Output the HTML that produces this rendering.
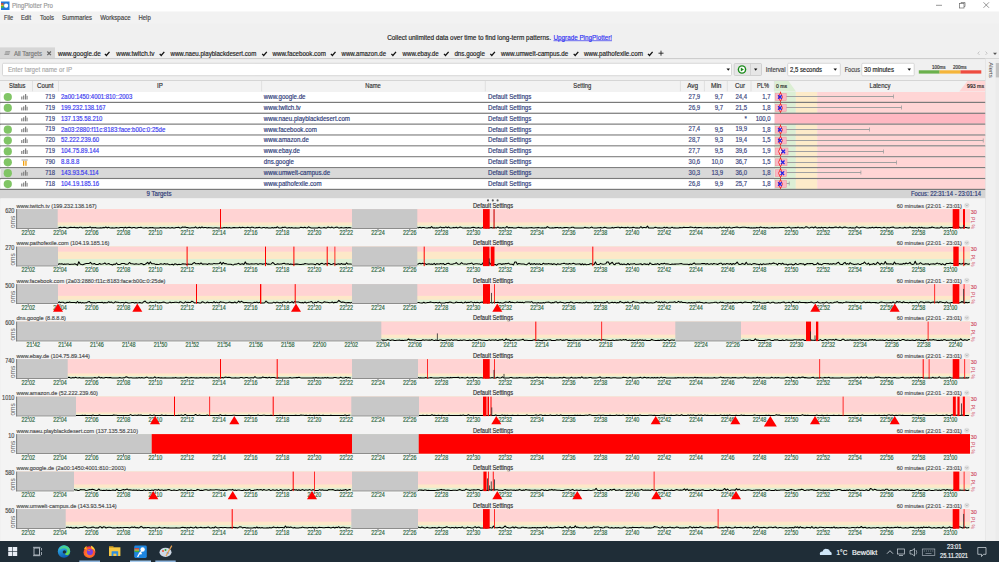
<!DOCTYPE html>
<html><head><meta charset="utf-8"><title>PingPlotter Pro</title>
<style>html,body{margin:0;padding:0;width:999px;height:562px;overflow:hidden;background:#f0f0f0;font-family:"Liberation Sans",sans-serif}svg{display:block}</style>
</head><body>
<svg width="999" height="562" viewBox="0 0 999 562" font-family='"Liberation Sans", sans-serif'><rect x="0.00" y="0.00" width="999.00" height="562.00" fill="#f0f0f0" />
<rect x="0.00" y="11.50" width="999.00" height="12.00" fill="#f2f2f2" />
<rect x="0.00" y="0.00" width="999.00" height="11.50" fill="#ffffff" />
<rect x="1.00" y="1.50" width="8.50" height="8.50" fill="#1f78d8" />
<rect x="1.00" y="3.20" width="2.60" height="1.50" fill="#e0402c" />
<rect x="1.00" y="4.70" width="2.60" height="1.50" fill="#e8c020" />
<rect x="1.00" y="6.20" width="2.60" height="1.60" fill="#50c030" />
<circle cx="6.1" cy="5.7" r="2.1" fill="#fff"/>
<text x="12.00" y="7.80" font-size="6.94" fill="#9a9a9a" text-anchor="start" textLength="41.00" lengthAdjust="spacingAndGlyphs" stroke="#9a9a9a" stroke-width="0.18" >PingPlotter Pro</text>
<line x1="936.00" y1="5.30" x2="942.00" y2="5.30" stroke="#6a6a6a" stroke-width="0.7" />
<rect x="959.5" y="3.5" width="4.5" height="4.5" fill="none" stroke="#6a6a6a" stroke-width="0.7"/>
<path d="M961 3.5 V2.5 H965 V6.5 H964" fill="none" stroke="#6a6a6a" stroke-width="0.7"/>
<line x1="983.50" y1="2.30" x2="989.00" y2="7.80" stroke="#6a6a6a" stroke-width="0.7" />
<line x1="989.00" y1="2.30" x2="983.50" y2="7.80" stroke="#6a6a6a" stroke-width="0.7" />
<text x="4.00" y="19.94" font-size="7.06" fill="#444" text-anchor="start" textLength="9.00" lengthAdjust="spacingAndGlyphs" stroke="#444" stroke-width="0.18" >File</text>
<text x="21.00" y="19.94" font-size="7.06" fill="#444" text-anchor="start" textLength="10.00" lengthAdjust="spacingAndGlyphs" stroke="#444" stroke-width="0.18" >Edit</text>
<text x="40.00" y="19.94" font-size="7.06" fill="#444" text-anchor="start" textLength="14.00" lengthAdjust="spacingAndGlyphs" stroke="#444" stroke-width="0.18" >Tools</text>
<text x="62.00" y="19.94" font-size="7.06" fill="#444" text-anchor="start" textLength="30.00" lengthAdjust="spacingAndGlyphs" stroke="#444" stroke-width="0.18" >Summaries</text>
<text x="100.20" y="19.94" font-size="7.06" fill="#444" text-anchor="start" textLength="30.40" lengthAdjust="spacingAndGlyphs" stroke="#444" stroke-width="0.18" >Workspace</text>
<text x="138.50" y="19.94" font-size="7.06" fill="#444" text-anchor="start" textLength="12.20" lengthAdjust="spacingAndGlyphs" stroke="#444" stroke-width="0.18" >Help</text>
<text x="387.20" y="40.06" font-size="7.39" fill="#222" text-anchor="start" textLength="163.80" lengthAdjust="spacingAndGlyphs" stroke="#222" stroke-width="0.18" >Collect unlimited data over time to find long-term patterns.</text>
<text x="553.50" y="40.06" font-size="7.39" fill="#3030f0" text-anchor="start" textLength="58.50" lengthAdjust="spacingAndGlyphs" stroke="#3030f0" stroke-width="0.18" >Upgrade PingPlotter!</text>
<line x1="553.50" y1="40.70" x2="612.00" y2="40.70" stroke="#3030f0" stroke-width="0.7" />
<rect x="0.00" y="47.40" width="55.00" height="11.00" fill="#d6d6d6" />
<line x1="5.40" y1="51.70" x2="10.20" y2="51.70" stroke="#8c8c8c" stroke-width="0.85" />
<line x1="4.90" y1="53.05" x2="9.70" y2="53.05" stroke="#8c8c8c" stroke-width="0.85" />
<line x1="4.40" y1="54.40" x2="9.20" y2="54.40" stroke="#8c8c8c" stroke-width="0.85" />
<text x="14.00" y="55.66" font-size="6.83" fill="#777" text-anchor="start" textLength="28.00" lengthAdjust="spacingAndGlyphs" stroke="#777" stroke-width="0.18" >All Targets</text>
<line x1="47.30" y1="51.50" x2="50.90" y2="55.10" stroke="#666" stroke-width="1.3" />
<line x1="50.90" y1="51.50" x2="47.30" y2="55.10" stroke="#666" stroke-width="1.3" />
<text x="58.00" y="55.84" font-size="7.06" fill="#222" text-anchor="start" textLength="42.70" lengthAdjust="spacingAndGlyphs" stroke="#222" stroke-width="0.18" >www.google.de</text>
<path d="M104.90 53.90 L106.40 55.50 L109.50 51.90" fill="none" stroke="#111" stroke-width="1.3"/>
<text x="116.30" y="55.84" font-size="7.06" fill="#222" text-anchor="start" textLength="38.20" lengthAdjust="spacingAndGlyphs" stroke="#222" stroke-width="0.18" >www.twitch.tv</text>
<path d="M159.70 53.90 L161.20 55.50 L164.30 51.90" fill="none" stroke="#111" stroke-width="1.3"/>
<text x="170.50" y="55.84" font-size="7.06" fill="#222" text-anchor="start" textLength="85.80" lengthAdjust="spacingAndGlyphs" stroke="#222" stroke-width="0.18" >www.naeu.playblackdesert.com</text>
<path d="M262.20 53.90 L263.70 55.50 L266.80 51.90" fill="none" stroke="#111" stroke-width="1.3"/>
<text x="272.50" y="55.84" font-size="7.06" fill="#222" text-anchor="start" textLength="53.30" lengthAdjust="spacingAndGlyphs" stroke="#222" stroke-width="0.18" >www.facebook.com</text>
<path d="M330.90 53.90 L332.40 55.50 L335.50 51.90" fill="none" stroke="#111" stroke-width="1.3"/>
<text x="341.60" y="55.84" font-size="7.06" fill="#222" text-anchor="start" textLength="44.40" lengthAdjust="spacingAndGlyphs" stroke="#222" stroke-width="0.18" >www.amazon.de</text>
<path d="M391.40 53.90 L392.90 55.50 L396.00 51.90" fill="none" stroke="#111" stroke-width="1.3"/>
<text x="402.50" y="55.84" font-size="7.06" fill="#222" text-anchor="start" textLength="36.10" lengthAdjust="spacingAndGlyphs" stroke="#222" stroke-width="0.18" >www.ebay.de</text>
<path d="M444.00 53.90 L445.50 55.50 L448.60 51.90" fill="none" stroke="#111" stroke-width="1.3"/>
<text x="454.40" y="55.84" font-size="7.06" fill="#222" text-anchor="start" textLength="30.50" lengthAdjust="spacingAndGlyphs" stroke="#222" stroke-width="0.18" >dns.google</text>
<path d="M490.30 53.90 L491.80 55.50 L494.90 51.90" fill="none" stroke="#111" stroke-width="1.3"/>
<text x="501.00" y="55.84" font-size="7.06" fill="#222" text-anchor="start" textLength="67.30" lengthAdjust="spacingAndGlyphs" stroke="#222" stroke-width="0.18" >www.umwelt-campus.de</text>
<path d="M573.70 53.90 L575.20 55.50 L578.30 51.90" fill="none" stroke="#111" stroke-width="1.3"/>
<text x="584.00" y="55.84" font-size="7.06" fill="#222" text-anchor="start" textLength="58.90" lengthAdjust="spacingAndGlyphs" stroke="#222" stroke-width="0.18" >www.pathofexile.com</text>
<path d="M648.00 53.90 L649.50 55.50 L652.60 51.90" fill="none" stroke="#111" stroke-width="1.3"/>
<line x1="658.50" y1="53.20" x2="663.50" y2="53.20" stroke="#222" stroke-width="0.9" />
<line x1="661.00" y1="50.70" x2="661.00" y2="55.70" stroke="#222" stroke-width="0.9" />
<path d="M979.5 51.5 L977.8 53.2 L979.5 54.9" fill="none" stroke="#aaa" stroke-width="0.6"/>
<path d="M985.5 51.5 L987.2 53.2 L985.5 54.9" fill="none" stroke="#aaa" stroke-width="0.6"/>
<path d="M993 52.8 L997 52.8 L995 55 Z" fill="#555"/>
<line x1="0.00" y1="58.60" x2="985.00" y2="58.60" stroke="#c9c9c9" stroke-width="1" />
<line x1="985.00" y1="58.60" x2="999.00" y2="58.60" stroke="#d4d4d4" stroke-width="1" />
<rect x="2.5" y="63.3" width="729" height="12.4" rx="1.2" fill="#fff" stroke="#c8c8c8" stroke-width="0.7"/>
<text x="8.00" y="72.10" font-size="6.94" fill="#aaa" text-anchor="start" textLength="64.00" lengthAdjust="spacingAndGlyphs" stroke="#aaa" stroke-width="0.18" >Enter target name or IP</text>
<path d="M726.5 68.5 L730 68.5 L728.25 70.8 Z" fill="#111"/>
<rect x="734.2" y="63.5" width="27.3" height="12" rx="1" fill="#e6e6e6" stroke="#c4c4c4" stroke-width="0.7"/>
<line x1="750.50" y1="63.80" x2="750.50" y2="75.20" stroke="#c8c8c8" stroke-width="0.7" />
<circle cx="742" cy="69.5" r="4.3" fill="#1a8a1a"/>
<circle cx="742" cy="69.5" r="2.9" fill="#fff"/>
<path d="M740.8 67.6 L740.8 71.4 L743.9 69.5 Z" fill="#1a8a1a"/>
<path d="M754 68.6 L757.4 68.6 L755.7 70.7 Z" fill="#111"/>
<text x="765.80" y="72.10" font-size="6.94" fill="#444" text-anchor="start" textLength="19.70" lengthAdjust="spacingAndGlyphs" stroke="#444" stroke-width="0.18" >Interval</text>
<rect x="787.7" y="63.3" width="52.6" height="12.5" rx="1" fill="#fff" stroke="#c8c8c8" stroke-width="0.7"/>
<text x="790.00" y="72.34" font-size="7.06" fill="#222" text-anchor="start" textLength="32.00" lengthAdjust="spacingAndGlyphs" stroke="#222" stroke-width="0.18" >2,5 seconds</text>
<path d="M833.5 68.6 L837 68.6 L835.25 70.8 Z" fill="#111"/>
<text x="844.70" y="72.10" font-size="6.94" fill="#444" text-anchor="start" textLength="15.30" lengthAdjust="spacingAndGlyphs" stroke="#444" stroke-width="0.18" >Focus</text>
<rect x="861.8" y="63.3" width="52.4" height="12.5" rx="1" fill="#fff" stroke="#c8c8c8" stroke-width="0.7"/>
<text x="864.00" y="72.34" font-size="7.06" fill="#222" text-anchor="start" textLength="30.00" lengthAdjust="spacingAndGlyphs" stroke="#222" stroke-width="0.18" >30 minutes</text>
<path d="M907.5 68.6 L911 68.6 L909.25 70.8 Z" fill="#111"/>
<rect x="918.80" y="70.30" width="20.80" height="3.30" fill="#6ab04c" />
<rect x="939.60" y="70.30" width="20.90" height="3.30" fill="#f5b53a" />
<rect x="960.50" y="70.30" width="20.80" height="3.30" fill="#ee4c40" />
<text x="932.00" y="69.05" font-size="5.15" fill="#333" text-anchor="start" textLength="13.50" lengthAdjust="spacingAndGlyphs" stroke="#333" stroke-width="0.18" >100ms</text>
<text x="953.00" y="69.05" font-size="5.15" fill="#333" text-anchor="start" textLength="13.50" lengthAdjust="spacingAndGlyphs" stroke="#333" stroke-width="0.18" >200ms</text>
<rect x="985.50" y="59.00" width="13.50" height="482.00" fill="#f0f0f0" />
<line x1="985.50" y1="59.00" x2="985.50" y2="541.00" stroke="#e2e2e2" stroke-width="0.8" />
<text x="0" y="0" font-size="5.8" fill="#444" transform="translate(988.6,62.3) rotate(90)" textLength="15.5" lengthAdjust="spacingAndGlyphs">Alerts</text>
<rect x="995.60" y="60.00" width="3.40" height="481.00" fill="#ececec" />
<rect x="995.80" y="63.00" width="3.20" height="14.40" fill="#c2c2c2" />
<rect x="0.00" y="80.00" width="985.20" height="0.80" fill="#c6c6c6" />
<rect x="0.00" y="80.80" width="985.20" height="10.90" fill="#f2f2f2" />
<line x1="32.50" y1="81.00" x2="32.50" y2="91.30" stroke="#dadada" stroke-width="0.8" />
<line x1="58.50" y1="81.00" x2="58.50" y2="91.30" stroke="#dadada" stroke-width="0.8" />
<line x1="261.60" y1="81.00" x2="261.60" y2="91.30" stroke="#dadada" stroke-width="0.8" />
<line x1="485.30" y1="81.00" x2="485.30" y2="91.30" stroke="#dadada" stroke-width="0.8" />
<line x1="680.40" y1="81.00" x2="680.40" y2="91.30" stroke="#dadada" stroke-width="0.8" />
<line x1="704.40" y1="81.00" x2="704.40" y2="91.30" stroke="#dadada" stroke-width="0.8" />
<line x1="727.30" y1="81.00" x2="727.30" y2="91.30" stroke="#dadada" stroke-width="0.8" />
<line x1="751.00" y1="81.00" x2="751.00" y2="91.30" stroke="#dadada" stroke-width="0.8" />
<line x1="774.40" y1="81.00" x2="774.40" y2="91.30" stroke="#dadada" stroke-width="0.8" />
<text x="9.00" y="88.26" font-size="6.83" fill="#333" text-anchor="start" textLength="16.50" lengthAdjust="spacingAndGlyphs" stroke="#333" stroke-width="0.18" >Status</text>
<text x="37.00" y="88.30" font-size="6.94" fill="#333" text-anchor="start" textLength="16.50" lengthAdjust="spacingAndGlyphs" stroke="#333" stroke-width="0.18" >Count</text>
<text x="160.00" y="88.30" font-size="6.94" fill="#333" text-anchor="middle" textLength="5.86" lengthAdjust="spacingAndGlyphs" stroke="#333" stroke-width="0.18" >IP</text>
<text x="373.00" y="88.30" font-size="6.94" fill="#333" text-anchor="middle" textLength="15.50" lengthAdjust="spacingAndGlyphs" stroke="#333" stroke-width="0.18" >Name</text>
<text x="582.30" y="88.30" font-size="6.94" fill="#333" text-anchor="middle" textLength="18.00" lengthAdjust="spacingAndGlyphs" stroke="#333" stroke-width="0.18" >Setting</text>
<text x="698.20" y="88.30" font-size="6.94" fill="#333" text-anchor="end" textLength="11.00" lengthAdjust="spacingAndGlyphs" stroke="#333" stroke-width="0.18" >Avg</text>
<text x="721.50" y="88.30" font-size="6.94" fill="#333" text-anchor="end" textLength="10.50" lengthAdjust="spacingAndGlyphs" stroke="#333" stroke-width="0.18" >Min</text>
<text x="745.00" y="88.30" font-size="6.94" fill="#333" text-anchor="end" textLength="10.00" lengthAdjust="spacingAndGlyphs" stroke="#333" stroke-width="0.18" >Cur</text>
<text x="769.00" y="88.30" font-size="6.94" fill="#333" text-anchor="end" textLength="12.00" lengthAdjust="spacingAndGlyphs" stroke="#333" stroke-width="0.18" >PL%</text>
<path d="M774.6 81 L788.5 81 L796 91.6 L774.6 91.6 Z" fill="#dbeed3"/>
<path d="M967.4 81 L985.2 81 L985.2 91.6 L959.3 91.6 Z" fill="#ffd5d5"/>
<text x="776.00" y="88.36" font-size="5.71" fill="#222" text-anchor="start" textLength="11.00" lengthAdjust="spacingAndGlyphs" stroke="#222" stroke-width="0.18" >0 ms</text>
<text x="880.00" y="88.06" font-size="6.83" fill="#333" text-anchor="middle" textLength="20.80" lengthAdjust="spacingAndGlyphs" stroke="#333" stroke-width="0.18" >Latency</text>
<text x="984.00" y="88.20" font-size="5.82" fill="#222" text-anchor="end" textLength="17.00" lengthAdjust="spacingAndGlyphs" stroke="#222" stroke-width="0.18" >993 ms</text>
<rect x="0.80" y="92.00" width="773.60" height="10.00" fill="#ffffff" />
<rect x="774.60" y="92.00" width="21.20" height="10.00" fill="#dcefd5" />
<rect x="795.80" y="92.00" width="21.50" height="10.00" fill="#fdebc9" />
<rect x="817.30" y="92.00" width="167.90" height="10.00" fill="#ffd5d5" />
<rect x="776.00" y="96.00" width="117.70" height="1.00" fill="#a0a0a0" />
<rect x="893.20" y="94.50" width="0.80" height="4.00" fill="#a0a0a0" />
<rect x="775.2" y="93.50" width="11.00" height="7.00" fill="#f9b9c5" stroke="#f3909f" stroke-width="0.5"/>
<rect x="780.05" y="91.70" width="0.90" height="10.60" fill="#ee2020" />
<path d="M780.5 92.60 L782.4 97.00 L780.5 101.40 L778.6 97.00 Z" fill="#fbe3e6" stroke="#f02020" stroke-width="0.9"/>
<path d="M778.10 95.20 L781.70 98.80 M781.70 95.20 L778.10 98.80" stroke="#2222e8" stroke-width="1.35"/>
<rect x="0.00" y="101.80" width="985.20" height="1.40" fill="#7a7a7a" />
<circle cx="7.8" cy="97.00" r="4.1" fill="#80c565"/>
<rect x="21.20" y="96.50" width="1.20" height="3.00" fill="#808080" />
<rect x="23.10" y="95.50" width="1.20" height="4.00" fill="#808080" />
<rect x="25.00" y="94.00" width="1.20" height="5.50" fill="#808080" />
<rect x="26.60" y="95.80" width="1.00" height="3.70" fill="#808080" />
<text x="55.00" y="98.77" font-size="6.59" fill="#3a4680" text-anchor="end" textLength="9.81" lengthAdjust="spacingAndGlyphs" stroke="#3a4680" stroke-width="0.18" >719</text>
<text x="61.00" y="98.80" font-size="6.68" fill="#3b3bf0" text-anchor="start" textLength="71.26" lengthAdjust="spacingAndGlyphs" stroke="#3b3bf0" stroke-width="0.18" >2a00:1450:4001:810::2003</text>
<text x="263.80" y="98.88" font-size="6.89" fill="#2d3a78" text-anchor="start" textLength="41.71" lengthAdjust="spacingAndGlyphs" stroke="#2d3a78" stroke-width="0.18" >www.google.de</text>
<text x="488.00" y="98.88" font-size="6.89" fill="#2d3a78" text-anchor="start" textLength="43.30" lengthAdjust="spacingAndGlyphs" stroke="#2d3a78" stroke-width="0.18" >Default Settings</text>
<text x="700.20" y="98.80" font-size="6.68" fill="#3a4680" text-anchor="end" textLength="11.60" lengthAdjust="spacingAndGlyphs" stroke="#3a4680" stroke-width="0.18" >27,9</text>
<text x="723.00" y="98.81" font-size="6.71" fill="#3a4680" text-anchor="end" textLength="8.32" lengthAdjust="spacingAndGlyphs" stroke="#3a4680" stroke-width="0.18" >9,7</text>
<text x="747.00" y="98.80" font-size="6.68" fill="#3a4680" text-anchor="end" textLength="11.60" lengthAdjust="spacingAndGlyphs" stroke="#3a4680" stroke-width="0.18" >24,4</text>
<text x="770.50" y="98.81" font-size="6.71" fill="#3a4680" text-anchor="end" textLength="8.32" lengthAdjust="spacingAndGlyphs" stroke="#3a4680" stroke-width="0.18" >1,7</text>
<rect x="0.80" y="103.00" width="773.60" height="9.88" fill="#ffffff" />
<rect x="774.60" y="103.00" width="21.20" height="9.88" fill="#dcefd5" />
<rect x="795.80" y="103.00" width="21.50" height="9.88" fill="#fdebc9" />
<rect x="817.30" y="103.00" width="167.90" height="9.88" fill="#ffd5d5" />
<rect x="776.00" y="107.00" width="125.70" height="1.00" fill="#a0a0a0" />
<rect x="901.20" y="105.50" width="0.80" height="4.00" fill="#a0a0a0" />
<rect x="775.2" y="104.50" width="11.00" height="6.88" fill="#f9b9c5" stroke="#f3909f" stroke-width="0.5"/>
<rect x="780.05" y="102.70" width="0.90" height="10.47" fill="#ee2020" />
<path d="M780.5 103.60 L782.4 107.94 L780.5 112.28 L778.6 107.94 Z" fill="#fbe3e6" stroke="#f02020" stroke-width="0.9"/>
<path d="M778.10 106.14 L781.70 109.74 M781.70 106.14 L778.10 109.74" stroke="#2222e8" stroke-width="1.35"/>
<rect x="0.00" y="112.67" width="985.20" height="1.40" fill="#7a7a7a" />
<circle cx="7.8" cy="107.94" r="4.1" fill="#80c565"/>
<rect x="21.20" y="107.44" width="1.20" height="3.00" fill="#808080" />
<rect x="23.10" y="106.44" width="1.20" height="4.00" fill="#808080" />
<rect x="25.00" y="104.94" width="1.20" height="5.50" fill="#808080" />
<rect x="26.60" y="106.74" width="1.00" height="3.70" fill="#808080" />
<text x="55.00" y="109.71" font-size="6.59" fill="#3a4680" text-anchor="end" textLength="9.81" lengthAdjust="spacingAndGlyphs" stroke="#3a4680" stroke-width="0.18" >719</text>
<text x="61.00" y="109.73" font-size="6.66" fill="#3b3bf0" text-anchor="start" textLength="44.62" lengthAdjust="spacingAndGlyphs" stroke="#3b3bf0" stroke-width="0.18" >199.232.138.167</text>
<text x="263.80" y="109.82" font-size="6.89" fill="#2d3a78" text-anchor="start" textLength="36.91" lengthAdjust="spacingAndGlyphs" stroke="#2d3a78" stroke-width="0.18" >www.twitch.tv</text>
<text x="488.00" y="109.82" font-size="6.89" fill="#2d3a78" text-anchor="start" textLength="43.30" lengthAdjust="spacingAndGlyphs" stroke="#2d3a78" stroke-width="0.18" >Default Settings</text>
<text x="700.20" y="109.74" font-size="6.68" fill="#3a4680" text-anchor="end" textLength="11.60" lengthAdjust="spacingAndGlyphs" stroke="#3a4680" stroke-width="0.18" >26,9</text>
<text x="723.00" y="109.75" font-size="6.71" fill="#3a4680" text-anchor="end" textLength="8.32" lengthAdjust="spacingAndGlyphs" stroke="#3a4680" stroke-width="0.18" >9,7</text>
<text x="747.00" y="109.74" font-size="6.68" fill="#3a4680" text-anchor="end" textLength="11.60" lengthAdjust="spacingAndGlyphs" stroke="#3a4680" stroke-width="0.18" >21,5</text>
<text x="770.50" y="109.75" font-size="6.71" fill="#3a4680" text-anchor="end" textLength="8.32" lengthAdjust="spacingAndGlyphs" stroke="#3a4680" stroke-width="0.18" >1,8</text>
<rect x="0.80" y="113.88" width="773.60" height="9.88" fill="#ffffff" />
<rect x="774.60" y="113.88" width="210.60" height="9.88" fill="#ffb8c2" />
<rect x="0.00" y="123.55" width="985.20" height="1.40" fill="#7a7a7a" />
<rect x="21.20" y="118.31" width="1.20" height="3.00" fill="#808080" />
<rect x="23.10" y="117.31" width="1.20" height="4.00" fill="#808080" />
<rect x="25.00" y="115.81" width="1.20" height="5.50" fill="#808080" />
<rect x="26.60" y="117.61" width="1.00" height="3.70" fill="#808080" />
<text x="55.00" y="120.58" font-size="6.59" fill="#3a4680" text-anchor="end" textLength="9.81" lengthAdjust="spacingAndGlyphs" stroke="#3a4680" stroke-width="0.18" >719</text>
<text x="61.00" y="120.61" font-size="6.66" fill="#3b3bf0" text-anchor="start" textLength="41.35" lengthAdjust="spacingAndGlyphs" stroke="#3b3bf0" stroke-width="0.18" >137.135.58.210</text>
<text x="263.80" y="120.69" font-size="6.89" fill="#2d3a78" text-anchor="start" textLength="86.14" lengthAdjust="spacingAndGlyphs" stroke="#2d3a78" stroke-width="0.18" >www.naeu.playblackdesert.com</text>
<text x="488.00" y="120.69" font-size="6.89" fill="#2d3a78" text-anchor="start" textLength="43.30" lengthAdjust="spacingAndGlyphs" stroke="#2d3a78" stroke-width="0.18" >Default Settings</text>
<text x="747.00" y="120.71" font-size="6.94" fill="#3a4680" text-anchor="end" textLength="2.41" lengthAdjust="spacingAndGlyphs" stroke="#3a4680" stroke-width="0.18" >*</text>
<text x="770.50" y="120.61" font-size="6.66" fill="#3a4680" text-anchor="end" textLength="14.87" lengthAdjust="spacingAndGlyphs" stroke="#3a4680" stroke-width="0.18" >100,0</text>
<rect x="0.80" y="124.75" width="773.60" height="9.88" fill="#ffffff" />
<rect x="774.60" y="124.75" width="21.20" height="9.88" fill="#dcefd5" />
<rect x="795.80" y="124.75" width="21.50" height="9.88" fill="#fdebc9" />
<rect x="817.30" y="124.75" width="167.90" height="9.88" fill="#ffd5d5" />
<rect x="776.00" y="129.00" width="93.70" height="1.00" fill="#a0a0a0" />
<rect x="869.20" y="127.50" width="0.80" height="4.00" fill="#a0a0a0" />
<rect x="775.2" y="126.25" width="11.00" height="6.88" fill="#f9b9c5" stroke="#f3909f" stroke-width="0.5"/>
<rect x="780.05" y="124.45" width="0.90" height="10.47" fill="#ee2020" />
<path d="M780.5 125.35 L782.4 129.69 L780.5 134.03 L778.6 129.69 Z" fill="#fbe3e6" stroke="#f02020" stroke-width="0.9"/>
<path d="M778.10 127.89 L781.70 131.49 M781.70 127.89 L778.10 131.49" stroke="#2222e8" stroke-width="1.35"/>
<rect x="0.00" y="134.43" width="985.20" height="1.40" fill="#7a7a7a" />
<circle cx="7.8" cy="129.69" r="4.1" fill="#80c565"/>
<rect x="21.20" y="129.19" width="1.20" height="3.00" fill="#808080" />
<rect x="23.10" y="128.19" width="1.20" height="4.00" fill="#808080" />
<rect x="25.00" y="126.69" width="1.20" height="5.50" fill="#808080" />
<rect x="26.60" y="128.49" width="1.00" height="3.70" fill="#808080" />
<text x="55.00" y="131.46" font-size="6.59" fill="#3a4680" text-anchor="end" textLength="9.81" lengthAdjust="spacingAndGlyphs" stroke="#3a4680" stroke-width="0.18" >719</text>
<text x="61.00" y="131.52" font-size="6.76" fill="#3b3bf0" text-anchor="start" textLength="104.33" lengthAdjust="spacingAndGlyphs" stroke="#3b3bf0" stroke-width="0.18" >2a03:2880:f11c:8183:face:b00c:0:25de</text>
<text x="263.80" y="131.57" font-size="6.89" fill="#2d3a78" text-anchor="start" textLength="52.98" lengthAdjust="spacingAndGlyphs" stroke="#2d3a78" stroke-width="0.18" >www.facebook.com</text>
<text x="488.00" y="131.57" font-size="6.89" fill="#2d3a78" text-anchor="start" textLength="43.30" lengthAdjust="spacingAndGlyphs" stroke="#2d3a78" stroke-width="0.18" >Default Settings</text>
<text x="700.20" y="131.49" font-size="6.68" fill="#3a4680" text-anchor="end" textLength="11.60" lengthAdjust="spacingAndGlyphs" stroke="#3a4680" stroke-width="0.18" >27,4</text>
<text x="723.00" y="131.50" font-size="6.71" fill="#3a4680" text-anchor="end" textLength="8.32" lengthAdjust="spacingAndGlyphs" stroke="#3a4680" stroke-width="0.18" >9,5</text>
<text x="747.00" y="131.49" font-size="6.68" fill="#3a4680" text-anchor="end" textLength="11.60" lengthAdjust="spacingAndGlyphs" stroke="#3a4680" stroke-width="0.18" >19,9</text>
<text x="770.50" y="131.50" font-size="6.71" fill="#3a4680" text-anchor="end" textLength="8.32" lengthAdjust="spacingAndGlyphs" stroke="#3a4680" stroke-width="0.18" >1,8</text>
<rect x="0.80" y="135.62" width="773.60" height="9.88" fill="#ffffff" />
<rect x="774.60" y="135.62" width="21.20" height="9.88" fill="#dcefd5" />
<rect x="795.80" y="135.62" width="21.50" height="9.88" fill="#fdebc9" />
<rect x="817.30" y="135.62" width="167.90" height="9.88" fill="#ffd5d5" />
<rect x="776.00" y="140.00" width="207.30" height="1.00" fill="#a0a0a0" />
<rect x="982.80" y="138.50" width="0.80" height="4.00" fill="#a0a0a0" />
<rect x="775.2" y="137.12" width="11.00" height="6.88" fill="#f9b9c5" stroke="#f3909f" stroke-width="0.5"/>
<rect x="780.05" y="135.32" width="0.90" height="10.47" fill="#ee2020" />
<path d="M780.5 136.22 L782.4 140.56 L780.5 144.90 L778.6 140.56 Z" fill="#fbe3e6" stroke="#f02020" stroke-width="0.9"/>
<path d="M778.10 138.76 L781.70 142.36 M781.70 138.76 L778.10 142.36" stroke="#2222e8" stroke-width="1.35"/>
<rect x="0.00" y="145.30" width="985.20" height="1.40" fill="#7a7a7a" />
<circle cx="7.8" cy="140.56" r="4.1" fill="#80c565"/>
<rect x="21.20" y="140.06" width="1.20" height="3.00" fill="#808080" />
<rect x="23.10" y="139.06" width="1.20" height="4.00" fill="#808080" />
<rect x="25.00" y="137.56" width="1.20" height="5.50" fill="#808080" />
<rect x="26.60" y="139.36" width="1.00" height="3.70" fill="#808080" />
<text x="55.00" y="142.33" font-size="6.59" fill="#3a4680" text-anchor="end" textLength="9.81" lengthAdjust="spacingAndGlyphs" stroke="#3a4680" stroke-width="0.18" >720</text>
<text x="61.00" y="142.36" font-size="6.67" fill="#3b3bf0" text-anchor="start" textLength="38.08" lengthAdjust="spacingAndGlyphs" stroke="#3b3bf0" stroke-width="0.18" >52.222.239.60</text>
<text x="263.80" y="142.44" font-size="6.89" fill="#2d3a78" text-anchor="start" textLength="45.12" lengthAdjust="spacingAndGlyphs" stroke="#2d3a78" stroke-width="0.18" >www.amazon.de</text>
<text x="488.00" y="142.44" font-size="6.89" fill="#2d3a78" text-anchor="start" textLength="43.30" lengthAdjust="spacingAndGlyphs" stroke="#2d3a78" stroke-width="0.18" >Default Settings</text>
<text x="700.20" y="142.37" font-size="6.68" fill="#3a4680" text-anchor="end" textLength="11.60" lengthAdjust="spacingAndGlyphs" stroke="#3a4680" stroke-width="0.18" >28,7</text>
<text x="723.00" y="142.38" font-size="6.71" fill="#3a4680" text-anchor="end" textLength="8.32" lengthAdjust="spacingAndGlyphs" stroke="#3a4680" stroke-width="0.18" >9,3</text>
<text x="747.00" y="142.37" font-size="6.68" fill="#3a4680" text-anchor="end" textLength="11.60" lengthAdjust="spacingAndGlyphs" stroke="#3a4680" stroke-width="0.18" >19,4</text>
<text x="770.50" y="142.38" font-size="6.71" fill="#3a4680" text-anchor="end" textLength="8.32" lengthAdjust="spacingAndGlyphs" stroke="#3a4680" stroke-width="0.18" >1,5</text>
<rect x="0.80" y="146.50" width="773.60" height="9.88" fill="#ffffff" />
<rect x="774.60" y="146.50" width="21.20" height="9.88" fill="#dcefd5" />
<rect x="795.80" y="146.50" width="21.50" height="9.88" fill="#fdebc9" />
<rect x="817.30" y="146.50" width="167.90" height="9.88" fill="#ffd5d5" />
<rect x="776.00" y="151.00" width="107.70" height="1.00" fill="#a0a0a0" />
<rect x="883.20" y="149.50" width="0.80" height="4.00" fill="#a0a0a0" />
<rect x="775.2" y="148.00" width="12.80" height="6.88" fill="#f9b9c5" stroke="#f3909f" stroke-width="0.5"/>
<rect x="780.05" y="146.20" width="0.90" height="10.47" fill="#ee2020" />
<path d="M780.5 147.10 L782.4 151.44 L780.5 155.78 L778.6 151.44 Z" fill="#fbe3e6" stroke="#f02020" stroke-width="0.9"/>
<path d="M781.50 149.64 L785.10 153.24 M785.10 149.64 L781.50 153.24" stroke="#2222e8" stroke-width="1.35"/>
<rect x="0.00" y="156.18" width="985.20" height="1.40" fill="#7a7a7a" />
<circle cx="7.8" cy="151.44" r="4.1" fill="#80c565"/>
<rect x="21.20" y="150.94" width="1.20" height="3.00" fill="#808080" />
<rect x="23.10" y="149.94" width="1.20" height="4.00" fill="#808080" />
<rect x="25.00" y="148.44" width="1.20" height="5.50" fill="#808080" />
<rect x="26.60" y="150.24" width="1.00" height="3.70" fill="#808080" />
<text x="55.00" y="153.21" font-size="6.59" fill="#3a4680" text-anchor="end" textLength="9.81" lengthAdjust="spacingAndGlyphs" stroke="#3a4680" stroke-width="0.18" >719</text>
<text x="61.00" y="153.24" font-size="6.67" fill="#3b3bf0" text-anchor="start" textLength="38.08" lengthAdjust="spacingAndGlyphs" stroke="#3b3bf0" stroke-width="0.18" >104.75.89.144</text>
<text x="263.80" y="153.32" font-size="6.89" fill="#2d3a78" text-anchor="start" textLength="36.12" lengthAdjust="spacingAndGlyphs" stroke="#2d3a78" stroke-width="0.18" >www.ebay.de</text>
<text x="488.00" y="153.32" font-size="6.89" fill="#2d3a78" text-anchor="start" textLength="43.30" lengthAdjust="spacingAndGlyphs" stroke="#2d3a78" stroke-width="0.18" >Default Settings</text>
<text x="700.20" y="153.24" font-size="6.68" fill="#3a4680" text-anchor="end" textLength="11.60" lengthAdjust="spacingAndGlyphs" stroke="#3a4680" stroke-width="0.18" >27,7</text>
<text x="723.00" y="153.25" font-size="6.71" fill="#3a4680" text-anchor="end" textLength="8.32" lengthAdjust="spacingAndGlyphs" stroke="#3a4680" stroke-width="0.18" >9,5</text>
<text x="747.00" y="153.24" font-size="6.68" fill="#3a4680" text-anchor="end" textLength="11.60" lengthAdjust="spacingAndGlyphs" stroke="#3a4680" stroke-width="0.18" >39,6</text>
<text x="770.50" y="153.25" font-size="6.71" fill="#3a4680" text-anchor="end" textLength="8.32" lengthAdjust="spacingAndGlyphs" stroke="#3a4680" stroke-width="0.18" >1,9</text>
<rect x="0.80" y="157.38" width="773.60" height="9.88" fill="#ffffff" />
<rect x="774.60" y="157.38" width="21.20" height="9.88" fill="#dcefd5" />
<rect x="795.80" y="157.38" width="21.50" height="9.88" fill="#fdebc9" />
<rect x="817.30" y="157.38" width="167.90" height="9.88" fill="#ffd5d5" />
<rect x="776.00" y="162.00" width="120.70" height="1.00" fill="#a0a0a0" />
<rect x="896.20" y="160.50" width="0.80" height="4.00" fill="#a0a0a0" />
<rect x="775.2" y="158.88" width="11.80" height="6.88" fill="#f9b9c5" stroke="#f3909f" stroke-width="0.5"/>
<rect x="780.05" y="157.07" width="0.90" height="10.47" fill="#ee2020" />
<path d="M780.5 157.97 L782.4 162.31 L780.5 166.65 L778.6 162.31 Z" fill="#fbe3e6" stroke="#f02020" stroke-width="0.9"/>
<path d="M780.90 160.51 L784.50 164.11 M784.50 160.51 L780.90 164.11" stroke="#2222e8" stroke-width="1.35"/>
<rect x="0.00" y="167.05" width="985.20" height="1.40" fill="#7a7a7a" />
<circle cx="7.8" cy="162.31" r="4.1" fill="#80c565"/>
<rect x="23.00" y="160.81" width="1.30" height="5.00" fill="#f0a010" />
<rect x="25.30" y="160.81" width="1.30" height="5.00" fill="#f0a010" />
<line x1="21.50" y1="160.01" x2="27.80" y2="160.01" stroke="#666" stroke-width="0.6" />
<text x="55.00" y="164.08" font-size="6.59" fill="#3a4680" text-anchor="end" textLength="9.81" lengthAdjust="spacingAndGlyphs" stroke="#3a4680" stroke-width="0.18" >790</text>
<text x="61.00" y="164.14" font-size="6.74" fill="#3b3bf0" text-anchor="start" textLength="18.40" lengthAdjust="spacingAndGlyphs" stroke="#3b3bf0" stroke-width="0.18" >8.8.8.8</text>
<text x="263.80" y="164.19" font-size="6.89" fill="#2d3a78" text-anchor="start" textLength="30.09" lengthAdjust="spacingAndGlyphs" stroke="#2d3a78" stroke-width="0.18" >dns.google</text>
<text x="488.00" y="164.19" font-size="6.89" fill="#2d3a78" text-anchor="start" textLength="43.30" lengthAdjust="spacingAndGlyphs" stroke="#2d3a78" stroke-width="0.18" >Default Settings</text>
<text x="700.20" y="164.12" font-size="6.68" fill="#3a4680" text-anchor="end" textLength="11.60" lengthAdjust="spacingAndGlyphs" stroke="#3a4680" stroke-width="0.18" >30,6</text>
<text x="723.00" y="164.12" font-size="6.68" fill="#3a4680" text-anchor="end" textLength="11.60" lengthAdjust="spacingAndGlyphs" stroke="#3a4680" stroke-width="0.18" >10,0</text>
<text x="747.00" y="164.12" font-size="6.68" fill="#3a4680" text-anchor="end" textLength="11.60" lengthAdjust="spacingAndGlyphs" stroke="#3a4680" stroke-width="0.18" >36,7</text>
<text x="770.50" y="164.13" font-size="6.71" fill="#3a4680" text-anchor="end" textLength="8.32" lengthAdjust="spacingAndGlyphs" stroke="#3a4680" stroke-width="0.18" >1,5</text>
<rect x="0.80" y="168.25" width="773.60" height="9.88" fill="#d9d9d9" />
<rect x="774.60" y="168.25" width="21.20" height="9.88" fill="#dcefd5" />
<rect x="795.80" y="168.25" width="21.50" height="9.88" fill="#fdebc9" />
<rect x="817.30" y="168.25" width="167.90" height="9.88" fill="#ffd5d5" />
<rect x="776.00" y="172.00" width="85.00" height="1.00" fill="#a0a0a0" />
<rect x="860.50" y="170.50" width="0.80" height="4.00" fill="#a0a0a0" />
<rect x="775.2" y="169.75" width="11.30" height="6.88" fill="#f9b9c5" stroke="#f3909f" stroke-width="0.5"/>
<rect x="780.05" y="167.95" width="0.90" height="10.47" fill="#ee2020" />
<path d="M780.5 168.85 L782.4 173.19 L780.5 177.53 L778.6 173.19 Z" fill="#fbe3e6" stroke="#f02020" stroke-width="0.9"/>
<path d="M780.50 171.39 L784.10 174.99 M784.10 171.39 L780.50 174.99" stroke="#2222e8" stroke-width="1.35"/>
<rect x="0.00" y="177.93" width="985.20" height="1.40" fill="#7a7a7a" />
<circle cx="7.8" cy="173.19" r="4.1" fill="#80c565"/>
<rect x="21.20" y="172.69" width="1.20" height="3.00" fill="#808080" />
<rect x="23.10" y="171.69" width="1.20" height="4.00" fill="#808080" />
<rect x="25.00" y="170.19" width="1.20" height="5.50" fill="#808080" />
<rect x="26.60" y="171.99" width="1.00" height="3.70" fill="#808080" />
<text x="55.00" y="174.96" font-size="6.59" fill="#3a4680" text-anchor="end" textLength="9.81" lengthAdjust="spacingAndGlyphs" stroke="#3a4680" stroke-width="0.18" >718</text>
<text x="61.00" y="174.99" font-size="6.67" fill="#3b3bf0" text-anchor="start" textLength="37.63" lengthAdjust="spacingAndGlyphs" stroke="#3b3bf0" stroke-width="0.18" >143.93.54.114</text>
<text x="263.80" y="175.07" font-size="6.89" fill="#2d3a78" text-anchor="start" textLength="66.31" lengthAdjust="spacingAndGlyphs" stroke="#2d3a78" stroke-width="0.18" >www.umwelt-campus.de</text>
<text x="488.00" y="175.07" font-size="6.89" fill="#2d3a78" text-anchor="start" textLength="43.30" lengthAdjust="spacingAndGlyphs" stroke="#2d3a78" stroke-width="0.18" >Default Settings</text>
<text x="700.20" y="174.99" font-size="6.68" fill="#3a4680" text-anchor="end" textLength="11.60" lengthAdjust="spacingAndGlyphs" stroke="#3a4680" stroke-width="0.18" >30,3</text>
<text x="723.00" y="174.99" font-size="6.68" fill="#3a4680" text-anchor="end" textLength="11.60" lengthAdjust="spacingAndGlyphs" stroke="#3a4680" stroke-width="0.18" >13,9</text>
<text x="747.00" y="174.99" font-size="6.68" fill="#3a4680" text-anchor="end" textLength="11.60" lengthAdjust="spacingAndGlyphs" stroke="#3a4680" stroke-width="0.18" >36,0</text>
<text x="770.50" y="175.00" font-size="6.71" fill="#3a4680" text-anchor="end" textLength="8.32" lengthAdjust="spacingAndGlyphs" stroke="#3a4680" stroke-width="0.18" >1,8</text>
<rect x="0.80" y="179.12" width="773.60" height="9.88" fill="#ffffff" />
<rect x="774.60" y="179.12" width="21.20" height="9.88" fill="#dcefd5" />
<rect x="795.80" y="179.12" width="21.50" height="9.88" fill="#fdebc9" />
<rect x="817.30" y="179.12" width="167.90" height="9.88" fill="#ffd5d5" />
<rect x="776.00" y="183.00" width="13.30" height="1.00" fill="#a0a0a0" />
<rect x="788.80" y="181.50" width="0.80" height="4.00" fill="#a0a0a0" />
<rect x="775.2" y="180.62" width="11.30" height="6.88" fill="#f9b9c5" stroke="#f3909f" stroke-width="0.5"/>
<rect x="780.05" y="178.82" width="0.90" height="10.47" fill="#ee2020" />
<path d="M780.5 179.72 L782.4 184.06 L780.5 188.40 L778.6 184.06 Z" fill="#fbe3e6" stroke="#f02020" stroke-width="0.9"/>
<path d="M778.10 182.26 L781.70 185.86 M781.70 182.26 L778.10 185.86" stroke="#2222e8" stroke-width="1.35"/>
<rect x="0.00" y="188.80" width="985.20" height="1.40" fill="#7a7a7a" />
<circle cx="7.8" cy="184.06" r="4.1" fill="#80c565"/>
<rect x="21.20" y="183.56" width="1.20" height="3.00" fill="#808080" />
<rect x="23.10" y="182.56" width="1.20" height="4.00" fill="#808080" />
<rect x="25.00" y="181.06" width="1.20" height="5.50" fill="#808080" />
<rect x="26.60" y="182.86" width="1.00" height="3.70" fill="#808080" />
<text x="55.00" y="185.83" font-size="6.59" fill="#3a4680" text-anchor="end" textLength="9.81" lengthAdjust="spacingAndGlyphs" stroke="#3a4680" stroke-width="0.18" >718</text>
<text x="61.00" y="185.86" font-size="6.67" fill="#3b3bf0" text-anchor="start" textLength="38.08" lengthAdjust="spacingAndGlyphs" stroke="#3b3bf0" stroke-width="0.18" >104.19.185.16</text>
<text x="263.80" y="185.94" font-size="6.89" fill="#2d3a78" text-anchor="start" textLength="57.77" lengthAdjust="spacingAndGlyphs" stroke="#2d3a78" stroke-width="0.18" >www.pathofexile.com</text>
<text x="488.00" y="185.94" font-size="6.89" fill="#2d3a78" text-anchor="start" textLength="43.30" lengthAdjust="spacingAndGlyphs" stroke="#2d3a78" stroke-width="0.18" >Default Settings</text>
<text x="700.20" y="185.87" font-size="6.68" fill="#3a4680" text-anchor="end" textLength="11.60" lengthAdjust="spacingAndGlyphs" stroke="#3a4680" stroke-width="0.18" >26,8</text>
<text x="723.00" y="185.88" font-size="6.71" fill="#3a4680" text-anchor="end" textLength="8.32" lengthAdjust="spacingAndGlyphs" stroke="#3a4680" stroke-width="0.18" >9,9</text>
<text x="747.00" y="185.87" font-size="6.68" fill="#3a4680" text-anchor="end" textLength="11.60" lengthAdjust="spacingAndGlyphs" stroke="#3a4680" stroke-width="0.18" >25,7</text>
<text x="770.50" y="185.88" font-size="6.71" fill="#3a4680" text-anchor="end" textLength="8.32" lengthAdjust="spacingAndGlyphs" stroke="#3a4680" stroke-width="0.18" >1,8</text>
<rect x="0.00" y="190.00" width="985.20" height="8.40" fill="#d4d4d4" />
<text x="159.00" y="196.36" font-size="6.83" fill="#2d3a78" text-anchor="middle" textLength="25.00" lengthAdjust="spacingAndGlyphs" stroke="#2d3a78" stroke-width="0.18" >9 Targets</text>
<text x="981.00" y="196.28" font-size="6.61" fill="#2d3a78" text-anchor="end" textLength="70.00" lengthAdjust="spacingAndGlyphs" stroke="#2d3a78" stroke-width="0.18" >Focus: 22:31:14 - 23:01:14</text>
<rect x="0.80" y="198.40" width="984.40" height="342.60" fill="#f4f4f4" />
<text x="16.50" y="207.84" font-size="6.22" fill="#505050" text-anchor="start" textLength="80.21" lengthAdjust="spacingAndGlyphs" stroke="#505050" stroke-width="0.18" >www.twitch.tv (199.232.138.167)</text>
<text x="493.00" y="207.86" font-size="6.27" fill="#303030" text-anchor="middle" textLength="40.00" lengthAdjust="spacingAndGlyphs" stroke="#303030" stroke-width="0.18" >Default Settings</text>
<text x="962.00" y="207.84" font-size="6.22" fill="#505050" text-anchor="end" textLength="65.30" lengthAdjust="spacingAndGlyphs" stroke="#505050" stroke-width="0.18" >60 minutes (22:01 - 23:01)</text>
<circle cx="966.8" cy="205.30" r="2.6" fill="#e0e0e0"/>
<path d="M965.5 204.60 L966.8 205.90 L968.1 204.60" fill="none" stroke="#888" stroke-width="0.5"/>
<text x="14.50" y="212.86" font-size="6.27" fill="#505050" text-anchor="end" textLength="9.34" lengthAdjust="spacingAndGlyphs" stroke="#505050" stroke-width="0.18" >620</text>
<text x="0" y="0" font-size="6.4" fill="#606060" transform="translate(14.7,228.00) rotate(-90)" textLength="12.2" lengthAdjust="spacingAndGlyphs">oms</text>
<text x="970.70" y="213.68" font-size="6.05" fill="#d04a62" text-anchor="start" textLength="6.10" lengthAdjust="spacingAndGlyphs" stroke="#d04a62" stroke-width="0.18" >30</text>
<text x="0" y="0" font-size="6.2" fill="#d04a62" transform="translate(971.1,217.10) rotate(90)" textLength="12" lengthAdjust="spacingAndGlyphs">PL %</text>
<rect x="16.80" y="209.10" width="953.20" height="19.60" fill="#ddf0d5" />
<rect x="16.80" y="209.10" width="953.20" height="16.44" fill="#fde8c8" />
<rect x="16.80" y="209.10" width="953.20" height="13.28" fill="#ffd3d3" />
<polyline points="57.7,227.9 59.0,227.8 60.3,227.2 61.6,227.8 62.9,227.6 64.2,227.3 65.5,227.6 66.8,227.9 68.1,227.9 69.4,227.6 70.7,227.3 72.0,227.5 73.3,227.6 74.6,227.2 75.9,227.7 77.2,227.5 78.5,227.9 79.8,227.2 81.1,227.3 82.4,227.9 83.7,227.7 85.0,227.5 86.3,227.8 87.6,227.5 88.9,227.6 90.2,227.0 91.5,227.9 92.8,227.6 94.1,227.7 95.4,227.5 96.7,227.9 98.0,227.9 99.3,227.9 100.6,227.8 101.9,227.9 103.2,227.4 104.5,227.7 105.8,227.0 107.1,227.9 108.4,227.3 109.7,227.7 111.0,227.9 112.3,227.7 113.6,227.9 114.9,227.9 116.2,227.6 117.5,227.8 118.8,227.9 120.1,227.6 121.4,227.4 122.7,227.5 124.0,227.9 125.3,227.3 126.6,227.9 127.9,227.5 129.2,227.2 130.5,227.5 131.8,227.9 133.1,227.5 134.4,227.5 135.7,227.9 137.0,227.9 138.3,227.4 139.6,227.6 140.9,227.3 142.2,227.8 143.5,227.9 144.8,227.9 146.1,227.5 147.4,227.9 148.7,227.9 150.0,227.5 151.3,227.8 152.6,227.5 153.9,227.9 155.2,227.9 156.5,227.9 157.8,227.9 159.1,227.9 160.4,227.5 161.7,227.9 163.0,227.7 164.3,227.6 165.6,227.9 166.9,227.9 168.2,227.6 169.5,227.9 170.8,227.9 172.1,227.5 173.4,227.9 174.7,227.9 176.0,227.4 177.3,227.6 178.6,227.3 179.9,227.9 181.2,227.9 182.5,227.0 183.8,227.3 185.1,227.0 186.4,227.6 187.7,227.5 189.0,227.9 190.3,227.9 191.6,227.7 192.9,227.7 194.2,227.8 195.5,226.8 196.8,227.9 198.1,227.9 199.4,227.3 200.7,227.9 202.0,226.8 203.3,227.8 204.6,227.4 205.9,227.6 207.2,227.9 208.5,227.6 209.8,227.8 211.1,227.8 212.4,227.9 213.7,227.9 215.0,227.8 216.3,227.7 217.6,227.9 218.9,227.9 220.2,227.9 221.5,227.9 222.8,227.9 224.1,227.5 225.4,227.8 226.7,227.5 228.0,227.9 229.3,227.5 230.6,227.9 231.9,227.9 233.2,227.6 234.5,227.6 235.8,227.7 237.1,227.8 238.4,227.7 239.7,227.3 241.0,227.9 242.3,227.2 243.6,227.4 244.9,227.7 246.2,227.7 247.5,227.3 248.8,227.6 250.1,227.9 251.4,227.3 252.7,227.3 254.0,227.7 255.3,227.9 256.6,227.5 257.9,227.8 259.2,227.3 260.5,227.7 261.8,227.9 263.1,227.5 264.4,227.6 265.7,227.9 267.0,227.5 268.3,227.9 269.6,227.9 270.9,227.9 272.2,227.5 273.5,227.9 274.8,227.6 276.1,227.7 277.4,226.8 278.7,227.9 280.0,227.9 281.3,227.9 282.6,227.3 283.9,227.5 285.2,227.1 286.5,227.9 287.8,227.9 289.1,227.6 290.4,227.9 291.7,227.5 293.0,227.9 294.3,227.9 295.6,227.8 296.9,227.9 298.2,227.9 299.5,227.9 300.8,227.2 302.1,227.5 303.4,227.8 304.7,227.2 306.0,227.8 307.3,227.9 308.6,226.8 309.9,227.6 311.2,227.9 312.5,227.9 313.8,227.9 315.1,227.9 316.4,227.9 317.7,227.9 319.0,227.3 320.3,227.9 321.6,227.9 322.9,227.7 324.2,227.4 325.5,227.9 326.8,227.9 328.1,226.9 329.4,227.4 330.7,227.7 332.0,227.1 333.3,227.9 334.6,227.8 335.9,227.3 337.2,227.1 338.5,227.9 339.8,227.9 341.1,227.4 342.4,227.8 343.7,227.9 345.0,227.7 346.3,227.5 347.6,227.9 348.9,227.5 350.2,227.7 351.5,227.9" fill="none" stroke="#000" stroke-width="1.05" stroke-linejoin="round"/>
<polyline points="417.3,227.1 418.6,227.9 419.9,227.2 421.2,227.9 422.5,227.5 423.8,227.5 425.1,227.8 426.4,227.9 427.7,227.9 429.0,227.4 430.3,227.9 431.6,226.6 432.9,227.9 434.2,227.7 435.5,227.9 436.8,227.8 438.1,227.9 439.4,227.6 440.7,227.1 442.0,227.8 443.3,227.6 444.6,227.7 445.9,226.9 447.2,227.9 448.5,227.0 449.8,227.9 451.1,227.9 452.4,227.8 453.7,227.4 455.0,227.7 456.3,227.3 457.6,227.9 458.9,227.6 460.2,227.1 461.5,227.6 462.8,227.9 464.1,227.9 465.4,227.8 466.7,227.9 468.0,227.7 469.3,227.9 470.6,227.9 471.9,227.5 473.2,227.2 474.5,227.5 475.8,227.9 477.1,227.9 478.4,227.4 479.7,227.9 481.0,227.9 482.3,227.7 483.6,227.1 484.9,227.7 486.2,227.9 487.5,227.5 488.8,227.9 490.1,227.7 491.4,227.6 492.7,227.9 494.0,227.6 495.3,227.7 496.6,227.9 497.9,227.0 499.2,227.9 500.5,227.8 501.8,227.9 503.1,227.6 504.4,227.9 505.7,227.7 507.0,226.5 508.3,227.9 509.6,227.4 510.9,227.7 512.2,227.6 513.5,227.9 514.8,227.9 516.1,227.9 517.4,227.6 518.7,227.2 520.0,227.8 521.3,227.4 522.6,227.9 523.9,227.9 525.2,227.9 526.5,227.8 527.8,227.9 529.1,227.7 530.4,227.7 531.7,227.6 533.0,227.9 534.3,227.9 535.6,227.8 536.9,227.8 538.2,227.4 539.5,227.8 540.8,227.9 542.1,227.8 543.4,227.9 544.7,227.8 546.0,227.9 547.3,226.6 548.6,227.5 549.9,227.9 551.2,227.9 552.5,227.8 553.8,227.9 555.1,227.6 556.4,227.6 557.7,227.4 559.0,227.9 560.3,227.6 561.6,227.9 562.9,227.9 564.2,227.6 565.5,227.6 566.8,227.5 568.1,227.7 569.4,227.9 570.7,227.8 572.0,227.2 573.3,227.3 574.6,227.9 575.9,227.9 577.2,227.9 578.5,227.9 579.8,227.9 581.1,227.9 582.4,227.9 583.7,227.9 585.0,227.2 586.3,227.8 587.6,227.7 588.9,227.9 590.2,227.8 591.5,227.1 592.8,227.7 594.1,227.9 595.4,227.9 596.7,227.9 598.0,227.8 599.3,227.7 600.6,227.4 601.9,227.9 603.2,227.8 604.5,227.2 605.8,227.5 607.1,227.9 608.4,227.9 609.7,227.9 611.0,227.9 612.3,227.4 613.6,227.9 614.9,227.5 616.2,227.6 617.5,227.2 618.8,227.3 620.1,227.9 621.4,227.3 622.7,227.5 624.0,227.7 625.3,227.4 626.6,227.8 627.9,227.1 629.2,227.9 630.5,227.7 631.8,227.8 633.1,227.2 634.4,227.6 635.7,227.9 637.0,227.7 638.3,227.9 639.6,227.9 640.9,226.7 642.2,227.9 643.5,227.4 644.8,227.6 646.1,227.8 647.4,226.1 648.7,227.9 650.0,227.9 651.3,227.9 652.6,227.9 653.9,227.9 655.2,227.2 656.5,227.6 657.8,227.9 659.1,227.7 660.4,227.9 661.7,227.9 663.0,227.9 664.3,227.2 665.6,227.9 666.9,227.3 668.2,227.9 669.5,227.9 670.8,227.9 672.1,227.2 673.4,227.9 674.7,227.8 676.0,227.9 677.3,227.9 678.6,227.9 679.9,227.4 681.2,227.7 682.5,227.8 683.8,227.2 685.1,227.5 686.4,227.6 687.7,227.5 689.0,227.4 690.3,227.1 691.6,227.2 692.9,227.5 694.2,227.7 695.5,227.2 696.8,227.9 698.1,227.6 699.4,227.6 700.7,227.4 702.0,227.7 703.3,227.9 704.6,227.8 705.9,227.8 707.2,227.4 708.5,227.9 709.8,227.5 711.1,227.9 712.4,227.8 713.7,227.7 715.0,227.5 716.3,227.9 717.6,227.8 718.9,227.9 720.2,227.1 721.5,227.9 722.8,227.6 724.1,227.1 725.4,227.9 726.7,227.4 728.0,227.9 729.3,227.1 730.6,227.9 731.9,227.9 733.2,227.5 734.5,227.6 735.8,227.3 737.1,227.0 738.4,227.5 739.7,227.8 741.0,227.4 742.3,227.3 743.6,227.3 744.9,227.2 746.2,227.5 747.5,227.8 748.8,227.4 750.1,227.9 751.4,227.8 752.7,227.9 754.0,227.7 755.3,227.9 756.6,227.4 757.9,227.7 759.2,227.7 760.5,227.1 761.8,227.6 763.1,227.7 764.4,227.6 765.7,227.9 767.0,227.5 768.3,227.9 769.6,227.9 770.9,227.8 772.2,227.5 773.5,227.9 774.8,227.6 776.1,227.7 777.4,227.7 778.7,227.7 780.0,227.5 781.3,227.4 782.6,227.5 783.9,227.6 785.2,227.9 786.5,227.8 787.8,227.4 789.1,227.1 790.4,227.9 791.7,227.9 793.0,227.7 794.3,227.7 795.6,227.6 796.9,227.7 798.2,227.1 799.5,227.9 800.8,227.7 802.1,227.6 803.4,227.9 804.7,227.7 806.0,226.7 807.3,227.1 808.6,227.9 809.9,227.9 811.2,227.2 812.5,227.3 813.8,227.9 815.1,226.8 816.4,227.7 817.7,227.9 819.0,227.4 820.3,227.9 821.6,227.3 822.9,227.9 824.2,227.4 825.5,227.5 826.8,227.9 828.1,227.9 829.4,227.2 830.7,227.7 832.0,227.6 833.3,227.8 834.6,227.3 835.9,227.1 837.2,227.5 838.5,227.7 839.8,226.9 841.1,227.5 842.4,227.9 843.7,227.3 845.0,227.1 846.3,227.6 847.6,227.8 848.9,227.9 850.2,227.5 851.5,227.9 852.8,227.8 854.1,227.9 855.4,227.9 856.7,226.7 858.0,227.4 859.3,227.9 860.6,227.4 861.9,227.2 863.2,227.2 864.5,227.4 865.8,227.7 867.1,227.9 868.4,227.9 869.7,227.5 871.0,227.9 872.3,227.2 873.6,227.9 874.9,227.6 876.2,227.3 877.5,227.8 878.8,227.4 880.1,227.6 881.4,227.9 882.7,227.8 884.0,227.2 885.3,227.8 886.6,227.9 887.9,227.6 889.2,227.9 890.5,227.5 891.8,227.3 893.1,227.1 894.4,227.7 895.7,227.9 897.0,227.9 898.3,227.9 899.6,227.6 900.9,227.8 902.2,227.9 903.5,227.9 904.8,227.3 906.1,227.9 907.4,227.8 908.7,227.7 910.0,227.0 911.3,227.8 912.6,227.6 913.9,227.9 915.2,227.5 916.5,227.9 917.8,227.9 919.1,227.2 920.4,227.9 921.7,227.3 923.0,227.9 924.3,227.8 925.6,227.9 926.9,227.9 928.2,227.9 929.5,227.6 930.8,227.8 932.1,227.0 933.4,227.4 934.7,227.8 936.0,227.9 937.3,227.8 938.6,227.9 939.9,227.9 941.2,226.8 942.5,227.7 943.8,227.9 945.1,227.8 946.4,227.8 947.7,227.9 949.0,227.6 950.3,227.5 951.6,227.5 952.9,227.3 954.2,227.4 955.5,227.9 956.8,227.5 958.1,226.4 959.4,227.3 960.7,227.9 962.0,227.8 963.3,227.8 964.6,227.5 965.9,227.4 967.2,227.7 968.5,227.9 969.8,227.8" fill="none" stroke="#000" stroke-width="1.05" stroke-linejoin="round"/>
<rect x="16.80" y="209.10" width="40.90" height="19.60" fill="#c8c8c8" />
<rect x="352.00" y="209.10" width="65.30" height="19.60" fill="#c8c8c8" />
<rect x="220.00" y="209.10" width="1.00" height="19.60" fill="#ff0000" />
<rect x="483.00" y="209.10" width="6.70" height="19.60" fill="#ff0000" />
<rect x="493.50" y="209.10" width="1.10" height="19.60" fill="#c80000" />
<rect x="952.70" y="209.10" width="6.60" height="19.60" fill="#ff0000" />
<rect x="963.00" y="209.10" width="2.00" height="19.60" fill="#ff0000" />
<rect x="963.30" y="224.90" width="0.80" height="3.00" fill="#2a2a2a" />
<rect x="16.20" y="209.10" width="0.90" height="20.00" fill="#6e6e6e" />
<rect x="16.20" y="228.10" width="41.50" height="1.00" fill="#858585" />
<rect x="352.00" y="228.10" width="65.30" height="1.00" fill="#858585" />
<rect x="16.20" y="229.10" width="953.80" height="0.80" fill="#fcfcfc" />
<rect x="27.75" y="228.90" width="0.90" height="2.20" fill="#666" />
<text x="28.20" y="234.82" font-size="6.59" fill="#2f6a45" text-anchor="middle" textLength="13.60" lengthAdjust="spacingAndGlyphs" stroke="#2f6a45" stroke-width="0.18" >22:02</text>
<rect x="59.55" y="228.90" width="0.90" height="2.20" fill="#666" />
<text x="60.00" y="234.82" font-size="6.59" fill="#2f6a45" text-anchor="middle" textLength="13.60" lengthAdjust="spacingAndGlyphs" stroke="#2f6a45" stroke-width="0.18" >22:04</text>
<rect x="91.35" y="228.90" width="0.90" height="2.20" fill="#666" />
<text x="91.80" y="234.82" font-size="6.59" fill="#2f6a45" text-anchor="middle" textLength="13.60" lengthAdjust="spacingAndGlyphs" stroke="#2f6a45" stroke-width="0.18" >22:06</text>
<rect x="123.15" y="228.90" width="0.90" height="2.20" fill="#666" />
<text x="123.60" y="234.82" font-size="6.59" fill="#2f6a45" text-anchor="middle" textLength="13.60" lengthAdjust="spacingAndGlyphs" stroke="#2f6a45" stroke-width="0.18" >22:08</text>
<rect x="154.95" y="228.90" width="0.90" height="2.20" fill="#666" />
<text x="155.40" y="234.82" font-size="6.59" fill="#2f6a45" text-anchor="middle" textLength="13.60" lengthAdjust="spacingAndGlyphs" stroke="#2f6a45" stroke-width="0.18" >22:10</text>
<rect x="186.75" y="228.90" width="0.90" height="2.20" fill="#666" />
<text x="187.20" y="234.82" font-size="6.59" fill="#2f6a45" text-anchor="middle" textLength="13.60" lengthAdjust="spacingAndGlyphs" stroke="#2f6a45" stroke-width="0.18" >22:12</text>
<rect x="218.55" y="228.90" width="0.90" height="2.20" fill="#666" />
<text x="219.00" y="234.82" font-size="6.59" fill="#2f6a45" text-anchor="middle" textLength="13.60" lengthAdjust="spacingAndGlyphs" stroke="#2f6a45" stroke-width="0.18" >22:14</text>
<rect x="250.35" y="228.90" width="0.90" height="2.20" fill="#666" />
<text x="250.80" y="234.82" font-size="6.59" fill="#2f6a45" text-anchor="middle" textLength="13.60" lengthAdjust="spacingAndGlyphs" stroke="#2f6a45" stroke-width="0.18" >22:16</text>
<rect x="282.15" y="228.90" width="0.90" height="2.20" fill="#666" />
<text x="282.60" y="234.82" font-size="6.59" fill="#2f6a45" text-anchor="middle" textLength="13.60" lengthAdjust="spacingAndGlyphs" stroke="#2f6a45" stroke-width="0.18" >22:18</text>
<rect x="313.95" y="228.90" width="0.90" height="2.20" fill="#666" />
<text x="314.40" y="234.82" font-size="6.59" fill="#2f6a45" text-anchor="middle" textLength="13.60" lengthAdjust="spacingAndGlyphs" stroke="#2f6a45" stroke-width="0.18" >22:20</text>
<rect x="345.75" y="228.90" width="0.90" height="2.20" fill="#666" />
<text x="346.20" y="234.82" font-size="6.59" fill="#2f6a45" text-anchor="middle" textLength="13.60" lengthAdjust="spacingAndGlyphs" stroke="#2f6a45" stroke-width="0.18" >22:22</text>
<rect x="377.55" y="228.90" width="0.90" height="2.20" fill="#666" />
<text x="378.00" y="234.82" font-size="6.59" fill="#2f6a45" text-anchor="middle" textLength="13.60" lengthAdjust="spacingAndGlyphs" stroke="#2f6a45" stroke-width="0.18" >22:24</text>
<rect x="409.35" y="228.90" width="0.90" height="2.20" fill="#666" />
<text x="409.80" y="234.82" font-size="6.59" fill="#2f6a45" text-anchor="middle" textLength="13.60" lengthAdjust="spacingAndGlyphs" stroke="#2f6a45" stroke-width="0.18" >22:26</text>
<rect x="441.15" y="228.90" width="0.90" height="2.20" fill="#666" />
<text x="441.60" y="234.82" font-size="6.59" fill="#2f6a45" text-anchor="middle" textLength="13.60" lengthAdjust="spacingAndGlyphs" stroke="#2f6a45" stroke-width="0.18" >22:28</text>
<rect x="472.95" y="228.90" width="0.90" height="2.20" fill="#666" />
<text x="473.40" y="234.82" font-size="6.59" fill="#2f6a45" text-anchor="middle" textLength="13.60" lengthAdjust="spacingAndGlyphs" stroke="#2f6a45" stroke-width="0.18" >22:30</text>
<rect x="504.75" y="228.90" width="0.90" height="2.20" fill="#666" />
<text x="505.20" y="234.82" font-size="6.59" fill="#2f6a45" text-anchor="middle" textLength="13.60" lengthAdjust="spacingAndGlyphs" stroke="#2f6a45" stroke-width="0.18" >22:32</text>
<rect x="536.55" y="228.90" width="0.90" height="2.20" fill="#666" />
<text x="537.00" y="234.82" font-size="6.59" fill="#2f6a45" text-anchor="middle" textLength="13.60" lengthAdjust="spacingAndGlyphs" stroke="#2f6a45" stroke-width="0.18" >22:34</text>
<rect x="568.35" y="228.90" width="0.90" height="2.20" fill="#666" />
<text x="568.80" y="234.82" font-size="6.59" fill="#2f6a45" text-anchor="middle" textLength="13.60" lengthAdjust="spacingAndGlyphs" stroke="#2f6a45" stroke-width="0.18" >22:36</text>
<rect x="600.15" y="228.90" width="0.90" height="2.20" fill="#666" />
<text x="600.60" y="234.82" font-size="6.59" fill="#2f6a45" text-anchor="middle" textLength="13.60" lengthAdjust="spacingAndGlyphs" stroke="#2f6a45" stroke-width="0.18" >22:38</text>
<rect x="631.95" y="228.90" width="0.90" height="2.20" fill="#666" />
<text x="632.40" y="234.82" font-size="6.59" fill="#2f6a45" text-anchor="middle" textLength="13.60" lengthAdjust="spacingAndGlyphs" stroke="#2f6a45" stroke-width="0.18" >22:40</text>
<rect x="663.75" y="228.90" width="0.90" height="2.20" fill="#666" />
<text x="664.20" y="234.82" font-size="6.59" fill="#2f6a45" text-anchor="middle" textLength="13.60" lengthAdjust="spacingAndGlyphs" stroke="#2f6a45" stroke-width="0.18" >22:42</text>
<rect x="695.55" y="228.90" width="0.90" height="2.20" fill="#666" />
<text x="696.00" y="234.82" font-size="6.59" fill="#2f6a45" text-anchor="middle" textLength="13.60" lengthAdjust="spacingAndGlyphs" stroke="#2f6a45" stroke-width="0.18" >22:44</text>
<rect x="727.35" y="228.90" width="0.90" height="2.20" fill="#666" />
<text x="727.80" y="234.82" font-size="6.59" fill="#2f6a45" text-anchor="middle" textLength="13.60" lengthAdjust="spacingAndGlyphs" stroke="#2f6a45" stroke-width="0.18" >22:46</text>
<rect x="759.15" y="228.90" width="0.90" height="2.20" fill="#666" />
<text x="759.60" y="234.82" font-size="6.59" fill="#2f6a45" text-anchor="middle" textLength="13.60" lengthAdjust="spacingAndGlyphs" stroke="#2f6a45" stroke-width="0.18" >22:48</text>
<rect x="790.95" y="228.90" width="0.90" height="2.20" fill="#666" />
<text x="791.40" y="234.82" font-size="6.59" fill="#2f6a45" text-anchor="middle" textLength="13.60" lengthAdjust="spacingAndGlyphs" stroke="#2f6a45" stroke-width="0.18" >22:50</text>
<rect x="822.75" y="228.90" width="0.90" height="2.20" fill="#666" />
<text x="823.20" y="234.82" font-size="6.59" fill="#2f6a45" text-anchor="middle" textLength="13.60" lengthAdjust="spacingAndGlyphs" stroke="#2f6a45" stroke-width="0.18" >22:52</text>
<rect x="854.55" y="228.90" width="0.90" height="2.20" fill="#666" />
<text x="855.00" y="234.82" font-size="6.59" fill="#2f6a45" text-anchor="middle" textLength="13.60" lengthAdjust="spacingAndGlyphs" stroke="#2f6a45" stroke-width="0.18" >22:54</text>
<rect x="886.35" y="228.90" width="0.90" height="2.20" fill="#666" />
<text x="886.80" y="234.82" font-size="6.59" fill="#2f6a45" text-anchor="middle" textLength="13.60" lengthAdjust="spacingAndGlyphs" stroke="#2f6a45" stroke-width="0.18" >22:56</text>
<rect x="918.15" y="228.90" width="0.90" height="2.20" fill="#666" />
<text x="918.60" y="234.82" font-size="6.59" fill="#2f6a45" text-anchor="middle" textLength="13.60" lengthAdjust="spacingAndGlyphs" stroke="#2f6a45" stroke-width="0.18" >22:58</text>
<rect x="949.95" y="228.90" width="0.90" height="2.20" fill="#666" />
<text x="950.40" y="234.82" font-size="6.59" fill="#2f6a45" text-anchor="middle" textLength="13.60" lengthAdjust="spacingAndGlyphs" stroke="#2f6a45" stroke-width="0.18" >23:00</text>
<text x="16.50" y="245.34" font-size="6.22" fill="#505050" text-anchor="start" textLength="92.86" lengthAdjust="spacingAndGlyphs" stroke="#505050" stroke-width="0.18" >www.pathofexile.com (104.19.185.16)</text>
<text x="493.00" y="245.36" font-size="6.27" fill="#303030" text-anchor="middle" textLength="40.00" lengthAdjust="spacingAndGlyphs" stroke="#303030" stroke-width="0.18" >Default Settings</text>
<text x="962.00" y="245.34" font-size="6.22" fill="#505050" text-anchor="end" textLength="65.30" lengthAdjust="spacingAndGlyphs" stroke="#505050" stroke-width="0.18" >60 minutes (22:01 - 23:01)</text>
<circle cx="966.8" cy="242.80" r="2.6" fill="#e0e0e0"/>
<path d="M965.5 242.10 L966.8 243.40 L968.1 242.10" fill="none" stroke="#888" stroke-width="0.5"/>
<text x="14.50" y="250.36" font-size="6.27" fill="#505050" text-anchor="end" textLength="9.34" lengthAdjust="spacingAndGlyphs" stroke="#505050" stroke-width="0.18" >270</text>
<text x="0" y="0" font-size="6.4" fill="#606060" transform="translate(14.7,265.50) rotate(-90)" textLength="12.2" lengthAdjust="spacingAndGlyphs">oms</text>
<text x="970.70" y="251.18" font-size="6.05" fill="#d04a62" text-anchor="start" textLength="6.10" lengthAdjust="spacingAndGlyphs" stroke="#d04a62" stroke-width="0.18" >30</text>
<text x="0" y="0" font-size="6.2" fill="#d04a62" transform="translate(971.1,254.60) rotate(90)" textLength="12" lengthAdjust="spacingAndGlyphs">PL %</text>
<rect x="16.80" y="246.60" width="953.20" height="19.60" fill="#ddf0d5" />
<rect x="16.80" y="246.60" width="953.20" height="12.34" fill="#fde8c8" />
<rect x="16.80" y="246.60" width="953.20" height="5.08" fill="#ffd3d3" />
<polyline points="58.0,264.4 59.3,263.8 60.6,263.9 61.9,263.7 63.2,264.4 64.5,264.1 65.8,264.3 67.1,264.0 68.4,264.0 69.7,264.4 71.0,264.2 72.3,264.3 73.6,264.2 74.9,263.8 76.2,264.4 77.5,265.2 78.8,261.8 80.1,264.1 81.4,264.6 82.7,264.8 84.0,264.2 85.3,263.7 86.6,263.5 87.9,263.4 89.2,263.4 90.5,262.4 91.8,264.0 93.1,264.1 94.4,263.5 95.7,264.4 97.0,264.4 98.3,264.4 99.6,263.5 100.9,264.2 102.2,264.1 103.5,263.7 104.8,263.0 106.1,264.2 107.4,264.1 108.7,263.6 110.0,264.2 111.3,264.4 112.6,265.0 113.9,264.1 115.2,264.5 116.5,263.0 117.8,264.5 119.1,264.5 120.4,264.2 121.7,263.5 123.0,263.4 124.3,263.5 125.6,264.2 126.9,264.2 128.2,263.9 129.5,262.5 130.8,263.7 132.1,263.8 133.4,264.0 134.7,264.3 136.0,263.8 137.3,264.1 138.6,264.3 139.9,264.0 141.2,263.5 142.5,264.0 143.8,264.7 145.1,264.2 146.4,263.5 147.7,262.3 149.0,264.1 150.3,261.9 151.6,263.7 152.9,263.7 154.2,263.7 155.5,264.4 156.8,264.3 158.1,264.5 159.4,264.2 160.7,263.8 162.0,264.1 163.3,264.2 164.6,263.6 165.9,264.2 167.2,263.8 168.5,264.3 169.8,264.7 171.1,264.6 172.4,264.2 173.7,265.0 175.0,263.7 176.3,264.2 177.6,264.8 178.9,264.3 180.2,264.6 181.5,264.3 182.8,263.7 184.1,264.1 185.4,264.0 186.7,264.6 188.0,264.1 189.3,264.2 190.6,264.2 191.9,264.4 193.2,263.2 194.5,262.5 195.8,263.8 197.1,263.7 198.4,263.6 199.7,264.1 201.0,262.9 202.3,264.1 203.6,264.1 204.9,263.9 206.2,264.1 207.5,264.5 208.8,263.6 210.1,264.1 211.4,264.0 212.7,264.1 214.0,263.4 215.3,263.8 216.6,263.7 217.9,263.7 219.2,263.6 220.5,262.2 221.8,264.4 223.1,262.5 224.4,263.7 225.7,263.6 227.0,264.1 228.3,264.3 229.6,264.2 230.9,264.3 232.2,264.8 233.5,264.9 234.8,264.1 236.1,264.2 237.4,263.8 238.7,263.3 240.0,264.4 241.3,264.0 242.6,263.7 243.9,264.5 245.2,261.9 246.5,263.9 247.8,263.7 249.1,264.3 250.4,264.0 251.7,263.8 253.0,263.9 254.3,264.1 255.6,263.7 256.9,263.8 258.2,264.4 259.5,263.7 260.8,263.7 262.1,264.1 263.4,264.1 264.7,263.8 266.0,263.1 267.3,264.2 268.6,264.0 269.9,264.2 271.2,264.0 272.5,262.5 273.8,263.3 275.1,264.6 276.4,264.3 277.7,263.7 279.0,264.2 280.3,264.1 281.6,264.0 282.9,263.4 284.2,263.3 285.5,263.9 286.8,264.0 288.1,263.7 289.4,264.4 290.7,263.9 292.0,264.2 293.3,264.6 294.6,264.2 295.9,264.1 297.2,264.1 298.5,264.2 299.8,264.4 301.1,264.4 302.4,264.3 303.7,264.2 305.0,263.5 306.3,263.8 307.6,263.9 308.9,264.3 310.2,264.1 311.5,263.9 312.8,264.1 314.1,264.3 315.4,264.8 316.7,263.5 318.0,263.8 319.3,264.7 320.6,263.8 321.9,263.2 323.2,263.9 324.5,264.2 325.8,263.5 327.1,264.3 328.4,263.3 329.7,263.8 331.0,264.6 332.3,264.3 333.6,263.6 334.9,263.9 336.2,264.5 337.5,263.9 338.8,263.8 340.1,264.4 341.4,263.5 342.7,264.3 344.0,264.0 345.3,264.5 346.6,262.9 347.9,264.1 349.2,263.9 350.5,263.9 351.8,264.2" fill="none" stroke="#000" stroke-width="1.05" stroke-linejoin="round"/>
<polyline points="417.3,264.4 418.6,263.8 419.9,263.3 421.2,263.9 422.5,263.2 423.8,263.8 425.1,263.6 426.4,264.5 427.7,264.0 429.0,263.7 430.3,264.3 431.6,264.0 432.9,264.4 434.2,263.3 435.5,264.7 436.8,263.7 438.1,264.0 439.4,264.1 440.7,263.6 442.0,264.0 443.3,263.5 444.6,264.6 445.9,264.3 447.2,263.4 448.5,263.2 449.8,264.0 451.1,264.2 452.4,264.3 453.7,263.8 455.0,263.5 456.3,262.6 457.6,263.9 458.9,264.3 460.2,264.1 461.5,262.7 462.8,263.7 464.1,264.1 465.4,264.0 466.7,264.2 468.0,263.8 469.3,263.8 470.6,263.4 471.9,263.0 473.2,264.5 474.5,264.0 475.8,263.7 477.1,263.8 478.4,264.0 479.7,263.9 481.0,264.6 482.3,264.1 483.6,262.0 484.9,265.0 486.2,263.9 487.5,264.3 488.8,262.5 490.1,263.3 491.4,264.9 492.7,264.0 494.0,264.4 495.3,264.5 496.6,265.3 497.9,264.1 499.2,263.7 500.5,263.7 501.8,264.5 503.1,263.7 504.4,264.1 505.7,263.6 507.0,263.8 508.3,263.1 509.6,264.0 510.9,264.3 512.2,264.3 513.5,264.9 514.8,262.0 516.1,262.1 517.4,264.4 518.7,263.5 520.0,263.8 521.3,264.1 522.6,263.9 523.9,264.1 525.2,264.5 526.5,264.8 527.8,263.8 529.1,262.8 530.4,264.5 531.7,263.7 533.0,264.2 534.3,263.5 535.6,264.4 536.9,263.8 538.2,264.2 539.5,263.7 540.8,264.5 542.1,264.2 543.4,263.3 544.7,263.9 546.0,263.8 547.3,264.0 548.6,263.5 549.9,263.9 551.2,263.7 552.5,264.5 553.8,263.8 555.1,264.1 556.4,264.8 557.7,263.7 559.0,264.2 560.3,264.2 561.6,263.7 562.9,263.6 564.2,263.2 565.5,263.9 566.8,263.8 568.1,264.2 569.4,263.5 570.7,264.0 572.0,263.7 573.3,263.3 574.6,263.8 575.9,264.3 577.2,264.1 578.5,264.0 579.8,263.8 581.1,264.7 582.4,263.8 583.7,264.7 585.0,264.1 586.3,264.7 587.6,264.6 588.9,264.4 590.2,263.8 591.5,263.7 592.8,264.2 594.1,264.5 595.4,261.9 596.7,264.3 598.0,264.4 599.3,264.4 600.6,263.4 601.9,264.1 603.2,264.2 604.5,264.1 605.8,263.8 607.1,261.9 608.4,262.0 609.7,264.5 611.0,263.2 612.3,262.3 613.6,264.3 614.9,264.7 616.2,263.2 617.5,263.3 618.8,262.9 620.1,264.5 621.4,264.0 622.7,264.6 624.0,263.9 625.3,264.5 626.6,264.7 627.9,263.5 629.2,264.7 630.5,263.9 631.8,264.0 633.1,264.0 634.4,263.6 635.7,264.4 637.0,264.3 638.3,264.3 639.6,264.0 640.9,263.7 642.2,264.8 643.5,264.1 644.8,263.8 646.1,264.5 647.4,264.1 648.7,264.8 650.0,262.9 651.3,263.9 652.6,264.4 653.9,264.5 655.2,263.9 656.5,264.2 657.8,263.6 659.1,264.7 660.4,263.9 661.7,263.5 663.0,264.0 664.3,263.3 665.6,263.9 666.9,263.8 668.2,264.0 669.5,264.3 670.8,264.4 672.1,264.0 673.4,264.2 674.7,264.1 676.0,264.1 677.3,264.0 678.6,263.9 679.9,263.7 681.2,263.6 682.5,264.1 683.8,264.3 685.1,264.2 686.4,264.2 687.7,264.3 689.0,264.7 690.3,264.0 691.6,264.5 692.9,263.8 694.2,263.0 695.5,264.2 696.8,264.0 698.1,264.0 699.4,264.0 700.7,263.9 702.0,263.6 703.3,263.6 704.6,263.6 705.9,264.2 707.2,263.5 708.5,264.2 709.8,264.3 711.1,263.6 712.4,264.4 713.7,263.5 715.0,263.8 716.3,264.0 717.6,264.5 718.9,263.8 720.2,263.3 721.5,263.3 722.8,264.7 724.1,263.7 725.4,264.4 726.7,263.5 728.0,263.7 729.3,264.2 730.6,263.5 731.9,264.7 733.2,263.5 734.5,264.2 735.8,263.6 737.1,262.0 738.4,263.9 739.7,264.5 741.0,264.3 742.3,263.4 743.6,264.0 744.9,264.5 746.2,262.2 747.5,264.2 748.8,264.3 750.1,263.9 751.4,264.6 752.7,263.9 754.0,263.4 755.3,263.7 756.6,264.3 757.9,264.2 759.2,264.9 760.5,263.9 761.8,264.8 763.1,263.8 764.4,264.3 765.7,264.2 767.0,263.9 768.3,264.1 769.6,263.4 770.9,263.9 772.2,263.4 773.5,262.9 774.8,263.5 776.1,263.7 777.4,265.0 778.7,263.4 780.0,263.6 781.3,264.2 782.6,263.3 783.9,264.2 785.2,264.3 786.5,264.2 787.8,265.1 789.1,264.2 790.4,264.3 791.7,264.1 793.0,265.0 794.3,264.6 795.6,263.4 796.9,264.3 798.2,264.4 799.5,263.7 800.8,263.6 802.1,263.9 803.4,263.8 804.7,265.0 806.0,264.2 807.3,263.5 808.6,263.8 809.9,263.6 811.2,263.6 812.5,263.5 813.8,264.7 815.1,264.5 816.4,264.3 817.7,262.9 819.0,264.4 820.3,264.1 821.6,264.8 822.9,263.8 824.2,263.6 825.5,263.4 826.8,263.7 828.1,263.6 829.4,264.2 830.7,263.7 832.0,264.2 833.3,263.5 834.6,263.9 835.9,264.1 837.2,262.9 838.5,262.3 839.8,264.1 841.1,264.4 842.4,264.6 843.7,263.3 845.0,262.4 846.3,264.2 847.6,263.6 848.9,264.3 850.2,262.7 851.5,263.8 852.8,264.0 854.1,264.5 855.4,264.3 856.7,264.3 858.0,263.6 859.3,264.4 860.6,264.5 861.9,263.6 863.2,263.4 864.5,262.0 865.8,263.6 867.1,264.3 868.4,263.0 869.7,264.9 871.0,264.2 872.3,264.3 873.6,263.5 874.9,264.5 876.2,264.1 877.5,262.2 878.8,263.3 880.1,264.6 881.4,263.2 882.7,263.9 884.0,264.1 885.3,261.6 886.6,264.1 887.9,263.8 889.2,263.9 890.5,263.7 891.8,264.0 893.1,264.4 894.4,262.0 895.7,263.9 897.0,263.7 898.3,263.8 899.6,264.3 900.9,264.0 902.2,264.3 903.5,263.4 904.8,264.0 906.1,263.0 907.4,263.8 908.7,263.5 910.0,262.4 911.3,264.1 912.6,264.5 913.9,264.1 915.2,261.2 916.5,264.2 917.8,263.9 919.1,264.0 920.4,262.7 921.7,263.7 923.0,264.2 924.3,264.3 925.6,263.7 926.9,264.0 928.2,263.8 929.5,264.7 930.8,263.9 932.1,263.9 933.4,263.7 934.7,264.3 936.0,263.7 937.3,263.1 938.6,263.9 939.9,263.6 941.2,264.6 942.5,263.8 943.8,264.4 945.1,264.9 946.4,263.4 947.7,263.6 949.0,263.5 950.3,263.1 951.6,263.4 952.9,263.5 954.2,263.7 955.5,264.5 956.8,264.2 958.1,264.3 959.4,263.5 960.7,264.0 962.0,264.0 963.3,263.1 964.6,264.5 965.9,263.4 967.2,264.1 968.5,264.2 969.8,263.8" fill="none" stroke="#000" stroke-width="1.05" stroke-linejoin="round"/>
<rect x="16.80" y="246.60" width="41.20" height="19.60" fill="#c8c8c8" />
<rect x="352.00" y="246.60" width="65.30" height="19.60" fill="#c8c8c8" />
<rect x="186.60" y="246.60" width="1.00" height="19.60" fill="#ff0000" />
<rect x="265.00" y="246.60" width="1.00" height="19.60" fill="#ff0000" />
<rect x="293.40" y="246.60" width="1.00" height="19.60" fill="#ff0000" />
<rect x="326.70" y="246.60" width="1.00" height="19.60" fill="#ff0000" />
<rect x="334.50" y="246.60" width="0.80" height="19.60" fill="#ff0000" />
<rect x="423.70" y="246.60" width="1.00" height="19.60" fill="#ff0000" />
<rect x="483.00" y="246.60" width="6.50" height="19.60" fill="#ff0000" />
<rect x="490.70" y="246.60" width="3.80" height="19.60" fill="#ff0000" />
<rect x="592.30" y="246.60" width="1.00" height="19.60" fill="#ff0000" />
<rect x="953.30" y="246.60" width="5.40" height="19.60" fill="#ff0000" />
<rect x="963.30" y="246.60" width="1.00" height="19.60" fill="#ff0000" />
<rect x="488.80" y="258.40" width="0.80" height="7.00" fill="#2a2a2a" />
<rect x="16.20" y="246.60" width="0.90" height="20.00" fill="#6e6e6e" />
<rect x="16.20" y="265.60" width="41.80" height="1.00" fill="#858585" />
<rect x="352.00" y="265.60" width="65.30" height="1.00" fill="#858585" />
<rect x="16.20" y="266.60" width="953.80" height="0.80" fill="#fcfcfc" />
<rect x="27.75" y="266.40" width="0.90" height="2.20" fill="#666" />
<text x="28.20" y="272.32" font-size="6.59" fill="#2f6a45" text-anchor="middle" textLength="13.60" lengthAdjust="spacingAndGlyphs" stroke="#2f6a45" stroke-width="0.18" >22:02</text>
<rect x="59.55" y="266.40" width="0.90" height="2.20" fill="#666" />
<text x="60.00" y="272.32" font-size="6.59" fill="#2f6a45" text-anchor="middle" textLength="13.60" lengthAdjust="spacingAndGlyphs" stroke="#2f6a45" stroke-width="0.18" >22:04</text>
<rect x="91.35" y="266.40" width="0.90" height="2.20" fill="#666" />
<text x="91.80" y="272.32" font-size="6.59" fill="#2f6a45" text-anchor="middle" textLength="13.60" lengthAdjust="spacingAndGlyphs" stroke="#2f6a45" stroke-width="0.18" >22:06</text>
<rect x="123.15" y="266.40" width="0.90" height="2.20" fill="#666" />
<text x="123.60" y="272.32" font-size="6.59" fill="#2f6a45" text-anchor="middle" textLength="13.60" lengthAdjust="spacingAndGlyphs" stroke="#2f6a45" stroke-width="0.18" >22:08</text>
<rect x="154.95" y="266.40" width="0.90" height="2.20" fill="#666" />
<text x="155.40" y="272.32" font-size="6.59" fill="#2f6a45" text-anchor="middle" textLength="13.60" lengthAdjust="spacingAndGlyphs" stroke="#2f6a45" stroke-width="0.18" >22:10</text>
<rect x="186.75" y="266.40" width="0.90" height="2.20" fill="#666" />
<text x="187.20" y="272.32" font-size="6.59" fill="#2f6a45" text-anchor="middle" textLength="13.60" lengthAdjust="spacingAndGlyphs" stroke="#2f6a45" stroke-width="0.18" >22:12</text>
<rect x="218.55" y="266.40" width="0.90" height="2.20" fill="#666" />
<text x="219.00" y="272.32" font-size="6.59" fill="#2f6a45" text-anchor="middle" textLength="13.60" lengthAdjust="spacingAndGlyphs" stroke="#2f6a45" stroke-width="0.18" >22:14</text>
<rect x="250.35" y="266.40" width="0.90" height="2.20" fill="#666" />
<text x="250.80" y="272.32" font-size="6.59" fill="#2f6a45" text-anchor="middle" textLength="13.60" lengthAdjust="spacingAndGlyphs" stroke="#2f6a45" stroke-width="0.18" >22:16</text>
<rect x="282.15" y="266.40" width="0.90" height="2.20" fill="#666" />
<text x="282.60" y="272.32" font-size="6.59" fill="#2f6a45" text-anchor="middle" textLength="13.60" lengthAdjust="spacingAndGlyphs" stroke="#2f6a45" stroke-width="0.18" >22:18</text>
<rect x="313.95" y="266.40" width="0.90" height="2.20" fill="#666" />
<text x="314.40" y="272.32" font-size="6.59" fill="#2f6a45" text-anchor="middle" textLength="13.60" lengthAdjust="spacingAndGlyphs" stroke="#2f6a45" stroke-width="0.18" >22:20</text>
<rect x="345.75" y="266.40" width="0.90" height="2.20" fill="#666" />
<text x="346.20" y="272.32" font-size="6.59" fill="#2f6a45" text-anchor="middle" textLength="13.60" lengthAdjust="spacingAndGlyphs" stroke="#2f6a45" stroke-width="0.18" >22:22</text>
<rect x="377.55" y="266.40" width="0.90" height="2.20" fill="#666" />
<text x="378.00" y="272.32" font-size="6.59" fill="#2f6a45" text-anchor="middle" textLength="13.60" lengthAdjust="spacingAndGlyphs" stroke="#2f6a45" stroke-width="0.18" >22:24</text>
<rect x="409.35" y="266.40" width="0.90" height="2.20" fill="#666" />
<text x="409.80" y="272.32" font-size="6.59" fill="#2f6a45" text-anchor="middle" textLength="13.60" lengthAdjust="spacingAndGlyphs" stroke="#2f6a45" stroke-width="0.18" >22:26</text>
<rect x="441.15" y="266.40" width="0.90" height="2.20" fill="#666" />
<text x="441.60" y="272.32" font-size="6.59" fill="#2f6a45" text-anchor="middle" textLength="13.60" lengthAdjust="spacingAndGlyphs" stroke="#2f6a45" stroke-width="0.18" >22:28</text>
<rect x="472.95" y="266.40" width="0.90" height="2.20" fill="#666" />
<text x="473.40" y="272.32" font-size="6.59" fill="#2f6a45" text-anchor="middle" textLength="13.60" lengthAdjust="spacingAndGlyphs" stroke="#2f6a45" stroke-width="0.18" >22:30</text>
<rect x="504.75" y="266.40" width="0.90" height="2.20" fill="#666" />
<text x="505.20" y="272.32" font-size="6.59" fill="#2f6a45" text-anchor="middle" textLength="13.60" lengthAdjust="spacingAndGlyphs" stroke="#2f6a45" stroke-width="0.18" >22:32</text>
<rect x="536.55" y="266.40" width="0.90" height="2.20" fill="#666" />
<text x="537.00" y="272.32" font-size="6.59" fill="#2f6a45" text-anchor="middle" textLength="13.60" lengthAdjust="spacingAndGlyphs" stroke="#2f6a45" stroke-width="0.18" >22:34</text>
<rect x="568.35" y="266.40" width="0.90" height="2.20" fill="#666" />
<text x="568.80" y="272.32" font-size="6.59" fill="#2f6a45" text-anchor="middle" textLength="13.60" lengthAdjust="spacingAndGlyphs" stroke="#2f6a45" stroke-width="0.18" >22:36</text>
<rect x="600.15" y="266.40" width="0.90" height="2.20" fill="#666" />
<text x="600.60" y="272.32" font-size="6.59" fill="#2f6a45" text-anchor="middle" textLength="13.60" lengthAdjust="spacingAndGlyphs" stroke="#2f6a45" stroke-width="0.18" >22:38</text>
<rect x="631.95" y="266.40" width="0.90" height="2.20" fill="#666" />
<text x="632.40" y="272.32" font-size="6.59" fill="#2f6a45" text-anchor="middle" textLength="13.60" lengthAdjust="spacingAndGlyphs" stroke="#2f6a45" stroke-width="0.18" >22:40</text>
<rect x="663.75" y="266.40" width="0.90" height="2.20" fill="#666" />
<text x="664.20" y="272.32" font-size="6.59" fill="#2f6a45" text-anchor="middle" textLength="13.60" lengthAdjust="spacingAndGlyphs" stroke="#2f6a45" stroke-width="0.18" >22:42</text>
<rect x="695.55" y="266.40" width="0.90" height="2.20" fill="#666" />
<text x="696.00" y="272.32" font-size="6.59" fill="#2f6a45" text-anchor="middle" textLength="13.60" lengthAdjust="spacingAndGlyphs" stroke="#2f6a45" stroke-width="0.18" >22:44</text>
<rect x="727.35" y="266.40" width="0.90" height="2.20" fill="#666" />
<text x="727.80" y="272.32" font-size="6.59" fill="#2f6a45" text-anchor="middle" textLength="13.60" lengthAdjust="spacingAndGlyphs" stroke="#2f6a45" stroke-width="0.18" >22:46</text>
<rect x="759.15" y="266.40" width="0.90" height="2.20" fill="#666" />
<text x="759.60" y="272.32" font-size="6.59" fill="#2f6a45" text-anchor="middle" textLength="13.60" lengthAdjust="spacingAndGlyphs" stroke="#2f6a45" stroke-width="0.18" >22:48</text>
<rect x="790.95" y="266.40" width="0.90" height="2.20" fill="#666" />
<text x="791.40" y="272.32" font-size="6.59" fill="#2f6a45" text-anchor="middle" textLength="13.60" lengthAdjust="spacingAndGlyphs" stroke="#2f6a45" stroke-width="0.18" >22:50</text>
<rect x="822.75" y="266.40" width="0.90" height="2.20" fill="#666" />
<text x="823.20" y="272.32" font-size="6.59" fill="#2f6a45" text-anchor="middle" textLength="13.60" lengthAdjust="spacingAndGlyphs" stroke="#2f6a45" stroke-width="0.18" >22:52</text>
<rect x="854.55" y="266.40" width="0.90" height="2.20" fill="#666" />
<text x="855.00" y="272.32" font-size="6.59" fill="#2f6a45" text-anchor="middle" textLength="13.60" lengthAdjust="spacingAndGlyphs" stroke="#2f6a45" stroke-width="0.18" >22:54</text>
<rect x="886.35" y="266.40" width="0.90" height="2.20" fill="#666" />
<text x="886.80" y="272.32" font-size="6.59" fill="#2f6a45" text-anchor="middle" textLength="13.60" lengthAdjust="spacingAndGlyphs" stroke="#2f6a45" stroke-width="0.18" >22:56</text>
<rect x="918.15" y="266.40" width="0.90" height="2.20" fill="#666" />
<text x="918.60" y="272.32" font-size="6.59" fill="#2f6a45" text-anchor="middle" textLength="13.60" lengthAdjust="spacingAndGlyphs" stroke="#2f6a45" stroke-width="0.18" >22:58</text>
<rect x="949.95" y="266.40" width="0.90" height="2.20" fill="#666" />
<text x="950.40" y="272.32" font-size="6.59" fill="#2f6a45" text-anchor="middle" textLength="13.60" lengthAdjust="spacingAndGlyphs" stroke="#2f6a45" stroke-width="0.18" >23:00</text>
<text x="16.50" y="282.84" font-size="6.22" fill="#505050" text-anchor="start" textLength="148.92" lengthAdjust="spacingAndGlyphs" stroke="#505050" stroke-width="0.18" >www.facebook.com (2a03:2880:f11c:8183:face:b00c:0:25de)</text>
<text x="493.00" y="282.86" font-size="6.27" fill="#303030" text-anchor="middle" textLength="40.00" lengthAdjust="spacingAndGlyphs" stroke="#303030" stroke-width="0.18" >Default Settings</text>
<text x="962.00" y="282.84" font-size="6.22" fill="#505050" text-anchor="end" textLength="65.30" lengthAdjust="spacingAndGlyphs" stroke="#505050" stroke-width="0.18" >60 minutes (22:01 - 23:01)</text>
<circle cx="966.8" cy="280.30" r="2.6" fill="#e0e0e0"/>
<path d="M965.5 279.60 L966.8 280.90 L968.1 279.60" fill="none" stroke="#888" stroke-width="0.5"/>
<text x="14.50" y="287.86" font-size="6.27" fill="#505050" text-anchor="end" textLength="9.34" lengthAdjust="spacingAndGlyphs" stroke="#505050" stroke-width="0.18" >500</text>
<text x="0" y="0" font-size="6.4" fill="#606060" transform="translate(14.7,303.00) rotate(-90)" textLength="12.2" lengthAdjust="spacingAndGlyphs">oms</text>
<text x="970.70" y="288.68" font-size="6.05" fill="#d04a62" text-anchor="start" textLength="6.10" lengthAdjust="spacingAndGlyphs" stroke="#d04a62" stroke-width="0.18" >30</text>
<text x="0" y="0" font-size="6.2" fill="#d04a62" transform="translate(971.1,292.10) rotate(90)" textLength="12" lengthAdjust="spacingAndGlyphs">PL %</text>
<rect x="16.80" y="284.10" width="953.20" height="19.60" fill="#ddf0d5" />
<rect x="16.80" y="284.10" width="953.20" height="15.68" fill="#fde8c8" />
<rect x="16.80" y="284.10" width="953.20" height="11.76" fill="#ffd3d3" />
<polyline points="58.0,302.4 59.3,301.9 60.6,302.6 61.9,302.2 63.2,302.3 64.5,302.9 65.8,302.9 67.1,302.3 68.4,302.4 69.7,301.9 71.0,302.6 72.3,302.4 73.6,302.4 74.9,302.6 76.2,302.9 77.5,301.5 78.8,302.9 80.1,302.3 81.4,302.9 82.7,302.6 84.0,302.9 85.3,302.7 86.6,302.8 87.9,301.9 89.2,301.5 90.5,302.7 91.8,302.6 93.1,302.7 94.4,302.6 95.7,302.9 97.0,302.6 98.3,302.5 99.6,302.4 100.9,302.6 102.2,302.3 103.5,302.9 104.8,302.4 106.1,302.8 107.4,302.7 108.7,301.7 110.0,302.5 111.3,302.1 112.6,302.7 113.9,302.9 115.2,301.8 116.5,302.3 117.8,302.3 119.1,302.6 120.4,302.7 121.7,302.4 123.0,302.5 124.3,302.9 125.6,302.3 126.9,302.4 128.2,302.9 129.5,302.9 130.8,302.8 132.1,302.5 133.4,302.5 134.7,302.9 136.0,302.4 137.3,302.9 138.6,302.8 139.9,302.4 141.2,302.9 142.5,302.9 143.8,301.7 145.1,301.1 146.4,302.5 147.7,302.9 149.0,302.9 150.3,302.0 151.6,302.6 152.9,302.4 154.2,302.4 155.5,302.1 156.8,302.3 158.1,302.9 159.4,302.6 160.7,302.8 162.0,302.4 163.3,302.1 164.6,302.2 165.9,302.9 167.2,302.9 168.5,302.9 169.8,302.1 171.1,302.7 172.4,302.5 173.7,302.6 175.0,302.2 176.3,302.2 177.6,302.6 178.9,302.7 180.2,301.8 181.5,302.2 182.8,302.9 184.1,302.9 185.4,301.8 186.7,302.6 188.0,302.3 189.3,302.5 190.6,302.4 191.9,301.2 193.2,301.9 194.5,302.9 195.8,302.8 197.1,302.5 198.4,302.7 199.7,302.9 201.0,302.9 202.3,301.7 203.6,302.2 204.9,302.9 206.2,302.7 207.5,302.0 208.8,302.7 210.1,302.5 211.4,302.5 212.7,302.8 214.0,301.6 215.3,302.8 216.6,302.1 217.9,302.8 219.2,302.7 220.5,301.8 221.8,302.2 223.1,302.2 224.4,302.6 225.7,302.9 227.0,302.7 228.3,302.6 229.6,302.1 230.9,302.6 232.2,302.6 233.5,302.8 234.8,302.0 236.1,302.9 237.4,302.5 238.7,301.1 240.0,302.4 241.3,301.3 242.6,302.1 243.9,302.7 245.2,302.5 246.5,302.6 247.8,302.8 249.1,302.7 250.4,302.8 251.7,302.9 253.0,302.9 254.3,302.2 255.6,302.4 256.9,302.0 258.2,302.9 259.5,302.2 260.8,302.9 262.1,302.9 263.4,302.9 264.7,302.8 266.0,301.0 267.3,302.3 268.6,302.9 269.9,302.9 271.2,302.9 272.5,302.9 273.8,302.1 275.1,302.9 276.4,302.3 277.7,302.2 279.0,302.9 280.3,302.6 281.6,302.9 282.9,302.3 284.2,302.0 285.5,302.5 286.8,302.7 288.1,301.8 289.4,302.8 290.7,302.6 292.0,301.6 293.3,302.9 294.6,301.6 295.9,302.1 297.2,302.0 298.5,302.1 299.8,302.4 301.1,302.7 302.4,302.4 303.7,302.9 305.0,302.0 306.3,302.9 307.6,302.6 308.9,302.2 310.2,301.9 311.5,301.5 312.8,302.9 314.1,302.8 315.4,302.3 316.7,302.7 318.0,301.6 319.3,302.3 320.6,302.5 321.9,302.9 323.2,302.4 324.5,301.8 325.8,302.2 327.1,302.2 328.4,302.4 329.7,302.8 331.0,302.5 332.3,302.0 333.6,302.9 334.9,302.3 336.2,302.4 337.5,302.0 338.8,300.4 340.1,301.5 341.4,302.4 342.7,301.9 344.0,302.3 345.3,302.8 346.6,302.7 347.9,302.6 349.2,302.6 350.5,302.9 351.8,302.3" fill="none" stroke="#000" stroke-width="1.05" stroke-linejoin="round"/>
<polyline points="417.3,302.5 418.6,302.6 419.9,302.8 421.2,302.9 422.5,302.9 423.8,302.3 425.1,302.9 426.4,302.8 427.7,302.5 429.0,302.4 430.3,301.9 431.6,302.3 432.9,302.5 434.2,302.8 435.5,302.5 436.8,302.6 438.1,302.9 439.4,302.3 440.7,302.9 442.0,302.9 443.3,302.9 444.6,302.9 445.9,302.4 447.2,302.6 448.5,302.6 449.8,302.0 451.1,302.2 452.4,302.7 453.7,302.9 455.0,302.7 456.3,302.0 457.6,302.5 458.9,302.4 460.2,302.6 461.5,302.3 462.8,302.9 464.1,302.8 465.4,302.0 466.7,302.7 468.0,302.3 469.3,302.5 470.6,302.0 471.9,302.1 473.2,302.9 474.5,302.2 475.8,302.8 477.1,302.3 478.4,302.5 479.7,302.9 481.0,302.2 482.3,302.0 483.6,302.9 484.9,302.0 486.2,301.4 487.5,302.9 488.8,302.4 490.1,302.6 491.4,302.7 492.7,302.9 494.0,302.1 495.3,302.4 496.6,302.6 497.9,302.2 499.2,302.9 500.5,302.6 501.8,302.9 503.1,302.9 504.4,302.4 505.7,301.9 507.0,302.2 508.3,302.6 509.6,301.5 510.9,302.6 512.2,302.3 513.5,302.4 514.8,302.7 516.1,302.5 517.4,302.0 518.7,302.4 520.0,302.3 521.3,302.6 522.6,302.2 523.9,302.9 525.2,302.1 526.5,302.0 527.8,302.1 529.1,302.0 530.4,302.3 531.7,301.6 533.0,302.9 534.3,302.7 535.6,302.7 536.9,302.9 538.2,302.5 539.5,302.9 540.8,302.8 542.1,302.9 543.4,302.5 544.7,302.9 546.0,302.2 547.3,302.2 548.6,302.0 549.9,302.4 551.2,302.9 552.5,302.5 553.8,302.8 555.1,301.9 556.4,301.8 557.7,302.9 559.0,302.5 560.3,302.1 561.6,302.5 562.9,302.4 564.2,302.9 565.5,302.9 566.8,302.4 568.1,302.4 569.4,302.7 570.7,301.9 572.0,302.3 573.3,302.9 574.6,302.9 575.9,302.6 577.2,302.4 578.5,302.7 579.8,302.5 581.1,302.7 582.4,302.9 583.7,302.6 585.0,302.9 586.3,302.0 587.6,302.8 588.9,302.6 590.2,302.7 591.5,302.8 592.8,302.3 594.1,302.9 595.4,302.2 596.7,302.5 598.0,302.4 599.3,302.5 600.6,302.7 601.9,302.6 603.2,302.9 604.5,302.5 605.8,302.7 607.1,301.6 608.4,302.9 609.7,302.9 611.0,302.6 612.3,302.2 613.6,302.7 614.9,302.2 616.2,302.9 617.5,302.6 618.8,302.8 620.1,301.3 621.4,302.3 622.7,302.5 624.0,302.9 625.3,302.3 626.6,302.5 627.9,301.9 629.2,302.9 630.5,302.7 631.8,302.5 633.1,301.4 634.4,302.0 635.7,302.3 637.0,302.2 638.3,302.6 639.6,302.9 640.9,302.8 642.2,302.6 643.5,302.9 644.8,302.0 646.1,302.6 647.4,302.6 648.7,302.9 650.0,302.8 651.3,302.7 652.6,302.9 653.9,302.7 655.2,302.2 656.5,301.6 657.8,302.4 659.1,301.9 660.4,302.8 661.7,301.9 663.0,302.8 664.3,301.9 665.6,302.2 666.9,302.9 668.2,302.7 669.5,302.2 670.8,302.2 672.1,302.2 673.4,302.2 674.7,301.7 676.0,302.6 677.3,302.2 678.6,301.4 679.9,302.4 681.2,301.8 682.5,302.4 683.8,302.5 685.1,302.4 686.4,302.8 687.7,302.9 689.0,302.4 690.3,302.9 691.6,302.5 692.9,302.9 694.2,302.5 695.5,302.9 696.8,302.1 698.1,302.4 699.4,302.1 700.7,302.6 702.0,302.5 703.3,302.9 704.6,302.9 705.9,302.4 707.2,302.7 708.5,302.9 709.8,302.9 711.1,302.7 712.4,302.7 713.7,302.6 715.0,302.2 716.3,302.3 717.6,302.9 718.9,302.8 720.2,302.1 721.5,302.5 722.8,302.2 724.1,302.7 725.4,302.9 726.7,302.9 728.0,302.4 729.3,302.9 730.6,302.7 731.9,302.9 733.2,302.3 734.5,302.9 735.8,302.5 737.1,302.9 738.4,302.4 739.7,302.4 741.0,302.3 742.3,302.9 743.6,302.4 744.9,302.0 746.2,302.3 747.5,302.6 748.8,302.5 750.1,302.6 751.4,302.9 752.7,301.5 754.0,302.2 755.3,301.9 756.6,302.7 757.9,302.3 759.2,302.2 760.5,302.7 761.8,302.9 763.1,302.9 764.4,302.8 765.7,302.9 767.0,302.4 768.3,302.2 769.6,302.9 770.9,302.9 772.2,302.2 773.5,302.3 774.8,302.9 776.1,302.9 777.4,302.9 778.7,302.5 780.0,302.9 781.3,302.4 782.6,302.2 783.9,302.0 785.2,302.9 786.5,302.7 787.8,302.6 789.1,302.2 790.4,302.9 791.7,302.7 793.0,301.5 794.3,302.6 795.6,302.5 796.9,302.2 798.2,302.9 799.5,301.9 800.8,302.4 802.1,302.4 803.4,302.4 804.7,302.6 806.0,302.6 807.3,302.7 808.6,302.4 809.9,302.4 811.2,302.0 812.5,302.6 813.8,302.9 815.1,302.7 816.4,302.6 817.7,301.8 819.0,302.8 820.3,302.9 821.6,302.8 822.9,302.5 824.2,302.9 825.5,302.4 826.8,302.1 828.1,302.9 829.4,302.9 830.7,302.5 832.0,302.9 833.3,302.8 834.6,302.2 835.9,302.3 837.2,301.6 838.5,302.7 839.8,302.6 841.1,302.6 842.4,302.9 843.7,302.4 845.0,302.2 846.3,301.9 847.6,302.3 848.9,302.2 850.2,302.6 851.5,302.3 852.8,302.6 854.1,302.3 855.4,302.4 856.7,302.6 858.0,302.5 859.3,302.6 860.6,302.7 861.9,302.9 863.2,302.1 864.5,302.1 865.8,302.8 867.1,302.3 868.4,302.6 869.7,302.3 871.0,302.8 872.3,302.5 873.6,302.4 874.9,302.6 876.2,302.6 877.5,302.9 878.8,302.9 880.1,302.2 881.4,302.0 882.7,302.3 884.0,302.5 885.3,302.7 886.6,302.8 887.9,302.7 889.2,302.8 890.5,302.5 891.8,302.9 893.1,302.0 894.4,302.9 895.7,302.9 897.0,301.4 898.3,302.3 899.6,301.8 900.9,302.3 902.2,302.7 903.5,301.8 904.8,302.4 906.1,302.5 907.4,302.6 908.7,302.9 910.0,302.2 911.3,302.6 912.6,302.6 913.9,302.5 915.2,302.4 916.5,302.1 917.8,302.8 919.1,302.9 920.4,301.8 921.7,302.0 923.0,302.3 924.3,302.9 925.6,302.1 926.9,302.3 928.2,302.0 929.5,302.3 930.8,302.9 932.1,302.2 933.4,302.1 934.7,302.2 936.0,302.2 937.3,301.9 938.6,302.7 939.9,301.8 941.2,302.0 942.5,302.4 943.8,302.6 945.1,302.9 946.4,301.9 947.7,302.8 949.0,302.9 950.3,302.9 951.6,302.4 952.9,302.5 954.2,301.8 955.5,301.7 956.8,302.2 958.1,302.9 959.4,302.7 960.7,302.5 962.0,301.5 963.3,302.5 964.6,302.9 965.9,302.3 967.2,302.8 968.5,302.4 969.8,302.2" fill="none" stroke="#000" stroke-width="1.05" stroke-linejoin="round"/>
<rect x="16.80" y="284.10" width="41.20" height="19.60" fill="#c8c8c8" />
<rect x="352.00" y="284.10" width="65.30" height="19.60" fill="#c8c8c8" />
<rect x="196.00" y="284.10" width="1.00" height="19.60" fill="#ff0000" />
<rect x="260.00" y="284.10" width="1.30" height="19.60" fill="#ff0000" />
<rect x="294.70" y="284.10" width="1.00" height="19.60" fill="#ff0000" />
<rect x="483.00" y="284.10" width="7.00" height="19.60" fill="#ff0000" />
<rect x="494.00" y="284.10" width="0.80" height="19.60" fill="#ff0000" />
<rect x="934.30" y="284.10" width="0.80" height="19.60" fill="#ff0000" />
<rect x="952.70" y="284.10" width="6.60" height="19.60" fill="#ff0000" />
<rect x="963.70" y="284.10" width="0.80" height="19.60" fill="#ff0000" />
<rect x="963.30" y="288.90" width="0.80" height="14.00" fill="#2a2a2a" />
<rect x="491.10" y="292.90" width="0.80" height="10.00" fill="#2a2a2a" />
<rect x="16.20" y="284.10" width="0.90" height="20.00" fill="#6e6e6e" />
<rect x="16.20" y="303.10" width="41.80" height="1.00" fill="#858585" />
<rect x="352.00" y="303.10" width="65.30" height="1.00" fill="#858585" />
<rect x="16.20" y="304.10" width="953.80" height="0.80" fill="#fcfcfc" />
<rect x="27.75" y="303.90" width="0.90" height="2.20" fill="#666" />
<text x="28.20" y="309.82" font-size="6.59" fill="#2f6a45" text-anchor="middle" textLength="13.60" lengthAdjust="spacingAndGlyphs" stroke="#2f6a45" stroke-width="0.18" >22:02</text>
<rect x="59.55" y="303.90" width="0.90" height="2.20" fill="#666" />
<text x="60.00" y="309.82" font-size="6.59" fill="#2f6a45" text-anchor="middle" textLength="13.60" lengthAdjust="spacingAndGlyphs" stroke="#2f6a45" stroke-width="0.18" >22:04</text>
<rect x="91.35" y="303.90" width="0.90" height="2.20" fill="#666" />
<text x="91.80" y="309.82" font-size="6.59" fill="#2f6a45" text-anchor="middle" textLength="13.60" lengthAdjust="spacingAndGlyphs" stroke="#2f6a45" stroke-width="0.18" >22:06</text>
<rect x="123.15" y="303.90" width="0.90" height="2.20" fill="#666" />
<text x="123.60" y="309.82" font-size="6.59" fill="#2f6a45" text-anchor="middle" textLength="13.60" lengthAdjust="spacingAndGlyphs" stroke="#2f6a45" stroke-width="0.18" >22:08</text>
<rect x="154.95" y="303.90" width="0.90" height="2.20" fill="#666" />
<text x="155.40" y="309.82" font-size="6.59" fill="#2f6a45" text-anchor="middle" textLength="13.60" lengthAdjust="spacingAndGlyphs" stroke="#2f6a45" stroke-width="0.18" >22:10</text>
<rect x="186.75" y="303.90" width="0.90" height="2.20" fill="#666" />
<text x="187.20" y="309.82" font-size="6.59" fill="#2f6a45" text-anchor="middle" textLength="13.60" lengthAdjust="spacingAndGlyphs" stroke="#2f6a45" stroke-width="0.18" >22:12</text>
<rect x="218.55" y="303.90" width="0.90" height="2.20" fill="#666" />
<text x="219.00" y="309.82" font-size="6.59" fill="#2f6a45" text-anchor="middle" textLength="13.60" lengthAdjust="spacingAndGlyphs" stroke="#2f6a45" stroke-width="0.18" >22:14</text>
<rect x="250.35" y="303.90" width="0.90" height="2.20" fill="#666" />
<text x="250.80" y="309.82" font-size="6.59" fill="#2f6a45" text-anchor="middle" textLength="13.60" lengthAdjust="spacingAndGlyphs" stroke="#2f6a45" stroke-width="0.18" >22:16</text>
<rect x="282.15" y="303.90" width="0.90" height="2.20" fill="#666" />
<text x="282.60" y="309.82" font-size="6.59" fill="#2f6a45" text-anchor="middle" textLength="13.60" lengthAdjust="spacingAndGlyphs" stroke="#2f6a45" stroke-width="0.18" >22:18</text>
<rect x="313.95" y="303.90" width="0.90" height="2.20" fill="#666" />
<text x="314.40" y="309.82" font-size="6.59" fill="#2f6a45" text-anchor="middle" textLength="13.60" lengthAdjust="spacingAndGlyphs" stroke="#2f6a45" stroke-width="0.18" >22:20</text>
<rect x="345.75" y="303.90" width="0.90" height="2.20" fill="#666" />
<text x="346.20" y="309.82" font-size="6.59" fill="#2f6a45" text-anchor="middle" textLength="13.60" lengthAdjust="spacingAndGlyphs" stroke="#2f6a45" stroke-width="0.18" >22:22</text>
<rect x="377.55" y="303.90" width="0.90" height="2.20" fill="#666" />
<text x="378.00" y="309.82" font-size="6.59" fill="#2f6a45" text-anchor="middle" textLength="13.60" lengthAdjust="spacingAndGlyphs" stroke="#2f6a45" stroke-width="0.18" >22:24</text>
<rect x="409.35" y="303.90" width="0.90" height="2.20" fill="#666" />
<text x="409.80" y="309.82" font-size="6.59" fill="#2f6a45" text-anchor="middle" textLength="13.60" lengthAdjust="spacingAndGlyphs" stroke="#2f6a45" stroke-width="0.18" >22:26</text>
<rect x="441.15" y="303.90" width="0.90" height="2.20" fill="#666" />
<text x="441.60" y="309.82" font-size="6.59" fill="#2f6a45" text-anchor="middle" textLength="13.60" lengthAdjust="spacingAndGlyphs" stroke="#2f6a45" stroke-width="0.18" >22:28</text>
<rect x="472.95" y="303.90" width="0.90" height="2.20" fill="#666" />
<text x="473.40" y="309.82" font-size="6.59" fill="#2f6a45" text-anchor="middle" textLength="13.60" lengthAdjust="spacingAndGlyphs" stroke="#2f6a45" stroke-width="0.18" >22:30</text>
<rect x="504.75" y="303.90" width="0.90" height="2.20" fill="#666" />
<text x="505.20" y="309.82" font-size="6.59" fill="#2f6a45" text-anchor="middle" textLength="13.60" lengthAdjust="spacingAndGlyphs" stroke="#2f6a45" stroke-width="0.18" >22:32</text>
<rect x="536.55" y="303.90" width="0.90" height="2.20" fill="#666" />
<text x="537.00" y="309.82" font-size="6.59" fill="#2f6a45" text-anchor="middle" textLength="13.60" lengthAdjust="spacingAndGlyphs" stroke="#2f6a45" stroke-width="0.18" >22:34</text>
<rect x="568.35" y="303.90" width="0.90" height="2.20" fill="#666" />
<text x="568.80" y="309.82" font-size="6.59" fill="#2f6a45" text-anchor="middle" textLength="13.60" lengthAdjust="spacingAndGlyphs" stroke="#2f6a45" stroke-width="0.18" >22:36</text>
<rect x="600.15" y="303.90" width="0.90" height="2.20" fill="#666" />
<text x="600.60" y="309.82" font-size="6.59" fill="#2f6a45" text-anchor="middle" textLength="13.60" lengthAdjust="spacingAndGlyphs" stroke="#2f6a45" stroke-width="0.18" >22:38</text>
<rect x="631.95" y="303.90" width="0.90" height="2.20" fill="#666" />
<text x="632.40" y="309.82" font-size="6.59" fill="#2f6a45" text-anchor="middle" textLength="13.60" lengthAdjust="spacingAndGlyphs" stroke="#2f6a45" stroke-width="0.18" >22:40</text>
<rect x="663.75" y="303.90" width="0.90" height="2.20" fill="#666" />
<text x="664.20" y="309.82" font-size="6.59" fill="#2f6a45" text-anchor="middle" textLength="13.60" lengthAdjust="spacingAndGlyphs" stroke="#2f6a45" stroke-width="0.18" >22:42</text>
<rect x="695.55" y="303.90" width="0.90" height="2.20" fill="#666" />
<text x="696.00" y="309.82" font-size="6.59" fill="#2f6a45" text-anchor="middle" textLength="13.60" lengthAdjust="spacingAndGlyphs" stroke="#2f6a45" stroke-width="0.18" >22:44</text>
<rect x="727.35" y="303.90" width="0.90" height="2.20" fill="#666" />
<text x="727.80" y="309.82" font-size="6.59" fill="#2f6a45" text-anchor="middle" textLength="13.60" lengthAdjust="spacingAndGlyphs" stroke="#2f6a45" stroke-width="0.18" >22:46</text>
<rect x="759.15" y="303.90" width="0.90" height="2.20" fill="#666" />
<text x="759.60" y="309.82" font-size="6.59" fill="#2f6a45" text-anchor="middle" textLength="13.60" lengthAdjust="spacingAndGlyphs" stroke="#2f6a45" stroke-width="0.18" >22:48</text>
<rect x="790.95" y="303.90" width="0.90" height="2.20" fill="#666" />
<text x="791.40" y="309.82" font-size="6.59" fill="#2f6a45" text-anchor="middle" textLength="13.60" lengthAdjust="spacingAndGlyphs" stroke="#2f6a45" stroke-width="0.18" >22:50</text>
<rect x="822.75" y="303.90" width="0.90" height="2.20" fill="#666" />
<text x="823.20" y="309.82" font-size="6.59" fill="#2f6a45" text-anchor="middle" textLength="13.60" lengthAdjust="spacingAndGlyphs" stroke="#2f6a45" stroke-width="0.18" >22:52</text>
<rect x="854.55" y="303.90" width="0.90" height="2.20" fill="#666" />
<text x="855.00" y="309.82" font-size="6.59" fill="#2f6a45" text-anchor="middle" textLength="13.60" lengthAdjust="spacingAndGlyphs" stroke="#2f6a45" stroke-width="0.18" >22:54</text>
<rect x="886.35" y="303.90" width="0.90" height="2.20" fill="#666" />
<text x="886.80" y="309.82" font-size="6.59" fill="#2f6a45" text-anchor="middle" textLength="13.60" lengthAdjust="spacingAndGlyphs" stroke="#2f6a45" stroke-width="0.18" >22:56</text>
<rect x="918.15" y="303.90" width="0.90" height="2.20" fill="#666" />
<text x="918.60" y="309.82" font-size="6.59" fill="#2f6a45" text-anchor="middle" textLength="13.60" lengthAdjust="spacingAndGlyphs" stroke="#2f6a45" stroke-width="0.18" >22:58</text>
<rect x="949.95" y="303.90" width="0.90" height="2.20" fill="#666" />
<text x="950.40" y="309.82" font-size="6.59" fill="#2f6a45" text-anchor="middle" textLength="13.60" lengthAdjust="spacingAndGlyphs" stroke="#2f6a45" stroke-width="0.18" >23:00</text>
<path d="M58.00 303.50 L63.00 311.70 L53.00 311.70 Z" fill="#ff0000"/>
<path d="M137.30 303.50 L142.30 311.70 L132.30 311.70 Z" fill="#ff0000"/>
<path d="M296.00 303.50 L301.00 311.70 L291.00 311.70 Z" fill="#ff0000"/>
<path d="M497.30 303.50 L502.30 311.70 L492.30 311.70 Z" fill="#ff0000"/>
<path d="M815.30 303.50 L820.30 311.70 L810.30 311.70 Z" fill="#ff0000"/>
<path d="M894.70 303.50 L899.70 311.70 L889.70 311.70 Z" fill="#ff0000"/>
<text x="16.50" y="320.34" font-size="6.22" fill="#505050" text-anchor="start" textLength="49.37" lengthAdjust="spacingAndGlyphs" stroke="#505050" stroke-width="0.18" >dns.google (8.8.8.8)</text>
<text x="493.00" y="320.36" font-size="6.27" fill="#303030" text-anchor="middle" textLength="40.00" lengthAdjust="spacingAndGlyphs" stroke="#303030" stroke-width="0.18" >Default Settings</text>
<text x="962.00" y="320.34" font-size="6.22" fill="#505050" text-anchor="end" textLength="65.30" lengthAdjust="spacingAndGlyphs" stroke="#505050" stroke-width="0.18" >60 minutes (22:01 - 23:01)</text>
<circle cx="966.8" cy="317.80" r="2.6" fill="#e0e0e0"/>
<path d="M965.5 317.10 L966.8 318.40 L968.1 317.10" fill="none" stroke="#888" stroke-width="0.5"/>
<text x="14.50" y="325.36" font-size="6.27" fill="#505050" text-anchor="end" textLength="9.34" lengthAdjust="spacingAndGlyphs" stroke="#505050" stroke-width="0.18" >600</text>
<text x="0" y="0" font-size="6.4" fill="#606060" transform="translate(14.7,340.50) rotate(-90)" textLength="12.2" lengthAdjust="spacingAndGlyphs">oms</text>
<text x="970.70" y="326.18" font-size="6.05" fill="#d04a62" text-anchor="start" textLength="6.10" lengthAdjust="spacingAndGlyphs" stroke="#d04a62" stroke-width="0.18" >30</text>
<text x="0" y="0" font-size="6.2" fill="#d04a62" transform="translate(971.1,329.60) rotate(90)" textLength="12" lengthAdjust="spacingAndGlyphs">PL %</text>
<rect x="16.80" y="321.60" width="953.20" height="19.60" fill="#ddf0d5" />
<rect x="16.80" y="321.60" width="953.20" height="16.33" fill="#fde8c8" />
<rect x="16.80" y="321.60" width="953.20" height="13.07" fill="#ffd3d3" />
<polyline points="381.3,339.4 382.6,340.2 383.9,340.0 385.2,340.3 386.5,340.2 387.8,339.5 389.1,340.0 390.4,340.4 391.7,340.1 393.0,339.9 394.3,340.4 395.6,340.4 396.9,340.2 398.2,340.2 399.5,340.1 400.8,340.4 402.1,340.3 403.4,340.4 404.7,340.2 406.0,340.3 407.3,340.0 408.6,339.0 409.9,340.1 411.2,339.7 412.5,340.1 413.8,340.0 415.1,339.7 416.4,340.4 417.7,340.4 419.0,340.4 420.3,340.4 421.6,340.4 422.9,339.8 424.2,340.3 425.5,340.0 426.8,340.1 428.1,340.3 429.4,339.9 430.7,340.2 432.0,339.6 433.3,340.3 434.6,340.4 435.9,340.0 437.2,340.4 438.5,340.4 439.8,340.0 441.1,340.0 442.4,340.4 443.7,340.4 445.0,340.4 446.3,339.9 447.6,339.9 448.9,340.0 450.2,340.4 451.5,339.6 452.8,340.4 454.1,339.9 455.4,340.1 456.7,339.9 458.0,340.4 459.3,340.4 460.6,340.1 461.9,340.4 463.2,340.1 464.5,340.0 465.8,340.3 467.1,340.4 468.4,340.4 469.7,339.9 471.0,340.4 472.3,340.3 473.6,339.8 474.9,340.4 476.2,340.4 477.5,339.9 478.8,339.8 480.1,339.7 481.4,340.3 482.7,340.3 484.0,340.2 485.3,340.4 486.6,340.4 487.9,340.4 489.2,339.7 490.5,340.4 491.8,340.0 493.1,340.1 494.4,340.2 495.7,339.7 497.0,340.4 498.3,340.4 499.6,339.8 500.9,340.1 502.2,339.4 503.5,340.4 504.8,340.4 506.1,338.9 507.4,340.1 508.7,339.8 510.0,340.4 511.3,340.4 512.6,340.0 513.9,340.4 515.2,339.8 516.5,340.1 517.8,340.3 519.1,340.3 520.4,340.0 521.7,339.8 523.0,339.2 524.3,340.4 525.6,340.2 526.9,340.3 528.2,340.4 529.5,340.4 530.8,340.4 532.1,340.4 533.4,339.9 534.7,339.8 536.0,340.4 537.3,340.2 538.6,340.1 539.9,340.4 541.2,340.4 542.5,340.4 543.8,340.1 545.1,340.2 546.4,340.4 547.7,340.1 549.0,340.0 550.3,339.8 551.6,340.4 552.9,340.4 554.2,340.4 555.5,340.4 556.8,339.7 558.1,340.1 559.4,339.9 560.7,339.6 562.0,340.4 563.3,339.9 564.6,340.2 565.9,339.7 567.2,339.8 568.5,340.4 569.8,340.2 571.1,340.4 572.4,340.3 573.7,340.3 575.0,340.0 576.3,340.4 577.6,340.2 578.9,340.2 580.2,340.3 581.5,339.8 582.8,340.2 584.1,340.3 585.4,340.0 586.7,340.4 588.0,340.4 589.3,339.9 590.6,339.6 591.9,340.4 593.2,340.2 594.5,339.7 595.8,339.9 597.1,340.4 598.4,340.0 599.7,339.6 601.0,340.3 602.3,339.7 603.6,339.8 604.9,339.9 606.2,340.1 607.5,340.2 608.8,340.4 610.1,340.4 611.4,340.4 612.7,340.1 614.0,340.4 615.3,340.3 616.6,340.0 617.9,340.3 619.2,340.0 620.5,339.7 621.8,340.4 623.1,339.6 624.4,339.9 625.7,339.5 627.0,340.3 628.3,340.4 629.6,340.1 630.9,340.4 632.2,340.0 633.5,340.4 634.8,340.4 636.1,339.9 637.4,340.0 638.7,340.4 640.0,339.7 641.3,340.2 642.6,339.9 643.9,340.4 645.2,340.0 646.5,340.4 647.8,340.4 649.1,340.4 650.4,340.4 651.7,339.4 653.0,340.0 654.3,340.3 655.6,340.4 656.9,340.4 658.2,340.2 659.5,340.4 660.8,340.1 662.1,340.3 663.4,339.8 664.7,340.4 666.0,340.4 667.3,339.6 668.6,340.3 669.9,340.4 671.2,340.1 672.5,340.0 673.8,340.2 675.1,340.0" fill="none" stroke="#000" stroke-width="1.05" stroke-linejoin="round"/>
<polyline points="741.0,340.4 742.3,340.3 743.6,340.0 744.9,340.4 746.2,340.2 747.5,340.4 748.8,340.0 750.1,339.9 751.4,340.4 752.7,340.4 754.0,340.4 755.3,338.9 756.6,340.2 757.9,340.0 759.2,340.4 760.5,340.4 761.8,340.4 763.1,340.4 764.4,340.4 765.7,340.2 767.0,340.1 768.3,339.8 769.6,339.8 770.9,340.2 772.2,340.4 773.5,340.4 774.8,339.7 776.1,339.9 777.4,339.7 778.7,340.4 780.0,340.4 781.3,340.4 782.6,339.9 783.9,340.4 785.2,340.2 786.5,339.7 787.8,340.3 789.1,340.2 790.4,340.2 791.7,340.2 793.0,340.3 794.3,339.8 795.6,339.7 796.9,340.0 798.2,340.0 799.5,339.7 800.8,340.3 802.1,339.7 803.4,339.8 804.7,340.4 806.0,340.4 807.3,339.3 808.6,339.8 809.9,340.4 811.2,339.9 812.5,340.2 813.8,340.3 815.1,340.4 816.4,339.7 817.7,340.4 819.0,340.4 820.3,339.6 821.6,340.4 822.9,340.4 824.2,340.1 825.5,339.5 826.8,340.4 828.1,340.1 829.4,339.8 830.7,339.7 832.0,340.1 833.3,339.6 834.6,340.3 835.9,339.2 837.2,340.1 838.5,340.2 839.8,340.4 841.1,340.4 842.4,339.3 843.7,339.3 845.0,340.4 846.3,340.3 847.6,340.1 848.9,340.2 850.2,339.7 851.5,340.3 852.8,340.1 854.1,340.2 855.4,340.1 856.7,340.3 858.0,340.3 859.3,339.8 860.6,339.8 861.9,340.4 863.2,339.7 864.5,340.4 865.8,340.1 867.1,340.2 868.4,340.4 869.7,339.8 871.0,340.1 872.3,339.5 873.6,340.2 874.9,339.5 876.2,340.4 877.5,340.3 878.8,340.3 880.1,340.1 881.4,340.3 882.7,340.0 884.0,340.4 885.3,340.4 886.6,339.7 887.9,340.4 889.2,340.4 890.5,340.1 891.8,340.4 893.1,340.1 894.4,340.4 895.7,340.4 897.0,340.4 898.3,339.8 899.6,340.4 900.9,340.4 902.2,339.6 903.5,339.5 904.8,340.1 906.1,340.4 907.4,340.0 908.7,340.2 910.0,340.4 911.3,340.2 912.6,340.0 913.9,340.4 915.2,340.4 916.5,339.8 917.8,340.3 919.1,339.8 920.4,340.4 921.7,340.2 923.0,340.4 924.3,340.2 925.6,340.4 926.9,339.6 928.2,340.2 929.5,339.8 930.8,340.1 932.1,340.0 933.4,339.6 934.7,340.0 936.0,340.1 937.3,340.4 938.6,340.2 939.9,340.4 941.2,339.9 942.5,340.4 943.8,339.6 945.1,339.7 946.4,340.4 947.7,340.3 949.0,340.2 950.3,340.1 951.6,339.7 952.9,340.2 954.2,340.4 955.5,340.1 956.8,340.2 958.1,340.2 959.4,340.1 960.7,338.8 962.0,340.0 963.3,340.4 964.6,339.7 965.9,340.0 967.2,340.4 968.5,339.6 969.8,339.4" fill="none" stroke="#000" stroke-width="1.05" stroke-linejoin="round"/>
<rect x="16.80" y="321.60" width="364.50" height="19.60" fill="#c8c8c8" />
<rect x="675.30" y="321.60" width="65.70" height="19.60" fill="#c8c8c8" />
<rect x="535.30" y="321.60" width="1.00" height="19.60" fill="#ff0000" />
<rect x="601.30" y="321.60" width="0.80" height="19.60" fill="#ff0000" />
<rect x="806.00" y="321.60" width="5.00" height="19.60" fill="#ff0000" />
<rect x="816.00" y="321.60" width="2.30" height="19.60" fill="#ff0000" />
<rect x="927.70" y="321.60" width="0.80" height="19.60" fill="#ff0000" />
<rect x="436.90" y="333.40" width="0.80" height="7.00" fill="#2a2a2a" />
<rect x="810.10" y="331.40" width="0.80" height="9.00" fill="#2a2a2a" />
<rect x="814.60" y="335.40" width="0.80" height="5.00" fill="#2a2a2a" />
<rect x="16.20" y="321.60" width="0.90" height="20.00" fill="#6e6e6e" />
<rect x="16.20" y="340.60" width="365.10" height="1.00" fill="#858585" />
<rect x="675.30" y="340.60" width="65.70" height="1.00" fill="#858585" />
<rect x="16.20" y="341.60" width="953.80" height="0.80" fill="#fcfcfc" />
<rect x="32.85" y="341.40" width="0.90" height="2.20" fill="#666" />
<text x="33.30" y="347.32" font-size="6.59" fill="#2f6a45" text-anchor="middle" textLength="13.60" lengthAdjust="spacingAndGlyphs" stroke="#2f6a45" stroke-width="0.18" >21:42</text>
<rect x="64.65" y="341.40" width="0.90" height="2.20" fill="#666" />
<text x="65.10" y="347.32" font-size="6.59" fill="#2f6a45" text-anchor="middle" textLength="13.60" lengthAdjust="spacingAndGlyphs" stroke="#2f6a45" stroke-width="0.18" >21:44</text>
<rect x="96.45" y="341.40" width="0.90" height="2.20" fill="#666" />
<text x="96.90" y="347.32" font-size="6.59" fill="#2f6a45" text-anchor="middle" textLength="13.60" lengthAdjust="spacingAndGlyphs" stroke="#2f6a45" stroke-width="0.18" >21:46</text>
<rect x="128.25" y="341.40" width="0.90" height="2.20" fill="#666" />
<text x="128.70" y="347.32" font-size="6.59" fill="#2f6a45" text-anchor="middle" textLength="13.60" lengthAdjust="spacingAndGlyphs" stroke="#2f6a45" stroke-width="0.18" >21:48</text>
<rect x="160.05" y="341.40" width="0.90" height="2.20" fill="#666" />
<text x="160.50" y="347.32" font-size="6.59" fill="#2f6a45" text-anchor="middle" textLength="13.60" lengthAdjust="spacingAndGlyphs" stroke="#2f6a45" stroke-width="0.18" >21:50</text>
<rect x="191.85" y="341.40" width="0.90" height="2.20" fill="#666" />
<text x="192.30" y="347.32" font-size="6.59" fill="#2f6a45" text-anchor="middle" textLength="13.60" lengthAdjust="spacingAndGlyphs" stroke="#2f6a45" stroke-width="0.18" >21:52</text>
<rect x="223.65" y="341.40" width="0.90" height="2.20" fill="#666" />
<text x="224.10" y="347.32" font-size="6.59" fill="#2f6a45" text-anchor="middle" textLength="13.60" lengthAdjust="spacingAndGlyphs" stroke="#2f6a45" stroke-width="0.18" >21:54</text>
<rect x="255.45" y="341.40" width="0.90" height="2.20" fill="#666" />
<text x="255.90" y="347.32" font-size="6.59" fill="#2f6a45" text-anchor="middle" textLength="13.60" lengthAdjust="spacingAndGlyphs" stroke="#2f6a45" stroke-width="0.18" >21:56</text>
<rect x="287.25" y="341.40" width="0.90" height="2.20" fill="#666" />
<text x="287.70" y="347.32" font-size="6.59" fill="#2f6a45" text-anchor="middle" textLength="13.60" lengthAdjust="spacingAndGlyphs" stroke="#2f6a45" stroke-width="0.18" >21:58</text>
<rect x="319.05" y="341.40" width="0.90" height="2.20" fill="#666" />
<text x="319.50" y="347.32" font-size="6.59" fill="#2f6a45" text-anchor="middle" textLength="13.60" lengthAdjust="spacingAndGlyphs" stroke="#2f6a45" stroke-width="0.18" >22:00</text>
<rect x="350.85" y="341.40" width="0.90" height="2.20" fill="#666" />
<text x="351.30" y="347.32" font-size="6.59" fill="#2f6a45" text-anchor="middle" textLength="13.60" lengthAdjust="spacingAndGlyphs" stroke="#2f6a45" stroke-width="0.18" >22:02</text>
<rect x="382.65" y="341.40" width="0.90" height="2.20" fill="#666" />
<text x="383.10" y="347.32" font-size="6.59" fill="#2f6a45" text-anchor="middle" textLength="13.60" lengthAdjust="spacingAndGlyphs" stroke="#2f6a45" stroke-width="0.18" >22:04</text>
<rect x="414.45" y="341.40" width="0.90" height="2.20" fill="#666" />
<text x="414.90" y="347.32" font-size="6.59" fill="#2f6a45" text-anchor="middle" textLength="13.60" lengthAdjust="spacingAndGlyphs" stroke="#2f6a45" stroke-width="0.18" >22:06</text>
<rect x="446.25" y="341.40" width="0.90" height="2.20" fill="#666" />
<text x="446.70" y="347.32" font-size="6.59" fill="#2f6a45" text-anchor="middle" textLength="13.60" lengthAdjust="spacingAndGlyphs" stroke="#2f6a45" stroke-width="0.18" >22:08</text>
<rect x="478.05" y="341.40" width="0.90" height="2.20" fill="#666" />
<text x="478.50" y="347.32" font-size="6.59" fill="#2f6a45" text-anchor="middle" textLength="13.60" lengthAdjust="spacingAndGlyphs" stroke="#2f6a45" stroke-width="0.18" >22:10</text>
<rect x="509.85" y="341.40" width="0.90" height="2.20" fill="#666" />
<text x="510.30" y="347.32" font-size="6.59" fill="#2f6a45" text-anchor="middle" textLength="13.60" lengthAdjust="spacingAndGlyphs" stroke="#2f6a45" stroke-width="0.18" >22:12</text>
<rect x="541.65" y="341.40" width="0.90" height="2.20" fill="#666" />
<text x="542.10" y="347.32" font-size="6.59" fill="#2f6a45" text-anchor="middle" textLength="13.60" lengthAdjust="spacingAndGlyphs" stroke="#2f6a45" stroke-width="0.18" >22:14</text>
<rect x="573.45" y="341.40" width="0.90" height="2.20" fill="#666" />
<text x="573.90" y="347.32" font-size="6.59" fill="#2f6a45" text-anchor="middle" textLength="13.60" lengthAdjust="spacingAndGlyphs" stroke="#2f6a45" stroke-width="0.18" >22:16</text>
<rect x="605.25" y="341.40" width="0.90" height="2.20" fill="#666" />
<text x="605.70" y="347.32" font-size="6.59" fill="#2f6a45" text-anchor="middle" textLength="13.60" lengthAdjust="spacingAndGlyphs" stroke="#2f6a45" stroke-width="0.18" >22:18</text>
<rect x="637.05" y="341.40" width="0.90" height="2.20" fill="#666" />
<text x="637.50" y="347.32" font-size="6.59" fill="#2f6a45" text-anchor="middle" textLength="13.60" lengthAdjust="spacingAndGlyphs" stroke="#2f6a45" stroke-width="0.18" >22:20</text>
<rect x="668.85" y="341.40" width="0.90" height="2.20" fill="#666" />
<text x="669.30" y="347.32" font-size="6.59" fill="#2f6a45" text-anchor="middle" textLength="13.60" lengthAdjust="spacingAndGlyphs" stroke="#2f6a45" stroke-width="0.18" >22:22</text>
<rect x="700.65" y="341.40" width="0.90" height="2.20" fill="#666" />
<text x="701.10" y="347.32" font-size="6.59" fill="#2f6a45" text-anchor="middle" textLength="13.60" lengthAdjust="spacingAndGlyphs" stroke="#2f6a45" stroke-width="0.18" >22:24</text>
<rect x="732.45" y="341.40" width="0.90" height="2.20" fill="#666" />
<text x="732.90" y="347.32" font-size="6.59" fill="#2f6a45" text-anchor="middle" textLength="13.60" lengthAdjust="spacingAndGlyphs" stroke="#2f6a45" stroke-width="0.18" >22:26</text>
<rect x="764.25" y="341.40" width="0.90" height="2.20" fill="#666" />
<text x="764.70" y="347.32" font-size="6.59" fill="#2f6a45" text-anchor="middle" textLength="13.60" lengthAdjust="spacingAndGlyphs" stroke="#2f6a45" stroke-width="0.18" >22:28</text>
<rect x="796.05" y="341.40" width="0.90" height="2.20" fill="#666" />
<text x="796.50" y="347.32" font-size="6.59" fill="#2f6a45" text-anchor="middle" textLength="13.60" lengthAdjust="spacingAndGlyphs" stroke="#2f6a45" stroke-width="0.18" >22:30</text>
<rect x="827.85" y="341.40" width="0.90" height="2.20" fill="#666" />
<text x="828.30" y="347.32" font-size="6.59" fill="#2f6a45" text-anchor="middle" textLength="13.60" lengthAdjust="spacingAndGlyphs" stroke="#2f6a45" stroke-width="0.18" >22:32</text>
<rect x="859.65" y="341.40" width="0.90" height="2.20" fill="#666" />
<text x="860.10" y="347.32" font-size="6.59" fill="#2f6a45" text-anchor="middle" textLength="13.60" lengthAdjust="spacingAndGlyphs" stroke="#2f6a45" stroke-width="0.18" >22:34</text>
<rect x="891.45" y="341.40" width="0.90" height="2.20" fill="#666" />
<text x="891.90" y="347.32" font-size="6.59" fill="#2f6a45" text-anchor="middle" textLength="13.60" lengthAdjust="spacingAndGlyphs" stroke="#2f6a45" stroke-width="0.18" >22:36</text>
<rect x="923.25" y="341.40" width="0.90" height="2.20" fill="#666" />
<text x="923.70" y="347.32" font-size="6.59" fill="#2f6a45" text-anchor="middle" textLength="13.60" lengthAdjust="spacingAndGlyphs" stroke="#2f6a45" stroke-width="0.18" >22:38</text>
<rect x="955.05" y="341.40" width="0.90" height="2.20" fill="#666" />
<text x="955.50" y="347.32" font-size="6.59" fill="#2f6a45" text-anchor="middle" textLength="13.60" lengthAdjust="spacingAndGlyphs" stroke="#2f6a45" stroke-width="0.18" >22:40</text>
<text x="16.50" y="357.84" font-size="6.22" fill="#505050" text-anchor="start" textLength="73.33" lengthAdjust="spacingAndGlyphs" stroke="#505050" stroke-width="0.18" >www.ebay.de (104.75.89.144)</text>
<text x="493.00" y="357.86" font-size="6.27" fill="#303030" text-anchor="middle" textLength="40.00" lengthAdjust="spacingAndGlyphs" stroke="#303030" stroke-width="0.18" >Default Settings</text>
<text x="962.00" y="357.84" font-size="6.22" fill="#505050" text-anchor="end" textLength="65.30" lengthAdjust="spacingAndGlyphs" stroke="#505050" stroke-width="0.18" >60 minutes (22:01 - 23:01)</text>
<circle cx="966.8" cy="355.30" r="2.6" fill="#e0e0e0"/>
<path d="M965.5 354.60 L966.8 355.90 L968.1 354.60" fill="none" stroke="#888" stroke-width="0.5"/>
<text x="14.50" y="362.86" font-size="6.27" fill="#505050" text-anchor="end" textLength="9.34" lengthAdjust="spacingAndGlyphs" stroke="#505050" stroke-width="0.18" >740</text>
<text x="0" y="0" font-size="6.4" fill="#606060" transform="translate(14.7,378.00) rotate(-90)" textLength="12.2" lengthAdjust="spacingAndGlyphs">oms</text>
<text x="970.70" y="363.68" font-size="6.05" fill="#d04a62" text-anchor="start" textLength="6.10" lengthAdjust="spacingAndGlyphs" stroke="#d04a62" stroke-width="0.18" >30</text>
<text x="0" y="0" font-size="6.2" fill="#d04a62" transform="translate(971.1,367.10) rotate(90)" textLength="12" lengthAdjust="spacingAndGlyphs">PL %</text>
<rect x="16.80" y="359.10" width="953.20" height="19.60" fill="#ddf0d5" />
<rect x="16.80" y="359.10" width="953.20" height="16.95" fill="#fde8c8" />
<rect x="16.80" y="359.10" width="953.20" height="14.30" fill="#ffd3d3" />
<polyline points="67.7,377.6 69.0,377.2 70.3,377.9 71.6,377.9 72.9,377.6 74.2,377.9 75.5,377.2 76.8,377.7 78.1,377.9 79.4,377.6 80.7,377.9 82.0,377.9 83.3,377.7 84.6,377.9 85.9,377.9 87.2,377.9 88.5,377.9 89.8,377.9 91.1,377.9 92.4,377.9 93.7,377.8 95.0,377.6 96.3,377.9 97.6,377.9 98.9,376.9 100.2,377.9 101.5,377.5 102.8,377.9 104.1,377.9 105.4,377.5 106.7,377.4 108.0,377.8 109.3,377.6 110.6,377.6 111.9,377.9 113.2,377.9 114.5,377.9 115.8,377.9 117.1,377.9 118.4,377.9 119.7,377.5 121.0,377.9 122.3,377.9 123.6,377.7 124.9,377.7 126.2,376.7 127.5,377.2 128.8,377.9 130.1,377.7 131.4,377.7 132.7,377.9 134.0,377.9 135.3,377.9 136.6,377.7 137.9,377.9 139.2,377.6 140.5,377.9 141.8,377.5 143.1,377.9 144.4,377.9 145.7,377.5 147.0,377.1 148.3,377.9 149.6,377.9 150.9,377.8 152.2,377.9 153.5,377.9 154.8,376.8 156.1,377.9 157.4,377.8 158.7,377.6 160.0,377.9 161.3,377.7 162.6,377.9 163.9,377.9 165.2,377.7 166.5,377.9 167.8,377.9 169.1,377.9 170.4,377.9 171.7,377.9 173.0,377.8 174.3,377.9 175.6,377.5 176.9,377.9 178.2,377.9 179.5,377.9 180.8,377.7 182.1,377.9 183.4,377.9 184.7,377.9 186.0,377.2 187.3,377.6 188.6,377.9 189.9,377.9 191.2,377.5 192.5,377.7 193.8,377.8 195.1,377.9 196.4,377.8 197.7,377.9 199.0,377.9 200.3,377.6 201.6,377.7 202.9,377.9 204.2,377.5 205.5,377.9 206.8,377.7 208.1,377.9 209.4,377.7 210.7,377.7 212.0,377.4 213.3,377.9 214.6,377.9 215.9,377.6 217.2,377.9 218.5,377.9 219.8,377.8 221.1,377.7 222.4,377.5 223.7,377.9 225.0,377.1 226.3,377.2 227.6,377.6 228.9,377.2 230.2,377.5 231.5,377.9 232.8,377.9 234.1,377.9 235.4,377.7 236.7,377.9 238.0,377.9 239.3,377.9 240.6,377.5 241.9,377.5 243.2,377.9 244.5,377.9 245.8,377.6 247.1,377.5 248.4,377.9 249.7,377.9 251.0,377.8 252.3,377.8 253.6,377.9 254.9,376.7 256.2,377.7 257.5,377.9 258.8,377.9 260.1,377.8 261.4,377.9 262.7,377.0 264.0,377.5 265.3,377.6 266.6,377.6 267.9,377.9 269.2,377.2 270.5,377.9 271.8,377.4 273.1,377.4 274.4,377.5 275.7,377.9 277.0,377.9 278.3,377.8 279.6,377.9 280.9,377.9 282.2,377.9 283.5,377.9 284.8,377.9 286.1,377.9 287.4,377.9 288.7,377.9 290.0,377.6 291.3,377.9 292.6,377.9 293.9,377.8 295.2,377.7 296.5,377.6 297.8,377.6 299.1,377.3 300.4,377.7 301.7,377.9 303.0,377.9 304.3,377.9 305.6,377.9 306.9,377.9 308.2,377.9 309.5,377.9 310.8,377.9 312.1,377.9 313.4,377.7 314.7,377.9 316.0,377.5 317.3,377.9 318.6,377.8 319.9,377.9 321.2,377.9 322.5,377.7 323.8,377.9 325.1,377.6 326.4,377.9 327.7,377.4 329.0,377.9 330.3,377.9 331.6,377.9 332.9,377.9 334.2,377.5 335.5,377.4 336.8,377.7 338.1,377.9 339.4,377.9 340.7,377.2 342.0,377.9 343.3,377.9 344.6,377.9 345.9,377.2 347.2,377.9 348.5,377.5 349.8,377.9 351.1,377.9" fill="none" stroke="#000" stroke-width="1.05" stroke-linejoin="round"/>
<polyline points="418.0,377.5 419.3,377.9 420.6,377.7 421.9,377.9 423.2,377.9 424.5,377.9 425.8,377.6 427.1,377.9 428.4,377.9 429.7,377.7 431.0,377.4 432.3,377.8 433.6,377.9 434.9,377.9 436.2,377.9 437.5,377.9 438.8,377.9 440.1,377.8 441.4,377.8 442.7,377.8 444.0,377.9 445.3,377.9 446.6,377.7 447.9,377.6 449.2,377.9 450.5,377.4 451.8,377.8 453.1,377.5 454.4,377.4 455.7,377.5 457.0,377.4 458.3,377.3 459.6,377.9 460.9,377.7 462.2,377.4 463.5,377.7 464.8,377.9 466.1,377.9 467.4,377.2 468.7,377.9 470.0,377.9 471.3,377.7 472.6,377.5 473.9,377.9 475.2,377.5 476.5,377.6 477.8,377.9 479.1,377.9 480.4,377.8 481.7,377.8 483.0,377.9 484.3,377.1 485.6,377.9 486.9,377.6 488.2,377.8 489.5,377.8 490.8,377.9 492.1,377.6 493.4,377.9 494.7,377.9 496.0,377.9 497.3,377.3 498.6,377.7 499.9,377.9 501.2,377.7 502.5,376.9 503.8,377.9 505.1,377.9 506.4,377.9 507.7,377.9 509.0,377.9 510.3,377.6 511.6,377.4 512.9,377.9 514.2,377.9 515.5,377.9 516.8,377.8 518.1,377.9 519.4,377.6 520.7,377.8 522.0,377.8 523.3,377.9 524.6,377.9 525.9,377.9 527.2,377.8 528.5,377.9 529.8,377.4 531.1,377.9 532.4,377.8 533.7,377.9 535.0,377.5 536.3,377.2 537.6,377.3 538.9,377.9 540.2,377.4 541.5,377.4 542.8,377.7 544.1,377.6 545.4,377.9 546.7,377.3 548.0,377.6 549.3,377.9 550.6,377.8 551.9,377.9 553.2,377.9 554.5,377.7 555.8,377.9 557.1,377.9 558.4,377.9 559.7,377.6 561.0,377.7 562.3,377.9 563.6,377.3 564.9,377.6 566.2,377.9 567.5,377.9 568.8,377.9 570.1,377.9 571.4,377.3 572.7,377.9 574.0,377.9 575.3,377.8 576.6,377.9 577.9,377.7 579.2,377.5 580.5,377.9 581.8,376.8 583.1,377.9 584.4,377.9 585.7,377.7 587.0,377.9 588.3,377.8 589.6,377.4 590.9,377.4 592.2,377.9 593.5,377.9 594.8,377.9 596.1,377.9 597.4,377.8 598.7,377.4 600.0,376.9 601.3,377.9 602.6,377.9 603.9,377.9 605.2,377.9 606.5,377.5 607.8,377.8 609.1,377.5 610.4,377.9 611.7,377.9 613.0,377.8 614.3,377.7 615.6,377.8 616.9,377.9 618.2,377.9 619.5,377.9 620.8,377.9 622.1,377.8 623.4,377.2 624.7,377.4 626.0,377.4 627.3,377.9 628.6,377.9 629.9,377.3 631.2,377.8 632.5,377.9 633.8,377.9 635.1,377.9 636.4,377.9 637.7,377.7 639.0,377.7 640.3,377.2 641.6,377.9 642.9,377.9 644.2,377.3 645.5,377.5 646.8,377.9 648.1,377.5 649.4,377.8 650.7,377.9 652.0,377.5 653.3,377.9 654.6,377.5 655.9,377.9 657.2,377.4 658.5,377.8 659.8,377.9 661.1,377.1 662.4,377.9 663.7,377.6 665.0,377.4 666.3,377.9 667.6,377.9 668.9,377.9 670.2,377.9 671.5,377.9 672.8,377.9 674.1,377.9 675.4,377.7 676.7,377.9 678.0,377.5 679.3,377.8 680.6,377.8 681.9,377.9 683.2,377.4 684.5,377.9 685.8,377.8 687.1,377.8 688.4,377.9 689.7,377.8 691.0,377.7 692.3,377.7 693.6,377.9 694.9,377.2 696.2,377.7 697.5,377.5 698.8,377.7 700.1,377.7 701.4,377.6 702.7,377.9 704.0,377.9 705.3,377.8 706.6,377.9 707.9,377.7 709.2,377.9 710.5,377.9 711.8,377.9 713.1,377.9 714.4,377.6 715.7,377.9 717.0,377.9 718.3,377.8 719.6,377.5 720.9,377.1 722.2,377.8 723.5,377.5 724.8,377.9 726.1,377.7 727.4,377.8 728.7,377.7 730.0,377.9 731.3,377.9 732.6,377.6 733.9,377.8 735.2,377.6 736.5,377.8 737.8,377.9 739.1,377.9 740.4,377.8 741.7,377.7 743.0,377.9 744.3,377.1 745.6,377.5 746.9,377.9 748.2,377.8 749.5,377.9 750.8,377.9 752.1,377.9 753.4,377.8 754.7,377.9 756.0,377.9 757.3,377.3 758.6,377.9 759.9,377.5 761.2,377.9 762.5,377.9 763.8,377.5 765.1,377.8 766.4,377.9 767.7,377.9 769.0,377.9 770.3,377.9 771.6,377.3 772.9,377.8 774.2,377.9 775.5,377.5 776.8,377.9 778.1,377.5 779.4,377.8 780.7,377.9 782.0,377.9 783.3,377.9 784.6,377.9 785.9,377.5 787.2,377.2 788.5,377.5 789.8,377.9 791.1,377.9 792.4,377.3 793.7,377.4 795.0,377.9 796.3,377.9 797.6,377.9 798.9,377.3 800.2,377.9 801.5,377.2 802.8,377.0 804.1,377.6 805.4,377.6 806.7,377.7 808.0,377.9 809.3,377.9 810.6,377.9 811.9,377.6 813.2,377.3 814.5,377.9 815.8,377.9 817.1,377.8 818.4,377.9 819.7,377.4 821.0,377.8 822.3,377.9 823.6,377.7 824.9,377.4 826.2,377.8 827.5,377.7 828.8,377.3 830.1,377.9 831.4,377.9 832.7,377.8 834.0,377.9 835.3,377.9 836.6,377.9 837.9,377.9 839.2,377.9 840.5,377.9 841.8,377.6 843.1,377.8 844.4,377.9 845.7,377.9 847.0,377.9 848.3,377.9 849.6,377.9 850.9,377.8 852.2,377.7 853.5,377.8 854.8,377.8 856.1,377.9 857.4,377.3 858.7,377.9 860.0,377.9 861.3,377.0 862.6,377.9 863.9,377.6 865.2,377.9 866.5,376.8 867.8,377.9 869.1,377.9 870.4,377.8 871.7,377.9 873.0,377.9 874.3,377.9 875.6,377.0 876.9,377.6 878.2,377.0 879.5,377.3 880.8,377.7 882.1,377.8 883.4,377.7 884.7,377.9 886.0,377.4 887.3,377.9 888.6,377.5 889.9,377.5 891.2,377.9 892.5,377.9 893.8,377.6 895.1,377.6 896.4,377.9 897.7,377.9 899.0,377.9 900.3,377.8 901.6,377.5 902.9,377.2 904.2,377.9 905.5,377.9 906.8,377.7 908.1,377.7 909.4,377.9 910.7,377.6 912.0,377.9 913.3,377.1 914.6,377.8 915.9,377.5 917.2,377.9 918.5,377.3 919.8,377.9 921.1,377.5 922.4,377.4 923.7,377.9 925.0,377.9 926.3,377.9 927.6,377.9 928.9,377.8 930.2,377.9 931.5,377.9 932.8,377.3 934.1,377.9 935.4,377.8 936.7,377.9 938.0,377.7 939.3,376.9 940.6,377.9 941.9,377.9 943.2,377.9 944.5,377.9 945.8,377.9 947.1,377.7 948.4,377.9 949.7,377.1 951.0,377.9 952.3,377.9 953.6,377.9 954.9,377.4 956.2,377.9 957.5,377.9 958.8,377.9 960.1,377.9 961.4,377.9 962.7,377.9 964.0,377.7 965.3,377.9 966.6,377.7 967.9,377.9 969.2,377.4" fill="none" stroke="#000" stroke-width="1.05" stroke-linejoin="round"/>
<rect x="16.80" y="359.10" width="50.90" height="19.60" fill="#c8c8c8" />
<rect x="352.00" y="359.10" width="66.00" height="19.60" fill="#c8c8c8" />
<rect x="220.00" y="359.10" width="1.00" height="19.60" fill="#ff0000" />
<rect x="276.70" y="359.10" width="1.00" height="19.60" fill="#ff0000" />
<rect x="427.00" y="359.10" width="0.80" height="19.60" fill="#ff0000" />
<rect x="483.00" y="359.10" width="6.70" height="19.60" fill="#ff0000" />
<rect x="494.00" y="359.10" width="0.80" height="19.60" fill="#ff0000" />
<rect x="819.30" y="359.10" width="0.80" height="19.60" fill="#ff0000" />
<rect x="922.70" y="359.10" width="1.00" height="19.60" fill="#ff0000" />
<rect x="928.70" y="359.10" width="0.80" height="19.60" fill="#ff0000" />
<rect x="952.70" y="359.10" width="6.60" height="19.60" fill="#ff0000" />
<rect x="964.30" y="359.10" width="0.80" height="19.60" fill="#ff0000" />
<rect x="503.60" y="373.90" width="0.80" height="4.00" fill="#2a2a2a" />
<rect x="493.60" y="369.90" width="0.80" height="8.00" fill="#2a2a2a" />
<rect x="16.20" y="359.10" width="0.90" height="20.00" fill="#6e6e6e" />
<rect x="16.20" y="378.10" width="51.50" height="1.00" fill="#858585" />
<rect x="352.00" y="378.10" width="66.00" height="1.00" fill="#858585" />
<rect x="16.20" y="379.10" width="953.80" height="0.80" fill="#fcfcfc" />
<rect x="27.75" y="378.90" width="0.90" height="2.20" fill="#666" />
<text x="28.20" y="384.82" font-size="6.59" fill="#2f6a45" text-anchor="middle" textLength="13.60" lengthAdjust="spacingAndGlyphs" stroke="#2f6a45" stroke-width="0.18" >22:02</text>
<rect x="59.55" y="378.90" width="0.90" height="2.20" fill="#666" />
<text x="60.00" y="384.82" font-size="6.59" fill="#2f6a45" text-anchor="middle" textLength="13.60" lengthAdjust="spacingAndGlyphs" stroke="#2f6a45" stroke-width="0.18" >22:04</text>
<rect x="91.35" y="378.90" width="0.90" height="2.20" fill="#666" />
<text x="91.80" y="384.82" font-size="6.59" fill="#2f6a45" text-anchor="middle" textLength="13.60" lengthAdjust="spacingAndGlyphs" stroke="#2f6a45" stroke-width="0.18" >22:06</text>
<rect x="123.15" y="378.90" width="0.90" height="2.20" fill="#666" />
<text x="123.60" y="384.82" font-size="6.59" fill="#2f6a45" text-anchor="middle" textLength="13.60" lengthAdjust="spacingAndGlyphs" stroke="#2f6a45" stroke-width="0.18" >22:08</text>
<rect x="154.95" y="378.90" width="0.90" height="2.20" fill="#666" />
<text x="155.40" y="384.82" font-size="6.59" fill="#2f6a45" text-anchor="middle" textLength="13.60" lengthAdjust="spacingAndGlyphs" stroke="#2f6a45" stroke-width="0.18" >22:10</text>
<rect x="186.75" y="378.90" width="0.90" height="2.20" fill="#666" />
<text x="187.20" y="384.82" font-size="6.59" fill="#2f6a45" text-anchor="middle" textLength="13.60" lengthAdjust="spacingAndGlyphs" stroke="#2f6a45" stroke-width="0.18" >22:12</text>
<rect x="218.55" y="378.90" width="0.90" height="2.20" fill="#666" />
<text x="219.00" y="384.82" font-size="6.59" fill="#2f6a45" text-anchor="middle" textLength="13.60" lengthAdjust="spacingAndGlyphs" stroke="#2f6a45" stroke-width="0.18" >22:14</text>
<rect x="250.35" y="378.90" width="0.90" height="2.20" fill="#666" />
<text x="250.80" y="384.82" font-size="6.59" fill="#2f6a45" text-anchor="middle" textLength="13.60" lengthAdjust="spacingAndGlyphs" stroke="#2f6a45" stroke-width="0.18" >22:16</text>
<rect x="282.15" y="378.90" width="0.90" height="2.20" fill="#666" />
<text x="282.60" y="384.82" font-size="6.59" fill="#2f6a45" text-anchor="middle" textLength="13.60" lengthAdjust="spacingAndGlyphs" stroke="#2f6a45" stroke-width="0.18" >22:18</text>
<rect x="313.95" y="378.90" width="0.90" height="2.20" fill="#666" />
<text x="314.40" y="384.82" font-size="6.59" fill="#2f6a45" text-anchor="middle" textLength="13.60" lengthAdjust="spacingAndGlyphs" stroke="#2f6a45" stroke-width="0.18" >22:20</text>
<rect x="345.75" y="378.90" width="0.90" height="2.20" fill="#666" />
<text x="346.20" y="384.82" font-size="6.59" fill="#2f6a45" text-anchor="middle" textLength="13.60" lengthAdjust="spacingAndGlyphs" stroke="#2f6a45" stroke-width="0.18" >22:22</text>
<rect x="377.55" y="378.90" width="0.90" height="2.20" fill="#666" />
<text x="378.00" y="384.82" font-size="6.59" fill="#2f6a45" text-anchor="middle" textLength="13.60" lengthAdjust="spacingAndGlyphs" stroke="#2f6a45" stroke-width="0.18" >22:24</text>
<rect x="409.35" y="378.90" width="0.90" height="2.20" fill="#666" />
<text x="409.80" y="384.82" font-size="6.59" fill="#2f6a45" text-anchor="middle" textLength="13.60" lengthAdjust="spacingAndGlyphs" stroke="#2f6a45" stroke-width="0.18" >22:26</text>
<rect x="441.15" y="378.90" width="0.90" height="2.20" fill="#666" />
<text x="441.60" y="384.82" font-size="6.59" fill="#2f6a45" text-anchor="middle" textLength="13.60" lengthAdjust="spacingAndGlyphs" stroke="#2f6a45" stroke-width="0.18" >22:28</text>
<rect x="472.95" y="378.90" width="0.90" height="2.20" fill="#666" />
<text x="473.40" y="384.82" font-size="6.59" fill="#2f6a45" text-anchor="middle" textLength="13.60" lengthAdjust="spacingAndGlyphs" stroke="#2f6a45" stroke-width="0.18" >22:30</text>
<rect x="504.75" y="378.90" width="0.90" height="2.20" fill="#666" />
<text x="505.20" y="384.82" font-size="6.59" fill="#2f6a45" text-anchor="middle" textLength="13.60" lengthAdjust="spacingAndGlyphs" stroke="#2f6a45" stroke-width="0.18" >22:32</text>
<rect x="536.55" y="378.90" width="0.90" height="2.20" fill="#666" />
<text x="537.00" y="384.82" font-size="6.59" fill="#2f6a45" text-anchor="middle" textLength="13.60" lengthAdjust="spacingAndGlyphs" stroke="#2f6a45" stroke-width="0.18" >22:34</text>
<rect x="568.35" y="378.90" width="0.90" height="2.20" fill="#666" />
<text x="568.80" y="384.82" font-size="6.59" fill="#2f6a45" text-anchor="middle" textLength="13.60" lengthAdjust="spacingAndGlyphs" stroke="#2f6a45" stroke-width="0.18" >22:36</text>
<rect x="600.15" y="378.90" width="0.90" height="2.20" fill="#666" />
<text x="600.60" y="384.82" font-size="6.59" fill="#2f6a45" text-anchor="middle" textLength="13.60" lengthAdjust="spacingAndGlyphs" stroke="#2f6a45" stroke-width="0.18" >22:38</text>
<rect x="631.95" y="378.90" width="0.90" height="2.20" fill="#666" />
<text x="632.40" y="384.82" font-size="6.59" fill="#2f6a45" text-anchor="middle" textLength="13.60" lengthAdjust="spacingAndGlyphs" stroke="#2f6a45" stroke-width="0.18" >22:40</text>
<rect x="663.75" y="378.90" width="0.90" height="2.20" fill="#666" />
<text x="664.20" y="384.82" font-size="6.59" fill="#2f6a45" text-anchor="middle" textLength="13.60" lengthAdjust="spacingAndGlyphs" stroke="#2f6a45" stroke-width="0.18" >22:42</text>
<rect x="695.55" y="378.90" width="0.90" height="2.20" fill="#666" />
<text x="696.00" y="384.82" font-size="6.59" fill="#2f6a45" text-anchor="middle" textLength="13.60" lengthAdjust="spacingAndGlyphs" stroke="#2f6a45" stroke-width="0.18" >22:44</text>
<rect x="727.35" y="378.90" width="0.90" height="2.20" fill="#666" />
<text x="727.80" y="384.82" font-size="6.59" fill="#2f6a45" text-anchor="middle" textLength="13.60" lengthAdjust="spacingAndGlyphs" stroke="#2f6a45" stroke-width="0.18" >22:46</text>
<rect x="759.15" y="378.90" width="0.90" height="2.20" fill="#666" />
<text x="759.60" y="384.82" font-size="6.59" fill="#2f6a45" text-anchor="middle" textLength="13.60" lengthAdjust="spacingAndGlyphs" stroke="#2f6a45" stroke-width="0.18" >22:48</text>
<rect x="790.95" y="378.90" width="0.90" height="2.20" fill="#666" />
<text x="791.40" y="384.82" font-size="6.59" fill="#2f6a45" text-anchor="middle" textLength="13.60" lengthAdjust="spacingAndGlyphs" stroke="#2f6a45" stroke-width="0.18" >22:50</text>
<rect x="822.75" y="378.90" width="0.90" height="2.20" fill="#666" />
<text x="823.20" y="384.82" font-size="6.59" fill="#2f6a45" text-anchor="middle" textLength="13.60" lengthAdjust="spacingAndGlyphs" stroke="#2f6a45" stroke-width="0.18" >22:52</text>
<rect x="854.55" y="378.90" width="0.90" height="2.20" fill="#666" />
<text x="855.00" y="384.82" font-size="6.59" fill="#2f6a45" text-anchor="middle" textLength="13.60" lengthAdjust="spacingAndGlyphs" stroke="#2f6a45" stroke-width="0.18" >22:54</text>
<rect x="886.35" y="378.90" width="0.90" height="2.20" fill="#666" />
<text x="886.80" y="384.82" font-size="6.59" fill="#2f6a45" text-anchor="middle" textLength="13.60" lengthAdjust="spacingAndGlyphs" stroke="#2f6a45" stroke-width="0.18" >22:56</text>
<rect x="918.15" y="378.90" width="0.90" height="2.20" fill="#666" />
<text x="918.60" y="384.82" font-size="6.59" fill="#2f6a45" text-anchor="middle" textLength="13.60" lengthAdjust="spacingAndGlyphs" stroke="#2f6a45" stroke-width="0.18" >22:58</text>
<rect x="949.95" y="378.90" width="0.90" height="2.20" fill="#666" />
<text x="950.40" y="384.82" font-size="6.59" fill="#2f6a45" text-anchor="middle" textLength="13.60" lengthAdjust="spacingAndGlyphs" stroke="#2f6a45" stroke-width="0.18" >23:00</text>
<text x="16.50" y="395.34" font-size="6.22" fill="#505050" text-anchor="start" textLength="81.45" lengthAdjust="spacingAndGlyphs" stroke="#505050" stroke-width="0.18" >www.amazon.de (52.222.239.60)</text>
<text x="493.00" y="395.36" font-size="6.27" fill="#303030" text-anchor="middle" textLength="40.00" lengthAdjust="spacingAndGlyphs" stroke="#303030" stroke-width="0.18" >Default Settings</text>
<text x="962.00" y="395.34" font-size="6.22" fill="#505050" text-anchor="end" textLength="65.30" lengthAdjust="spacingAndGlyphs" stroke="#505050" stroke-width="0.18" >60 minutes (22:01 - 23:01)</text>
<circle cx="966.8" cy="392.80" r="2.6" fill="#e0e0e0"/>
<path d="M965.5 392.10 L966.8 393.40 L968.1 392.10" fill="none" stroke="#888" stroke-width="0.5"/>
<text x="14.50" y="400.36" font-size="6.27" fill="#505050" text-anchor="end" textLength="12.46" lengthAdjust="spacingAndGlyphs" stroke="#505050" stroke-width="0.18" >1010</text>
<text x="0" y="0" font-size="6.4" fill="#606060" transform="translate(14.7,415.50) rotate(-90)" textLength="12.2" lengthAdjust="spacingAndGlyphs">oms</text>
<text x="970.70" y="401.18" font-size="6.05" fill="#d04a62" text-anchor="start" textLength="6.10" lengthAdjust="spacingAndGlyphs" stroke="#d04a62" stroke-width="0.18" >30</text>
<text x="0" y="0" font-size="6.2" fill="#d04a62" transform="translate(971.1,404.60) rotate(90)" textLength="12" lengthAdjust="spacingAndGlyphs">PL %</text>
<rect x="16.80" y="396.60" width="953.20" height="19.60" fill="#ddf0d5" />
<rect x="16.80" y="396.60" width="953.20" height="17.66" fill="#fde8c8" />
<rect x="16.80" y="396.60" width="953.20" height="15.72" fill="#ffd3d3" />
<polyline points="76.0,415.4 77.3,415.4 78.6,415.4 79.9,415.4 81.2,415.4 82.5,415.3 83.8,415.4 85.1,415.2 86.4,415.4 87.7,415.4 89.0,415.4 90.3,415.4 91.6,415.4 92.9,415.1 94.2,415.4 95.5,415.4 96.8,415.4 98.1,415.4 99.4,414.9 100.7,415.4 102.0,415.4 103.3,415.4 104.6,415.4 105.9,415.4 107.2,415.4 108.5,415.4 109.8,415.4 111.1,415.4 112.4,415.4 113.7,414.9 115.0,415.3 116.3,415.3 117.6,415.4 118.9,415.4 120.2,415.4 121.5,415.4 122.8,415.4 124.1,415.4 125.4,415.4 126.7,415.4 128.0,415.4 129.3,415.4 130.6,414.6 131.9,415.4 133.2,415.4 134.5,415.3 135.8,415.3 137.1,415.4 138.4,414.9 139.7,415.2 141.0,415.1 142.3,415.4 143.6,415.4 144.9,415.4 146.2,415.4 147.5,415.4 148.8,415.4 150.1,414.9 151.4,415.4 152.7,415.4 154.0,415.1 155.3,415.4 156.6,415.4 157.9,415.4 159.2,415.4 160.5,415.4 161.8,414.9 163.1,415.4 164.4,415.4 165.7,415.3 167.0,415.4 168.3,415.4 169.6,415.4 170.9,415.4 172.2,415.4 173.5,415.4 174.8,415.4 176.1,415.4 177.4,415.4 178.7,415.3 180.0,415.4 181.3,415.1 182.6,415.4 183.9,415.4 185.2,414.5 186.5,415.4 187.8,415.4 189.1,415.4 190.4,415.4 191.7,415.4 193.0,415.4 194.3,415.4 195.6,414.5 196.9,415.4 198.2,415.4 199.5,415.1 200.8,415.4 202.1,415.4 203.4,415.4 204.7,415.4 206.0,415.4 207.3,415.1 208.6,415.4 209.9,415.4 211.2,415.4 212.5,415.4 213.8,415.4 215.1,415.4 216.4,415.4 217.7,415.4 219.0,415.4 220.3,414.8 221.6,415.4 222.9,415.4 224.2,415.4 225.5,415.2 226.8,415.4 228.1,415.4 229.4,415.4 230.7,415.4 232.0,415.4 233.3,415.3 234.6,415.2 235.9,415.4 237.2,415.4 238.5,415.4 239.8,415.4 241.1,415.4 242.4,415.4 243.7,415.4 245.0,415.4 246.3,415.4 247.6,415.4 248.9,415.2 250.2,415.4 251.5,415.4 252.8,415.4 254.1,415.4 255.4,415.4 256.7,415.4 258.0,415.1 259.3,415.4 260.6,415.4 261.9,415.4 263.2,415.2 264.5,415.2 265.8,415.4 267.1,415.4 268.4,415.4 269.7,415.4 271.0,415.2 272.3,415.4 273.6,415.4 274.9,415.4 276.2,415.4 277.5,415.4 278.8,415.4 280.1,415.3 281.4,415.4 282.7,415.4 284.0,415.4 285.3,415.4 286.6,415.4 287.9,415.4 289.2,415.4 290.5,415.4 291.8,415.4 293.1,415.4 294.4,415.4 295.7,415.2 297.0,415.4 298.3,415.4 299.6,415.4 300.9,415.1 302.2,415.3 303.5,415.3 304.8,415.4 306.1,415.2 307.4,415.4 308.7,415.4 310.0,415.2 311.3,415.4 312.6,415.4 313.9,415.2 315.2,415.4 316.5,415.3 317.8,415.4 319.1,415.3 320.4,415.4 321.7,415.4 323.0,415.2 324.3,415.4 325.6,415.4 326.9,415.4 328.2,415.4 329.5,415.4 330.8,415.3 332.1,415.4 333.4,415.4 334.7,415.4 336.0,415.4 337.3,415.4 338.6,415.4 339.9,415.4 341.2,415.4 342.5,415.4 343.8,415.4 345.1,415.1 346.4,415.4 347.7,415.4 349.0,415.3 350.3,415.2" fill="none" stroke="#000" stroke-width="1.05" stroke-linejoin="round"/>
<polyline points="419.0,415.4 420.3,415.4 421.6,415.4 422.9,415.3 424.2,415.4 425.5,415.4 426.8,415.3 428.1,415.4 429.4,415.4 430.7,415.4 432.0,414.8 433.3,415.4 434.6,415.2 435.9,415.4 437.2,415.4 438.5,415.3 439.8,415.4 441.1,415.4 442.4,415.3 443.7,415.4 445.0,415.4 446.3,415.4 447.6,415.4 448.9,415.2 450.2,415.4 451.5,415.4 452.8,415.4 454.1,415.4 455.4,415.4 456.7,415.4 458.0,415.4 459.3,415.4 460.6,415.2 461.9,415.4 463.2,415.1 464.5,415.4 465.8,415.4 467.1,415.4 468.4,414.8 469.7,415.4 471.0,415.4 472.3,415.4 473.6,415.4 474.9,415.4 476.2,415.4 477.5,415.4 478.8,415.4 480.1,415.4 481.4,415.4 482.7,415.4 484.0,415.4 485.3,415.4 486.6,415.4 487.9,415.4 489.2,415.4 490.5,415.1 491.8,415.4 493.1,415.4 494.4,415.4 495.7,414.9 497.0,415.4 498.3,415.4 499.6,415.4 500.9,415.4 502.2,415.0 503.5,415.4 504.8,415.3 506.1,415.4 507.4,415.2 508.7,415.4 510.0,415.4 511.3,415.4 512.6,415.3 513.9,415.4 515.2,415.4 516.5,415.4 517.8,415.3 519.1,415.4 520.4,415.4 521.7,415.4 523.0,415.4 524.3,415.4 525.6,415.4 526.9,414.9 528.2,415.4 529.5,415.4 530.8,415.4 532.1,415.4 533.4,415.4 534.7,415.3 536.0,414.9 537.3,415.2 538.6,415.4 539.9,414.9 541.2,415.1 542.5,415.4 543.8,415.4 545.1,415.2 546.4,415.4 547.7,415.4 549.0,415.4 550.3,415.1 551.6,415.4 552.9,415.4 554.2,415.4 555.5,415.4 556.8,415.1 558.1,415.4 559.4,415.4 560.7,414.9 562.0,415.4 563.3,415.4 564.6,415.4 565.9,415.4 567.2,415.4 568.5,415.4 569.8,415.4 571.1,415.4 572.4,415.4 573.7,415.4 575.0,415.2 576.3,415.4 577.6,415.2 578.9,415.4 580.2,415.2 581.5,415.4 582.8,415.4 584.1,415.4 585.4,415.2 586.7,415.2 588.0,415.4 589.3,414.7 590.6,415.1 591.9,415.4 593.2,415.4 594.5,415.4 595.8,415.4 597.1,415.4 598.4,415.3 599.7,415.2 601.0,415.4 602.3,415.2 603.6,415.3 604.9,415.4 606.2,415.4 607.5,415.4 608.8,415.4 610.1,415.2 611.4,415.4 612.7,415.4 614.0,415.4 615.3,415.4 616.6,415.1 617.9,415.4 619.2,415.2 620.5,415.4 621.8,415.4 623.1,415.1 624.4,415.4 625.7,415.4 627.0,415.4 628.3,415.3 629.6,415.4 630.9,415.4 632.2,415.4 633.5,415.4 634.8,415.3 636.1,415.4 637.4,415.4 638.7,415.4 640.0,415.0 641.3,415.4 642.6,415.4 643.9,415.4 645.2,415.4 646.5,415.4 647.8,415.4 649.1,415.3 650.4,415.2 651.7,415.3 653.0,415.4 654.3,415.3 655.6,415.4 656.9,415.4 658.2,415.4 659.5,415.4 660.8,415.3 662.1,415.2 663.4,415.3 664.7,414.9 666.0,415.4 667.3,415.4 668.6,415.4 669.9,415.4 671.2,415.2 672.5,415.4 673.8,415.4 675.1,415.4 676.4,415.0 677.7,415.2 679.0,415.4 680.3,415.4 681.6,414.8 682.9,415.4 684.2,415.4 685.5,415.4 686.8,415.4 688.1,415.1 689.4,415.4 690.7,415.0 692.0,415.4 693.3,415.1 694.6,415.4 695.9,415.4 697.2,415.4 698.5,415.1 699.8,415.4 701.1,415.0 702.4,415.4 703.7,415.4 705.0,415.1 706.3,415.4 707.6,415.3 708.9,415.4 710.2,415.4 711.5,415.4 712.8,415.4 714.1,415.4 715.4,415.3 716.7,415.4 718.0,415.4 719.3,415.4 720.6,415.1 721.9,415.4 723.2,415.4 724.5,415.3 725.8,415.4 727.1,415.3 728.4,415.4 729.7,415.1 731.0,415.4 732.3,415.4 733.6,415.4 734.9,415.4 736.2,415.2 737.5,415.4 738.8,415.4 740.1,415.4 741.4,415.1 742.7,415.4 744.0,415.3 745.3,415.4 746.6,415.4 747.9,415.4 749.2,415.4 750.5,415.4 751.8,415.4 753.1,415.4 754.4,415.1 755.7,415.3 757.0,415.4 758.3,415.4 759.6,415.4 760.9,415.4 762.2,415.4 763.5,415.4 764.8,415.4 766.1,415.3 767.4,415.4 768.7,415.3 770.0,415.4 771.3,415.4 772.6,415.4 773.9,415.4 775.2,415.2 776.5,414.8 777.8,415.2 779.1,414.9 780.4,415.4 781.7,415.4 783.0,415.4 784.3,415.4 785.6,415.4 786.9,415.4 788.2,415.4 789.5,415.4 790.8,415.4 792.1,415.4 793.4,415.4 794.7,415.4 796.0,415.4 797.3,415.4 798.6,415.4 799.9,415.4 801.2,415.4 802.5,414.7 803.8,415.4 805.1,415.2 806.4,415.4 807.7,415.2 809.0,415.4 810.3,415.4 811.6,415.4 812.9,415.4 814.2,415.4 815.5,415.4 816.8,415.1 818.1,415.4 819.4,415.4 820.7,415.4 822.0,415.2 823.3,415.4 824.6,415.4 825.9,415.4 827.2,415.3 828.5,415.4 829.8,415.4 831.1,415.4 832.4,415.4 833.7,415.3 835.0,415.4 836.3,415.4 837.6,415.4 838.9,415.3 840.2,415.4 841.5,415.4 842.8,415.4 844.1,415.4 845.4,415.4 846.7,415.4 848.0,415.4 849.3,415.4 850.6,415.4 851.9,415.4 853.2,415.4 854.5,415.4 855.8,415.4 857.1,415.4 858.4,415.2 859.7,415.4 861.0,415.4 862.3,415.0 863.6,415.4 864.9,415.4 866.2,415.4 867.5,415.4 868.8,415.4 870.1,415.4 871.4,415.4 872.7,415.4 874.0,415.4 875.3,415.3 876.6,415.4 877.9,415.4 879.2,415.2 880.5,415.4 881.8,415.4 883.1,415.4 884.4,415.2 885.7,415.4 887.0,415.4 888.3,415.1 889.6,415.0 890.9,415.4 892.2,415.1 893.5,415.4 894.8,415.4 896.1,415.3 897.4,415.4 898.7,415.3 900.0,415.2 901.3,415.4 902.6,415.3 903.9,415.4 905.2,415.4 906.5,415.4 907.8,415.4 909.1,415.4 910.4,415.4 911.7,415.4 913.0,415.0 914.3,415.2 915.6,415.2 916.9,415.4 918.2,415.4 919.5,415.4 920.8,415.4 922.1,415.4 923.4,415.1 924.7,415.2 926.0,415.4 927.3,415.4 928.6,415.4 929.9,415.4 931.2,415.4 932.5,415.4 933.8,415.4 935.1,415.4 936.4,415.1 937.7,415.4 939.0,415.4 940.3,415.4 941.6,415.4 942.9,415.3 944.2,415.4 945.5,415.3 946.8,414.9 948.1,415.4 949.4,415.4 950.7,415.4 952.0,414.7 953.3,415.0 954.6,414.8 955.9,415.4 957.2,415.1 958.5,415.4 959.8,415.4 961.1,415.2 962.4,415.0 963.7,415.4 965.0,415.4 966.3,415.4 967.6,415.4 968.9,415.4" fill="none" stroke="#000" stroke-width="1.05" stroke-linejoin="round"/>
<rect x="16.80" y="396.60" width="59.20" height="19.60" fill="#c8c8c8" />
<rect x="351.30" y="396.60" width="67.70" height="19.60" fill="#c8c8c8" />
<rect x="174.00" y="396.60" width="1.00" height="19.60" fill="#ff0000" />
<rect x="209.30" y="396.60" width="0.80" height="19.60" fill="#ff0000" />
<rect x="272.70" y="396.60" width="1.00" height="19.60" fill="#ff0000" />
<rect x="483.00" y="396.60" width="3.50" height="19.60" fill="#ff0000" />
<rect x="487.50" y="396.60" width="1.50" height="19.60" fill="#ff0000" />
<rect x="490.50" y="396.60" width="1.00" height="19.60" fill="#ff0000" />
<rect x="842.70" y="396.60" width="0.80" height="19.60" fill="#ff0000" />
<rect x="952.90" y="396.60" width="2.90" height="19.60" fill="#ff0000" />
<rect x="957.40" y="396.60" width="2.20" height="19.60" fill="#ff0000" />
<rect x="962.80" y="396.60" width="2.10" height="19.60" fill="#ff0000" />
<rect x="961.10" y="403.40" width="0.80" height="12.00" fill="#2a2a2a" />
<rect x="491.40" y="407.40" width="0.80" height="8.00" fill="#2a2a2a" />
<rect x="16.20" y="396.60" width="0.90" height="20.00" fill="#6e6e6e" />
<rect x="16.20" y="415.60" width="59.80" height="1.00" fill="#858585" />
<rect x="351.30" y="415.60" width="67.70" height="1.00" fill="#858585" />
<rect x="16.20" y="416.60" width="953.80" height="0.80" fill="#fcfcfc" />
<rect x="27.75" y="416.40" width="0.90" height="2.20" fill="#666" />
<text x="28.20" y="422.32" font-size="6.59" fill="#2f6a45" text-anchor="middle" textLength="13.60" lengthAdjust="spacingAndGlyphs" stroke="#2f6a45" stroke-width="0.18" >22:02</text>
<rect x="59.55" y="416.40" width="0.90" height="2.20" fill="#666" />
<text x="60.00" y="422.32" font-size="6.59" fill="#2f6a45" text-anchor="middle" textLength="13.60" lengthAdjust="spacingAndGlyphs" stroke="#2f6a45" stroke-width="0.18" >22:04</text>
<rect x="91.35" y="416.40" width="0.90" height="2.20" fill="#666" />
<text x="91.80" y="422.32" font-size="6.59" fill="#2f6a45" text-anchor="middle" textLength="13.60" lengthAdjust="spacingAndGlyphs" stroke="#2f6a45" stroke-width="0.18" >22:06</text>
<rect x="123.15" y="416.40" width="0.90" height="2.20" fill="#666" />
<text x="123.60" y="422.32" font-size="6.59" fill="#2f6a45" text-anchor="middle" textLength="13.60" lengthAdjust="spacingAndGlyphs" stroke="#2f6a45" stroke-width="0.18" >22:08</text>
<rect x="154.95" y="416.40" width="0.90" height="2.20" fill="#666" />
<text x="155.40" y="422.32" font-size="6.59" fill="#2f6a45" text-anchor="middle" textLength="13.60" lengthAdjust="spacingAndGlyphs" stroke="#2f6a45" stroke-width="0.18" >22:10</text>
<rect x="186.75" y="416.40" width="0.90" height="2.20" fill="#666" />
<text x="187.20" y="422.32" font-size="6.59" fill="#2f6a45" text-anchor="middle" textLength="13.60" lengthAdjust="spacingAndGlyphs" stroke="#2f6a45" stroke-width="0.18" >22:12</text>
<rect x="218.55" y="416.40" width="0.90" height="2.20" fill="#666" />
<text x="219.00" y="422.32" font-size="6.59" fill="#2f6a45" text-anchor="middle" textLength="13.60" lengthAdjust="spacingAndGlyphs" stroke="#2f6a45" stroke-width="0.18" >22:14</text>
<rect x="250.35" y="416.40" width="0.90" height="2.20" fill="#666" />
<text x="250.80" y="422.32" font-size="6.59" fill="#2f6a45" text-anchor="middle" textLength="13.60" lengthAdjust="spacingAndGlyphs" stroke="#2f6a45" stroke-width="0.18" >22:16</text>
<rect x="282.15" y="416.40" width="0.90" height="2.20" fill="#666" />
<text x="282.60" y="422.32" font-size="6.59" fill="#2f6a45" text-anchor="middle" textLength="13.60" lengthAdjust="spacingAndGlyphs" stroke="#2f6a45" stroke-width="0.18" >22:18</text>
<rect x="313.95" y="416.40" width="0.90" height="2.20" fill="#666" />
<text x="314.40" y="422.32" font-size="6.59" fill="#2f6a45" text-anchor="middle" textLength="13.60" lengthAdjust="spacingAndGlyphs" stroke="#2f6a45" stroke-width="0.18" >22:20</text>
<rect x="345.75" y="416.40" width="0.90" height="2.20" fill="#666" />
<text x="346.20" y="422.32" font-size="6.59" fill="#2f6a45" text-anchor="middle" textLength="13.60" lengthAdjust="spacingAndGlyphs" stroke="#2f6a45" stroke-width="0.18" >22:22</text>
<rect x="377.55" y="416.40" width="0.90" height="2.20" fill="#666" />
<text x="378.00" y="422.32" font-size="6.59" fill="#2f6a45" text-anchor="middle" textLength="13.60" lengthAdjust="spacingAndGlyphs" stroke="#2f6a45" stroke-width="0.18" >22:24</text>
<rect x="409.35" y="416.40" width="0.90" height="2.20" fill="#666" />
<text x="409.80" y="422.32" font-size="6.59" fill="#2f6a45" text-anchor="middle" textLength="13.60" lengthAdjust="spacingAndGlyphs" stroke="#2f6a45" stroke-width="0.18" >22:26</text>
<rect x="441.15" y="416.40" width="0.90" height="2.20" fill="#666" />
<text x="441.60" y="422.32" font-size="6.59" fill="#2f6a45" text-anchor="middle" textLength="13.60" lengthAdjust="spacingAndGlyphs" stroke="#2f6a45" stroke-width="0.18" >22:28</text>
<rect x="472.95" y="416.40" width="0.90" height="2.20" fill="#666" />
<text x="473.40" y="422.32" font-size="6.59" fill="#2f6a45" text-anchor="middle" textLength="13.60" lengthAdjust="spacingAndGlyphs" stroke="#2f6a45" stroke-width="0.18" >22:30</text>
<rect x="504.75" y="416.40" width="0.90" height="2.20" fill="#666" />
<text x="505.20" y="422.32" font-size="6.59" fill="#2f6a45" text-anchor="middle" textLength="13.60" lengthAdjust="spacingAndGlyphs" stroke="#2f6a45" stroke-width="0.18" >22:32</text>
<rect x="536.55" y="416.40" width="0.90" height="2.20" fill="#666" />
<text x="537.00" y="422.32" font-size="6.59" fill="#2f6a45" text-anchor="middle" textLength="13.60" lengthAdjust="spacingAndGlyphs" stroke="#2f6a45" stroke-width="0.18" >22:34</text>
<rect x="568.35" y="416.40" width="0.90" height="2.20" fill="#666" />
<text x="568.80" y="422.32" font-size="6.59" fill="#2f6a45" text-anchor="middle" textLength="13.60" lengthAdjust="spacingAndGlyphs" stroke="#2f6a45" stroke-width="0.18" >22:36</text>
<rect x="600.15" y="416.40" width="0.90" height="2.20" fill="#666" />
<text x="600.60" y="422.32" font-size="6.59" fill="#2f6a45" text-anchor="middle" textLength="13.60" lengthAdjust="spacingAndGlyphs" stroke="#2f6a45" stroke-width="0.18" >22:38</text>
<rect x="631.95" y="416.40" width="0.90" height="2.20" fill="#666" />
<text x="632.40" y="422.32" font-size="6.59" fill="#2f6a45" text-anchor="middle" textLength="13.60" lengthAdjust="spacingAndGlyphs" stroke="#2f6a45" stroke-width="0.18" >22:40</text>
<rect x="663.75" y="416.40" width="0.90" height="2.20" fill="#666" />
<text x="664.20" y="422.32" font-size="6.59" fill="#2f6a45" text-anchor="middle" textLength="13.60" lengthAdjust="spacingAndGlyphs" stroke="#2f6a45" stroke-width="0.18" >22:42</text>
<rect x="695.55" y="416.40" width="0.90" height="2.20" fill="#666" />
<text x="696.00" y="422.32" font-size="6.59" fill="#2f6a45" text-anchor="middle" textLength="13.60" lengthAdjust="spacingAndGlyphs" stroke="#2f6a45" stroke-width="0.18" >22:44</text>
<rect x="727.35" y="416.40" width="0.90" height="2.20" fill="#666" />
<text x="727.80" y="422.32" font-size="6.59" fill="#2f6a45" text-anchor="middle" textLength="13.60" lengthAdjust="spacingAndGlyphs" stroke="#2f6a45" stroke-width="0.18" >22:46</text>
<rect x="759.15" y="416.40" width="0.90" height="2.20" fill="#666" />
<text x="759.60" y="422.32" font-size="6.59" fill="#2f6a45" text-anchor="middle" textLength="13.60" lengthAdjust="spacingAndGlyphs" stroke="#2f6a45" stroke-width="0.18" >22:48</text>
<rect x="790.95" y="416.40" width="0.90" height="2.20" fill="#666" />
<text x="791.40" y="422.32" font-size="6.59" fill="#2f6a45" text-anchor="middle" textLength="13.60" lengthAdjust="spacingAndGlyphs" stroke="#2f6a45" stroke-width="0.18" >22:50</text>
<rect x="822.75" y="416.40" width="0.90" height="2.20" fill="#666" />
<text x="823.20" y="422.32" font-size="6.59" fill="#2f6a45" text-anchor="middle" textLength="13.60" lengthAdjust="spacingAndGlyphs" stroke="#2f6a45" stroke-width="0.18" >22:52</text>
<rect x="854.55" y="416.40" width="0.90" height="2.20" fill="#666" />
<text x="855.00" y="422.32" font-size="6.59" fill="#2f6a45" text-anchor="middle" textLength="13.60" lengthAdjust="spacingAndGlyphs" stroke="#2f6a45" stroke-width="0.18" >22:54</text>
<rect x="886.35" y="416.40" width="0.90" height="2.20" fill="#666" />
<text x="886.80" y="422.32" font-size="6.59" fill="#2f6a45" text-anchor="middle" textLength="13.60" lengthAdjust="spacingAndGlyphs" stroke="#2f6a45" stroke-width="0.18" >22:56</text>
<rect x="918.15" y="416.40" width="0.90" height="2.20" fill="#666" />
<text x="918.60" y="422.32" font-size="6.59" fill="#2f6a45" text-anchor="middle" textLength="13.60" lengthAdjust="spacingAndGlyphs" stroke="#2f6a45" stroke-width="0.18" >22:58</text>
<rect x="949.95" y="416.40" width="0.90" height="2.20" fill="#666" />
<text x="950.40" y="422.32" font-size="6.59" fill="#2f6a45" text-anchor="middle" textLength="13.60" lengthAdjust="spacingAndGlyphs" stroke="#2f6a45" stroke-width="0.18" >23:00</text>
<path d="M155.00 416.00 L160.00 424.20 L150.00 424.20 Z" fill="#ff0000"/>
<path d="M234.30 416.00 L239.30 424.20 L229.30 424.20 Z" fill="#ff0000"/>
<path d="M496.30 416.00 L501.30 424.20 L491.30 424.20 Z" fill="#ff0000"/>
<path d="M655.70 416.00 L660.70 424.20 L650.70 424.20 Z" fill="#ff0000"/>
<path d="M735.30 416.00 L740.30 424.20 L730.30 424.20 Z" fill="#ff0000"/>
<path d="M770.30 416.00 L776.80 426.60 L763.80 426.60 Z" fill="#ff0000"/>
<path d="M815.00 416.00 L820.00 424.20 L810.00 424.20 Z" fill="#ff0000"/>
<path d="M894.70 416.00 L899.70 424.20 L889.70 424.20 Z" fill="#ff0000"/>
<text x="16.50" y="432.84" font-size="6.22" fill="#505050" text-anchor="start" textLength="121.56" lengthAdjust="spacingAndGlyphs" stroke="#505050" stroke-width="0.18" >www.naeu.playblackdesert.com (137.135.58.210)</text>
<text x="493.00" y="432.86" font-size="6.27" fill="#303030" text-anchor="middle" textLength="40.00" lengthAdjust="spacingAndGlyphs" stroke="#303030" stroke-width="0.18" >Default Settings</text>
<text x="962.00" y="432.84" font-size="6.22" fill="#505050" text-anchor="end" textLength="65.30" lengthAdjust="spacingAndGlyphs" stroke="#505050" stroke-width="0.18" >60 minutes (22:01 - 23:01)</text>
<circle cx="966.8" cy="430.30" r="2.6" fill="#e0e0e0"/>
<path d="M965.5 429.60 L966.8 430.90 L968.1 429.60" fill="none" stroke="#888" stroke-width="0.5"/>
<text x="14.50" y="437.86" font-size="6.27" fill="#505050" text-anchor="end" textLength="6.23" lengthAdjust="spacingAndGlyphs" stroke="#505050" stroke-width="0.18" >10</text>
<text x="0" y="0" font-size="6.4" fill="#606060" transform="translate(14.7,453.00) rotate(-90)" textLength="12.2" lengthAdjust="spacingAndGlyphs">oms</text>
<text x="970.70" y="438.68" font-size="6.05" fill="#d04a62" text-anchor="start" textLength="6.10" lengthAdjust="spacingAndGlyphs" stroke="#d04a62" stroke-width="0.18" >30</text>
<text x="0" y="0" font-size="6.2" fill="#d04a62" transform="translate(971.1,442.10) rotate(90)" textLength="12" lengthAdjust="spacingAndGlyphs">PL %</text>
<rect x="16.80" y="434.10" width="953.20" height="19.60" fill="#ddf0d5" />
<rect x="16.80" y="434.10" width="134.90" height="19.60" fill="#c8c8c8" />
<rect x="352.00" y="434.10" width="66.70" height="19.60" fill="#c8c8c8" />
<rect x="151.70" y="434.10" width="200.30" height="19.60" fill="#ff0000" />
<rect x="418.70" y="434.10" width="551.30" height="19.60" fill="#ff0000" />
<rect x="16.20" y="434.10" width="0.90" height="20.00" fill="#6e6e6e" />
<rect x="16.20" y="453.10" width="135.50" height="1.00" fill="#858585" />
<rect x="352.00" y="453.10" width="66.70" height="1.00" fill="#858585" />
<rect x="16.20" y="454.10" width="953.80" height="0.80" fill="#fcfcfc" />
<rect x="27.75" y="453.90" width="0.90" height="2.20" fill="#666" />
<text x="28.20" y="459.82" font-size="6.59" fill="#2f6a45" text-anchor="middle" textLength="13.60" lengthAdjust="spacingAndGlyphs" stroke="#2f6a45" stroke-width="0.18" >22:02</text>
<rect x="59.55" y="453.90" width="0.90" height="2.20" fill="#666" />
<text x="60.00" y="459.82" font-size="6.59" fill="#2f6a45" text-anchor="middle" textLength="13.60" lengthAdjust="spacingAndGlyphs" stroke="#2f6a45" stroke-width="0.18" >22:04</text>
<rect x="91.35" y="453.90" width="0.90" height="2.20" fill="#666" />
<text x="91.80" y="459.82" font-size="6.59" fill="#2f6a45" text-anchor="middle" textLength="13.60" lengthAdjust="spacingAndGlyphs" stroke="#2f6a45" stroke-width="0.18" >22:06</text>
<rect x="123.15" y="453.90" width="0.90" height="2.20" fill="#666" />
<text x="123.60" y="459.82" font-size="6.59" fill="#2f6a45" text-anchor="middle" textLength="13.60" lengthAdjust="spacingAndGlyphs" stroke="#2f6a45" stroke-width="0.18" >22:08</text>
<rect x="154.95" y="453.90" width="0.90" height="2.20" fill="#666" />
<text x="155.40" y="459.82" font-size="6.59" fill="#2f6a45" text-anchor="middle" textLength="13.60" lengthAdjust="spacingAndGlyphs" stroke="#2f6a45" stroke-width="0.18" >22:10</text>
<rect x="186.75" y="453.90" width="0.90" height="2.20" fill="#666" />
<text x="187.20" y="459.82" font-size="6.59" fill="#2f6a45" text-anchor="middle" textLength="13.60" lengthAdjust="spacingAndGlyphs" stroke="#2f6a45" stroke-width="0.18" >22:12</text>
<rect x="218.55" y="453.90" width="0.90" height="2.20" fill="#666" />
<text x="219.00" y="459.82" font-size="6.59" fill="#2f6a45" text-anchor="middle" textLength="13.60" lengthAdjust="spacingAndGlyphs" stroke="#2f6a45" stroke-width="0.18" >22:14</text>
<rect x="250.35" y="453.90" width="0.90" height="2.20" fill="#666" />
<text x="250.80" y="459.82" font-size="6.59" fill="#2f6a45" text-anchor="middle" textLength="13.60" lengthAdjust="spacingAndGlyphs" stroke="#2f6a45" stroke-width="0.18" >22:16</text>
<rect x="282.15" y="453.90" width="0.90" height="2.20" fill="#666" />
<text x="282.60" y="459.82" font-size="6.59" fill="#2f6a45" text-anchor="middle" textLength="13.60" lengthAdjust="spacingAndGlyphs" stroke="#2f6a45" stroke-width="0.18" >22:18</text>
<rect x="313.95" y="453.90" width="0.90" height="2.20" fill="#666" />
<text x="314.40" y="459.82" font-size="6.59" fill="#2f6a45" text-anchor="middle" textLength="13.60" lengthAdjust="spacingAndGlyphs" stroke="#2f6a45" stroke-width="0.18" >22:20</text>
<rect x="345.75" y="453.90" width="0.90" height="2.20" fill="#666" />
<text x="346.20" y="459.82" font-size="6.59" fill="#2f6a45" text-anchor="middle" textLength="13.60" lengthAdjust="spacingAndGlyphs" stroke="#2f6a45" stroke-width="0.18" >22:22</text>
<rect x="377.55" y="453.90" width="0.90" height="2.20" fill="#666" />
<text x="378.00" y="459.82" font-size="6.59" fill="#2f6a45" text-anchor="middle" textLength="13.60" lengthAdjust="spacingAndGlyphs" stroke="#2f6a45" stroke-width="0.18" >22:24</text>
<rect x="409.35" y="453.90" width="0.90" height="2.20" fill="#666" />
<text x="409.80" y="459.82" font-size="6.59" fill="#2f6a45" text-anchor="middle" textLength="13.60" lengthAdjust="spacingAndGlyphs" stroke="#2f6a45" stroke-width="0.18" >22:26</text>
<rect x="441.15" y="453.90" width="0.90" height="2.20" fill="#666" />
<text x="441.60" y="459.82" font-size="6.59" fill="#2f6a45" text-anchor="middle" textLength="13.60" lengthAdjust="spacingAndGlyphs" stroke="#2f6a45" stroke-width="0.18" >22:28</text>
<rect x="472.95" y="453.90" width="0.90" height="2.20" fill="#666" />
<text x="473.40" y="459.82" font-size="6.59" fill="#2f6a45" text-anchor="middle" textLength="13.60" lengthAdjust="spacingAndGlyphs" stroke="#2f6a45" stroke-width="0.18" >22:30</text>
<rect x="504.75" y="453.90" width="0.90" height="2.20" fill="#666" />
<text x="505.20" y="459.82" font-size="6.59" fill="#2f6a45" text-anchor="middle" textLength="13.60" lengthAdjust="spacingAndGlyphs" stroke="#2f6a45" stroke-width="0.18" >22:32</text>
<rect x="536.55" y="453.90" width="0.90" height="2.20" fill="#666" />
<text x="537.00" y="459.82" font-size="6.59" fill="#2f6a45" text-anchor="middle" textLength="13.60" lengthAdjust="spacingAndGlyphs" stroke="#2f6a45" stroke-width="0.18" >22:34</text>
<rect x="568.35" y="453.90" width="0.90" height="2.20" fill="#666" />
<text x="568.80" y="459.82" font-size="6.59" fill="#2f6a45" text-anchor="middle" textLength="13.60" lengthAdjust="spacingAndGlyphs" stroke="#2f6a45" stroke-width="0.18" >22:36</text>
<rect x="600.15" y="453.90" width="0.90" height="2.20" fill="#666" />
<text x="600.60" y="459.82" font-size="6.59" fill="#2f6a45" text-anchor="middle" textLength="13.60" lengthAdjust="spacingAndGlyphs" stroke="#2f6a45" stroke-width="0.18" >22:38</text>
<rect x="631.95" y="453.90" width="0.90" height="2.20" fill="#666" />
<text x="632.40" y="459.82" font-size="6.59" fill="#2f6a45" text-anchor="middle" textLength="13.60" lengthAdjust="spacingAndGlyphs" stroke="#2f6a45" stroke-width="0.18" >22:40</text>
<rect x="663.75" y="453.90" width="0.90" height="2.20" fill="#666" />
<text x="664.20" y="459.82" font-size="6.59" fill="#2f6a45" text-anchor="middle" textLength="13.60" lengthAdjust="spacingAndGlyphs" stroke="#2f6a45" stroke-width="0.18" >22:42</text>
<rect x="695.55" y="453.90" width="0.90" height="2.20" fill="#666" />
<text x="696.00" y="459.82" font-size="6.59" fill="#2f6a45" text-anchor="middle" textLength="13.60" lengthAdjust="spacingAndGlyphs" stroke="#2f6a45" stroke-width="0.18" >22:44</text>
<rect x="727.35" y="453.90" width="0.90" height="2.20" fill="#666" />
<text x="727.80" y="459.82" font-size="6.59" fill="#2f6a45" text-anchor="middle" textLength="13.60" lengthAdjust="spacingAndGlyphs" stroke="#2f6a45" stroke-width="0.18" >22:46</text>
<rect x="759.15" y="453.90" width="0.90" height="2.20" fill="#666" />
<text x="759.60" y="459.82" font-size="6.59" fill="#2f6a45" text-anchor="middle" textLength="13.60" lengthAdjust="spacingAndGlyphs" stroke="#2f6a45" stroke-width="0.18" >22:48</text>
<rect x="790.95" y="453.90" width="0.90" height="2.20" fill="#666" />
<text x="791.40" y="459.82" font-size="6.59" fill="#2f6a45" text-anchor="middle" textLength="13.60" lengthAdjust="spacingAndGlyphs" stroke="#2f6a45" stroke-width="0.18" >22:50</text>
<rect x="822.75" y="453.90" width="0.90" height="2.20" fill="#666" />
<text x="823.20" y="459.82" font-size="6.59" fill="#2f6a45" text-anchor="middle" textLength="13.60" lengthAdjust="spacingAndGlyphs" stroke="#2f6a45" stroke-width="0.18" >22:52</text>
<rect x="854.55" y="453.90" width="0.90" height="2.20" fill="#666" />
<text x="855.00" y="459.82" font-size="6.59" fill="#2f6a45" text-anchor="middle" textLength="13.60" lengthAdjust="spacingAndGlyphs" stroke="#2f6a45" stroke-width="0.18" >22:54</text>
<rect x="886.35" y="453.90" width="0.90" height="2.20" fill="#666" />
<text x="886.80" y="459.82" font-size="6.59" fill="#2f6a45" text-anchor="middle" textLength="13.60" lengthAdjust="spacingAndGlyphs" stroke="#2f6a45" stroke-width="0.18" >22:56</text>
<rect x="918.15" y="453.90" width="0.90" height="2.20" fill="#666" />
<text x="918.60" y="459.82" font-size="6.59" fill="#2f6a45" text-anchor="middle" textLength="13.60" lengthAdjust="spacingAndGlyphs" stroke="#2f6a45" stroke-width="0.18" >22:58</text>
<rect x="949.95" y="453.90" width="0.90" height="2.20" fill="#666" />
<text x="950.40" y="459.82" font-size="6.59" fill="#2f6a45" text-anchor="middle" textLength="13.60" lengthAdjust="spacingAndGlyphs" stroke="#2f6a45" stroke-width="0.18" >23:00</text>
<text x="16.50" y="470.34" font-size="6.22" fill="#505050" text-anchor="start" textLength="109.24" lengthAdjust="spacingAndGlyphs" stroke="#505050" stroke-width="0.18" >www.google.de (2a00:1450:4001:810::2003)</text>
<text x="493.00" y="470.36" font-size="6.27" fill="#303030" text-anchor="middle" textLength="40.00" lengthAdjust="spacingAndGlyphs" stroke="#303030" stroke-width="0.18" >Default Settings</text>
<text x="962.00" y="470.34" font-size="6.22" fill="#505050" text-anchor="end" textLength="65.30" lengthAdjust="spacingAndGlyphs" stroke="#505050" stroke-width="0.18" >60 minutes (22:01 - 23:01)</text>
<circle cx="966.8" cy="467.80" r="2.6" fill="#e0e0e0"/>
<path d="M965.5 467.10 L966.8 468.40 L968.1 467.10" fill="none" stroke="#888" stroke-width="0.5"/>
<text x="14.50" y="475.36" font-size="6.27" fill="#505050" text-anchor="end" textLength="9.34" lengthAdjust="spacingAndGlyphs" stroke="#505050" stroke-width="0.18" >580</text>
<text x="0" y="0" font-size="6.4" fill="#606060" transform="translate(14.7,490.50) rotate(-90)" textLength="12.2" lengthAdjust="spacingAndGlyphs">oms</text>
<text x="970.70" y="476.18" font-size="6.05" fill="#d04a62" text-anchor="start" textLength="6.10" lengthAdjust="spacingAndGlyphs" stroke="#d04a62" stroke-width="0.18" >30</text>
<text x="0" y="0" font-size="6.2" fill="#d04a62" transform="translate(971.1,479.60) rotate(90)" textLength="12" lengthAdjust="spacingAndGlyphs">PL %</text>
<rect x="16.80" y="471.60" width="953.20" height="19.60" fill="#ddf0d5" />
<rect x="16.80" y="471.60" width="953.20" height="16.22" fill="#fde8c8" />
<rect x="16.80" y="471.60" width="953.20" height="12.84" fill="#ffd3d3" />
<polyline points="74.0,489.6 75.3,489.9 76.6,490.1 77.9,490.4 79.2,490.4 80.5,489.6 81.8,489.8 83.1,489.7 84.4,489.7 85.7,490.4 87.0,490.3 88.3,490.1 89.6,489.6 90.9,489.7 92.2,489.3 93.5,489.5 94.8,490.1 96.1,490.4 97.4,490.4 98.7,489.0 100.0,490.2 101.3,490.3 102.6,490.4 103.9,490.2 105.2,490.4 106.5,490.1 107.8,490.4 109.1,490.2 110.4,490.4 111.7,490.3 113.0,490.1 114.3,490.2 115.6,490.4 116.9,489.1 118.2,490.4 119.5,490.4 120.8,490.4 122.1,490.0 123.4,489.6 124.7,490.1 126.0,489.6 127.3,489.1 128.6,490.1 129.9,489.7 131.2,490.0 132.5,490.3 133.8,489.9 135.1,490.2 136.4,489.9 137.7,490.4 139.0,490.1 140.3,490.4 141.6,490.4 142.9,490.4 144.2,489.8 145.5,490.4 146.8,490.3 148.1,490.0 149.4,490.4 150.7,490.4 152.0,490.0 153.3,490.4 154.6,489.8 155.9,489.8 157.2,490.3 158.5,489.3 159.8,490.4 161.1,489.9 162.4,490.0 163.7,490.4 165.0,490.0 166.3,490.2 167.6,489.8 168.9,489.5 170.2,490.0 171.5,490.4 172.8,490.3 174.1,490.1 175.4,490.3 176.7,490.4 178.0,490.3 179.3,489.6 180.6,490.2 181.9,489.8 183.2,490.2 184.5,490.3 185.8,489.6 187.1,490.4 188.4,490.4 189.7,490.4 191.0,490.0 192.3,490.3 193.6,490.4 194.9,490.4 196.2,490.3 197.5,489.4 198.8,489.8 200.1,490.4 201.4,490.2 202.7,490.4 204.0,490.1 205.3,489.8 206.6,489.8 207.9,490.2 209.2,490.3 210.5,489.8 211.8,489.9 213.1,490.0 214.4,489.9 215.7,489.8 217.0,489.7 218.3,489.9 219.6,490.0 220.9,490.4 222.2,489.9 223.5,490.4 224.8,489.9 226.1,490.4 227.4,490.0 228.7,489.8 230.0,489.8 231.3,489.9 232.6,489.4 233.9,490.4 235.2,489.9 236.5,490.4 237.8,490.1 239.1,490.0 240.4,490.3 241.7,490.4 243.0,490.4 244.3,489.8 245.6,490.4 246.9,490.0 248.2,490.3 249.5,489.5 250.8,490.4 252.1,490.4 253.4,490.4 254.7,489.9 256.0,490.0 257.3,489.6 258.6,490.0 259.9,489.8 261.2,489.6 262.5,490.4 263.8,489.5 265.1,490.0 266.4,490.3 267.7,490.0 269.0,489.5 270.3,490.4 271.6,490.2 272.9,489.8 274.2,490.3 275.5,490.2 276.8,489.8 278.1,490.4 279.4,490.2 280.7,489.6 282.0,490.2 283.3,490.3 284.6,490.0 285.9,490.0 287.2,490.3 288.5,489.6 289.8,490.3 291.1,490.4 292.4,489.8 293.7,489.4 295.0,489.9 296.3,489.7 297.6,490.4 298.9,489.8 300.2,490.4 301.5,490.0 302.8,489.6 304.1,490.4 305.4,489.9 306.7,490.0 308.0,490.3 309.3,489.6 310.6,490.1 311.9,490.2 313.2,489.6 314.5,490.4 315.8,490.4 317.1,490.4 318.4,490.4 319.7,489.6 321.0,490.3 322.3,489.7 323.6,490.2 324.9,490.3 326.2,490.2 327.5,490.4 328.8,489.5 330.1,489.8 331.4,489.7 332.7,489.6 334.0,490.1 335.3,490.4 336.6,490.2 337.9,490.1 339.2,490.4 340.5,489.9 341.8,490.4 343.1,490.1 344.4,490.1 345.7,489.5 347.0,490.4 348.3,490.1 349.6,489.5 350.9,489.9" fill="none" stroke="#000" stroke-width="1.05" stroke-linejoin="round"/>
<polyline points="418.0,490.4 419.3,490.0 420.6,490.1 421.9,490.1 423.2,490.4 424.5,489.9 425.8,489.9 427.1,490.4 428.4,490.2 429.7,490.4 431.0,490.4 432.3,490.4 433.6,490.4 434.9,490.4 436.2,490.3 437.5,490.0 438.8,490.3 440.1,489.7 441.4,489.4 442.7,490.0 444.0,489.8 445.3,490.3 446.6,490.3 447.9,490.1 449.2,490.2 450.5,490.4 451.8,490.4 453.1,490.2 454.4,490.3 455.7,490.3 457.0,490.4 458.3,490.0 459.6,489.4 460.9,490.0 462.2,490.4 463.5,490.2 464.8,490.2 466.1,489.1 467.4,489.8 468.7,489.9 470.0,490.4 471.3,490.0 472.6,490.1 473.9,489.8 475.2,490.1 476.5,489.9 477.8,489.6 479.1,489.8 480.4,490.4 481.7,490.4 483.0,489.9 484.3,490.1 485.6,490.1 486.9,490.4 488.2,490.4 489.5,489.6 490.8,490.1 492.1,490.1 493.4,489.1 494.7,490.1 496.0,489.8 497.3,489.8 498.6,490.3 499.9,490.2 501.2,490.3 502.5,490.4 503.8,490.0 505.1,489.5 506.4,490.1 507.7,490.1 509.0,490.3 510.3,489.9 511.6,490.1 512.9,490.3 514.2,490.0 515.5,490.4 516.8,490.1 518.1,490.2 519.4,489.4 520.7,490.0 522.0,490.4 523.3,489.9 524.6,490.2 525.9,489.6 527.2,490.0 528.5,490.1 529.8,490.1 531.1,490.2 532.4,490.2 533.7,490.3 535.0,490.1 536.3,490.2 537.6,490.2 538.9,490.3 540.2,490.4 541.5,489.8 542.8,489.8 544.1,490.4 545.4,490.1 546.7,490.4 548.0,490.4 549.3,489.8 550.6,489.9 551.9,489.4 553.2,490.3 554.5,489.8 555.8,490.0 557.1,490.3 558.4,490.2 559.7,490.2 561.0,490.4 562.3,490.4 563.6,490.4 564.9,489.9 566.2,489.9 567.5,489.8 568.8,489.7 570.1,490.4 571.4,489.9 572.7,489.4 574.0,490.4 575.3,490.3 576.6,490.1 577.9,490.2 579.2,490.4 580.5,489.9 581.8,490.3 583.1,490.4 584.4,490.4 585.7,490.4 587.0,490.4 588.3,490.0 589.6,490.3 590.9,490.4 592.2,490.3 593.5,490.1 594.8,490.0 596.1,488.3 597.4,490.3 598.7,490.4 600.0,490.4 601.3,490.1 602.6,490.4 603.9,490.3 605.2,489.6 606.5,490.3 607.8,490.4 609.1,490.4 610.4,489.5 611.7,490.2 613.0,489.6 614.3,489.2 615.6,490.4 616.9,490.2 618.2,490.2 619.5,489.7 620.8,490.4 622.1,490.4 623.4,490.0 624.7,490.1 626.0,490.3 627.3,490.4 628.6,489.9 629.9,490.2 631.2,490.1 632.5,490.2 633.8,489.8 635.1,490.4 636.4,490.3 637.7,490.0 639.0,490.2 640.3,490.1 641.6,489.4 642.9,490.3 644.2,490.2 645.5,490.0 646.8,490.3 648.1,490.1 649.4,490.2 650.7,490.4 652.0,489.5 653.3,490.0 654.6,489.9 655.9,490.2 657.2,490.4 658.5,489.9 659.8,489.8 661.1,489.8 662.4,489.7 663.7,490.4 665.0,490.2 666.3,490.4 667.6,489.9 668.9,490.3 670.2,490.4 671.5,489.9 672.8,490.4 674.1,490.4 675.4,490.0 676.7,489.6 678.0,489.9 679.3,490.3 680.6,489.9 681.9,490.2 683.2,489.7 684.5,488.9 685.8,490.4 687.1,489.0 688.4,490.4 689.7,490.1 691.0,490.2 692.3,489.6 693.6,489.7 694.9,490.2 696.2,490.3 697.5,490.4 698.8,490.1 700.1,490.4 701.4,489.9 702.7,489.7 704.0,490.2 705.3,490.4 706.6,490.4 707.9,490.4 709.2,490.4 710.5,489.8 711.8,490.4 713.1,490.4 714.4,489.3 715.7,489.7 717.0,490.4 718.3,490.0 719.6,490.4 720.9,490.2 722.2,490.4 723.5,489.7 724.8,488.5 726.1,490.4 727.4,489.1 728.7,490.2 730.0,490.4 731.3,490.0 732.6,489.9 733.9,490.1 735.2,490.1 736.5,488.6 737.8,490.0 739.1,489.1 740.4,490.2 741.7,490.4 743.0,490.1 744.3,490.3 745.6,490.4 746.9,490.1 748.2,489.8 749.5,490.0 750.8,490.2 752.1,490.4 753.4,490.3 754.7,490.3 756.0,490.0 757.3,490.1 758.6,490.1 759.9,489.9 761.2,490.4 762.5,490.1 763.8,489.5 765.1,490.1 766.4,490.4 767.7,490.4 769.0,489.8 770.3,490.2 771.6,490.4 772.9,490.4 774.2,490.4 775.5,489.8 776.8,490.4 778.1,490.3 779.4,490.2 780.7,489.9 782.0,489.9 783.3,490.0 784.6,489.7 785.9,490.4 787.2,490.4 788.5,490.4 789.8,489.9 791.1,489.4 792.4,489.8 793.7,490.0 795.0,490.4 796.3,490.3 797.6,490.1 798.9,489.8 800.2,490.0 801.5,489.3 802.8,489.5 804.1,490.4 805.4,490.4 806.7,490.0 808.0,490.1 809.3,490.1 810.6,489.7 811.9,489.6 813.2,490.1 814.5,490.1 815.8,490.4 817.1,490.4 818.4,489.8 819.7,489.9 821.0,490.3 822.3,490.2 823.6,490.1 824.9,490.4 826.2,490.0 827.5,490.4 828.8,490.0 830.1,490.3 831.4,490.4 832.7,490.4 834.0,490.2 835.3,489.7 836.6,490.2 837.9,489.5 839.2,489.6 840.5,489.8 841.8,490.4 843.1,490.4 844.4,490.2 845.7,490.4 847.0,489.9 848.3,490.4 849.6,489.8 850.9,490.4 852.2,490.4 853.5,490.2 854.8,490.4 856.1,490.1 857.4,489.7 858.7,489.8 860.0,490.4 861.3,490.2 862.6,490.3 863.9,490.4 865.2,490.3 866.5,489.8 867.8,490.4 869.1,490.4 870.4,488.6 871.7,489.0 873.0,490.3 874.3,489.3 875.6,489.5 876.9,490.2 878.2,490.3 879.5,490.2 880.8,490.4 882.1,490.1 883.4,490.1 884.7,490.4 886.0,489.2 887.3,489.2 888.6,490.4 889.9,490.2 891.2,489.8 892.5,489.9 893.8,490.4 895.1,489.9 896.4,490.2 897.7,489.6 899.0,490.4 900.3,490.3 901.6,490.0 902.9,489.9 904.2,489.8 905.5,490.4 906.8,490.1 908.1,490.4 909.4,489.9 910.7,490.4 912.0,490.2 913.3,490.4 914.6,490.4 915.9,490.1 917.2,489.6 918.5,489.9 919.8,490.4 921.1,490.4 922.4,490.0 923.7,490.1 925.0,490.4 926.3,490.4 927.6,490.4 928.9,489.8 930.2,490.3 931.5,490.4 932.8,490.4 934.1,490.3 935.4,490.0 936.7,490.1 938.0,490.4 939.3,490.0 940.6,490.4 941.9,489.9 943.2,489.7 944.5,489.8 945.8,490.4 947.1,489.5 948.4,490.1 949.7,490.1 951.0,490.0 952.3,490.4 953.6,489.6 954.9,490.4 956.2,490.0 957.5,489.6 958.8,490.3 960.1,490.1 961.4,490.3 962.7,490.2 964.0,490.3 965.3,490.0 966.6,490.4 967.9,490.4 969.2,490.0" fill="none" stroke="#000" stroke-width="1.05" stroke-linejoin="round"/>
<rect x="16.80" y="471.60" width="57.20" height="19.60" fill="#c8c8c8" />
<rect x="352.00" y="471.60" width="66.00" height="19.60" fill="#c8c8c8" />
<rect x="292.70" y="471.60" width="1.00" height="19.60" fill="#ff0000" />
<rect x="314.00" y="471.60" width="0.80" height="19.60" fill="#ff0000" />
<rect x="483.40" y="471.60" width="3.20" height="19.60" fill="#ff0000" />
<rect x="488.10" y="471.60" width="0.80" height="19.60" fill="#ff0000" />
<rect x="492.80" y="471.60" width="0.90" height="19.60" fill="#ff0000" />
<rect x="653.70" y="471.60" width="0.80" height="19.60" fill="#ff0000" />
<rect x="953.30" y="471.60" width="6.00" height="19.60" fill="#ff0000" />
<rect x="963.70" y="471.60" width="0.80" height="19.60" fill="#ff0000" />
<rect x="487.00" y="478.40" width="0.80" height="12.00" fill="#2a2a2a" />
<rect x="489.20" y="485.40" width="0.80" height="5.00" fill="#2a2a2a" />
<rect x="490.80" y="481.40" width="0.80" height="9.00" fill="#2a2a2a" />
<rect x="494.20" y="479.40" width="0.80" height="11.00" fill="#2a2a2a" />
<rect x="16.20" y="471.60" width="0.90" height="20.00" fill="#6e6e6e" />
<rect x="16.20" y="490.60" width="57.80" height="1.00" fill="#858585" />
<rect x="352.00" y="490.60" width="66.00" height="1.00" fill="#858585" />
<rect x="16.20" y="491.60" width="953.80" height="0.80" fill="#fcfcfc" />
<rect x="27.75" y="491.40" width="0.90" height="2.20" fill="#666" />
<text x="28.20" y="497.32" font-size="6.59" fill="#2f6a45" text-anchor="middle" textLength="13.60" lengthAdjust="spacingAndGlyphs" stroke="#2f6a45" stroke-width="0.18" >22:02</text>
<rect x="59.55" y="491.40" width="0.90" height="2.20" fill="#666" />
<text x="60.00" y="497.32" font-size="6.59" fill="#2f6a45" text-anchor="middle" textLength="13.60" lengthAdjust="spacingAndGlyphs" stroke="#2f6a45" stroke-width="0.18" >22:04</text>
<rect x="91.35" y="491.40" width="0.90" height="2.20" fill="#666" />
<text x="91.80" y="497.32" font-size="6.59" fill="#2f6a45" text-anchor="middle" textLength="13.60" lengthAdjust="spacingAndGlyphs" stroke="#2f6a45" stroke-width="0.18" >22:06</text>
<rect x="123.15" y="491.40" width="0.90" height="2.20" fill="#666" />
<text x="123.60" y="497.32" font-size="6.59" fill="#2f6a45" text-anchor="middle" textLength="13.60" lengthAdjust="spacingAndGlyphs" stroke="#2f6a45" stroke-width="0.18" >22:08</text>
<rect x="154.95" y="491.40" width="0.90" height="2.20" fill="#666" />
<text x="155.40" y="497.32" font-size="6.59" fill="#2f6a45" text-anchor="middle" textLength="13.60" lengthAdjust="spacingAndGlyphs" stroke="#2f6a45" stroke-width="0.18" >22:10</text>
<rect x="186.75" y="491.40" width="0.90" height="2.20" fill="#666" />
<text x="187.20" y="497.32" font-size="6.59" fill="#2f6a45" text-anchor="middle" textLength="13.60" lengthAdjust="spacingAndGlyphs" stroke="#2f6a45" stroke-width="0.18" >22:12</text>
<rect x="218.55" y="491.40" width="0.90" height="2.20" fill="#666" />
<text x="219.00" y="497.32" font-size="6.59" fill="#2f6a45" text-anchor="middle" textLength="13.60" lengthAdjust="spacingAndGlyphs" stroke="#2f6a45" stroke-width="0.18" >22:14</text>
<rect x="250.35" y="491.40" width="0.90" height="2.20" fill="#666" />
<text x="250.80" y="497.32" font-size="6.59" fill="#2f6a45" text-anchor="middle" textLength="13.60" lengthAdjust="spacingAndGlyphs" stroke="#2f6a45" stroke-width="0.18" >22:16</text>
<rect x="282.15" y="491.40" width="0.90" height="2.20" fill="#666" />
<text x="282.60" y="497.32" font-size="6.59" fill="#2f6a45" text-anchor="middle" textLength="13.60" lengthAdjust="spacingAndGlyphs" stroke="#2f6a45" stroke-width="0.18" >22:18</text>
<rect x="313.95" y="491.40" width="0.90" height="2.20" fill="#666" />
<text x="314.40" y="497.32" font-size="6.59" fill="#2f6a45" text-anchor="middle" textLength="13.60" lengthAdjust="spacingAndGlyphs" stroke="#2f6a45" stroke-width="0.18" >22:20</text>
<rect x="345.75" y="491.40" width="0.90" height="2.20" fill="#666" />
<text x="346.20" y="497.32" font-size="6.59" fill="#2f6a45" text-anchor="middle" textLength="13.60" lengthAdjust="spacingAndGlyphs" stroke="#2f6a45" stroke-width="0.18" >22:22</text>
<rect x="377.55" y="491.40" width="0.90" height="2.20" fill="#666" />
<text x="378.00" y="497.32" font-size="6.59" fill="#2f6a45" text-anchor="middle" textLength="13.60" lengthAdjust="spacingAndGlyphs" stroke="#2f6a45" stroke-width="0.18" >22:24</text>
<rect x="409.35" y="491.40" width="0.90" height="2.20" fill="#666" />
<text x="409.80" y="497.32" font-size="6.59" fill="#2f6a45" text-anchor="middle" textLength="13.60" lengthAdjust="spacingAndGlyphs" stroke="#2f6a45" stroke-width="0.18" >22:26</text>
<rect x="441.15" y="491.40" width="0.90" height="2.20" fill="#666" />
<text x="441.60" y="497.32" font-size="6.59" fill="#2f6a45" text-anchor="middle" textLength="13.60" lengthAdjust="spacingAndGlyphs" stroke="#2f6a45" stroke-width="0.18" >22:28</text>
<rect x="472.95" y="491.40" width="0.90" height="2.20" fill="#666" />
<text x="473.40" y="497.32" font-size="6.59" fill="#2f6a45" text-anchor="middle" textLength="13.60" lengthAdjust="spacingAndGlyphs" stroke="#2f6a45" stroke-width="0.18" >22:30</text>
<rect x="504.75" y="491.40" width="0.90" height="2.20" fill="#666" />
<text x="505.20" y="497.32" font-size="6.59" fill="#2f6a45" text-anchor="middle" textLength="13.60" lengthAdjust="spacingAndGlyphs" stroke="#2f6a45" stroke-width="0.18" >22:32</text>
<rect x="536.55" y="491.40" width="0.90" height="2.20" fill="#666" />
<text x="537.00" y="497.32" font-size="6.59" fill="#2f6a45" text-anchor="middle" textLength="13.60" lengthAdjust="spacingAndGlyphs" stroke="#2f6a45" stroke-width="0.18" >22:34</text>
<rect x="568.35" y="491.40" width="0.90" height="2.20" fill="#666" />
<text x="568.80" y="497.32" font-size="6.59" fill="#2f6a45" text-anchor="middle" textLength="13.60" lengthAdjust="spacingAndGlyphs" stroke="#2f6a45" stroke-width="0.18" >22:36</text>
<rect x="600.15" y="491.40" width="0.90" height="2.20" fill="#666" />
<text x="600.60" y="497.32" font-size="6.59" fill="#2f6a45" text-anchor="middle" textLength="13.60" lengthAdjust="spacingAndGlyphs" stroke="#2f6a45" stroke-width="0.18" >22:38</text>
<rect x="631.95" y="491.40" width="0.90" height="2.20" fill="#666" />
<text x="632.40" y="497.32" font-size="6.59" fill="#2f6a45" text-anchor="middle" textLength="13.60" lengthAdjust="spacingAndGlyphs" stroke="#2f6a45" stroke-width="0.18" >22:40</text>
<rect x="663.75" y="491.40" width="0.90" height="2.20" fill="#666" />
<text x="664.20" y="497.32" font-size="6.59" fill="#2f6a45" text-anchor="middle" textLength="13.60" lengthAdjust="spacingAndGlyphs" stroke="#2f6a45" stroke-width="0.18" >22:42</text>
<rect x="695.55" y="491.40" width="0.90" height="2.20" fill="#666" />
<text x="696.00" y="497.32" font-size="6.59" fill="#2f6a45" text-anchor="middle" textLength="13.60" lengthAdjust="spacingAndGlyphs" stroke="#2f6a45" stroke-width="0.18" >22:44</text>
<rect x="727.35" y="491.40" width="0.90" height="2.20" fill="#666" />
<text x="727.80" y="497.32" font-size="6.59" fill="#2f6a45" text-anchor="middle" textLength="13.60" lengthAdjust="spacingAndGlyphs" stroke="#2f6a45" stroke-width="0.18" >22:46</text>
<rect x="759.15" y="491.40" width="0.90" height="2.20" fill="#666" />
<text x="759.60" y="497.32" font-size="6.59" fill="#2f6a45" text-anchor="middle" textLength="13.60" lengthAdjust="spacingAndGlyphs" stroke="#2f6a45" stroke-width="0.18" >22:48</text>
<rect x="790.95" y="491.40" width="0.90" height="2.20" fill="#666" />
<text x="791.40" y="497.32" font-size="6.59" fill="#2f6a45" text-anchor="middle" textLength="13.60" lengthAdjust="spacingAndGlyphs" stroke="#2f6a45" stroke-width="0.18" >22:50</text>
<rect x="822.75" y="491.40" width="0.90" height="2.20" fill="#666" />
<text x="823.20" y="497.32" font-size="6.59" fill="#2f6a45" text-anchor="middle" textLength="13.60" lengthAdjust="spacingAndGlyphs" stroke="#2f6a45" stroke-width="0.18" >22:52</text>
<rect x="854.55" y="491.40" width="0.90" height="2.20" fill="#666" />
<text x="855.00" y="497.32" font-size="6.59" fill="#2f6a45" text-anchor="middle" textLength="13.60" lengthAdjust="spacingAndGlyphs" stroke="#2f6a45" stroke-width="0.18" >22:54</text>
<rect x="886.35" y="491.40" width="0.90" height="2.20" fill="#666" />
<text x="886.80" y="497.32" font-size="6.59" fill="#2f6a45" text-anchor="middle" textLength="13.60" lengthAdjust="spacingAndGlyphs" stroke="#2f6a45" stroke-width="0.18" >22:56</text>
<rect x="918.15" y="491.40" width="0.90" height="2.20" fill="#666" />
<text x="918.60" y="497.32" font-size="6.59" fill="#2f6a45" text-anchor="middle" textLength="13.60" lengthAdjust="spacingAndGlyphs" stroke="#2f6a45" stroke-width="0.18" >22:58</text>
<rect x="949.95" y="491.40" width="0.90" height="2.20" fill="#666" />
<text x="950.40" y="497.32" font-size="6.59" fill="#2f6a45" text-anchor="middle" textLength="13.60" lengthAdjust="spacingAndGlyphs" stroke="#2f6a45" stroke-width="0.18" >23:00</text>
<path d="M153.30 491.00 L158.30 499.20 L148.30 499.20 Z" fill="#ff0000"/>
<path d="M232.70 491.00 L237.70 499.20 L227.70 499.20 Z" fill="#ff0000"/>
<path d="M312.00 491.00 L317.00 499.20 L307.00 499.20 Z" fill="#ff0000"/>
<path d="M497.30 491.00 L502.30 499.20 L492.30 499.20 Z" fill="#ff0000"/>
<path d="M577.30 491.00 L582.30 499.20 L572.30 499.20 Z" fill="#ff0000"/>
<path d="M656.30 491.00 L661.30 499.20 L651.30 499.20 Z" fill="#ff0000"/>
<path d="M736.00 491.00 L741.00 499.20 L731.00 499.20 Z" fill="#ff0000"/>
<text x="16.50" y="507.84" font-size="6.22" fill="#505050" text-anchor="start" textLength="100.16" lengthAdjust="spacingAndGlyphs" stroke="#505050" stroke-width="0.18" >www.umwelt-campus.de (143.93.54.114)</text>
<text x="493.00" y="507.86" font-size="6.27" fill="#303030" text-anchor="middle" textLength="40.00" lengthAdjust="spacingAndGlyphs" stroke="#303030" stroke-width="0.18" >Default Settings</text>
<text x="962.00" y="507.84" font-size="6.22" fill="#505050" text-anchor="end" textLength="65.30" lengthAdjust="spacingAndGlyphs" stroke="#505050" stroke-width="0.18" >60 minutes (22:01 - 23:01)</text>
<circle cx="966.8" cy="505.30" r="2.6" fill="#e0e0e0"/>
<path d="M965.5 504.60 L966.8 505.90 L968.1 504.60" fill="none" stroke="#888" stroke-width="0.5"/>
<text x="14.50" y="512.86" font-size="6.27" fill="#505050" text-anchor="end" textLength="9.34" lengthAdjust="spacingAndGlyphs" stroke="#505050" stroke-width="0.18" >560</text>
<text x="0" y="0" font-size="6.4" fill="#606060" transform="translate(14.7,528.00) rotate(-90)" textLength="12.2" lengthAdjust="spacingAndGlyphs">oms</text>
<text x="970.70" y="513.68" font-size="6.05" fill="#d04a62" text-anchor="start" textLength="6.10" lengthAdjust="spacingAndGlyphs" stroke="#d04a62" stroke-width="0.18" >30</text>
<text x="0" y="0" font-size="6.2" fill="#d04a62" transform="translate(971.1,517.10) rotate(90)" textLength="12" lengthAdjust="spacingAndGlyphs">PL %</text>
<rect x="16.80" y="509.10" width="953.20" height="19.60" fill="#ddf0d5" />
<rect x="16.80" y="509.10" width="953.20" height="16.10" fill="#fde8c8" />
<rect x="16.80" y="509.10" width="953.20" height="12.60" fill="#ffd3d3" />
<polyline points="65.7,527.5 67.0,527.3 68.3,527.3 69.6,527.7 70.9,527.3 72.2,528.0 73.5,527.8 74.8,528.0 76.1,527.2 77.4,528.0 78.7,528.0 80.0,527.6 81.3,527.4 82.6,527.6 83.9,527.1 85.2,526.8 86.5,527.6 87.8,527.9 89.1,527.8 90.4,527.8 91.7,527.2 93.0,527.1 94.3,527.6 95.6,528.0 96.9,527.8 98.2,528.0 99.5,526.8 100.8,526.8 102.1,528.0 103.4,526.8 104.7,526.9 106.0,528.0 107.3,527.5 108.6,527.3 109.9,527.2 111.2,527.5 112.5,527.9 113.8,527.8 115.1,528.0 116.4,527.7 117.7,527.4 119.0,528.0 120.3,527.5 121.6,527.7 122.9,527.7 124.2,527.5 125.5,527.5 126.8,527.4 128.1,527.6 129.4,527.9 130.7,527.4 132.0,527.0 133.3,527.5 134.6,526.9 135.9,527.8 137.2,527.6 138.5,528.0 139.8,527.5 141.1,526.4 142.4,527.2 143.7,528.0 145.0,527.4 146.3,527.7 147.6,527.4 148.9,527.5 150.2,528.0 151.5,528.0 152.8,527.7 154.1,527.8 155.4,528.0 156.7,528.0 158.0,528.0 159.3,527.3 160.6,527.7 161.9,527.9 163.2,528.0 164.5,527.6 165.8,527.8 167.1,528.0 168.4,527.7 169.7,527.9 171.0,528.0 172.3,527.9 173.6,528.0 174.9,528.0 176.2,527.8 177.5,528.0 178.8,528.0 180.1,528.0 181.4,527.6 182.7,527.3 184.0,527.6 185.3,527.6 186.6,528.0 187.9,527.5 189.2,528.0 190.5,527.2 191.8,527.5 193.1,528.0 194.4,527.8 195.7,526.8 197.0,528.0 198.3,527.7 199.6,527.6 200.9,527.3 202.2,527.8 203.5,527.7 204.8,527.6 206.1,527.7 207.4,527.2 208.7,527.1 210.0,528.0 211.3,528.0 212.6,527.6 213.9,528.0 215.2,526.8 216.5,527.5 217.8,527.9 219.1,527.7 220.4,527.5 221.7,527.4 223.0,527.8 224.3,527.6 225.6,527.5 226.9,527.7 228.2,527.8 229.5,527.8 230.8,527.4 232.1,527.8 233.4,527.2 234.7,527.6 236.0,527.6 237.3,528.0 238.6,527.4 239.9,526.7 241.2,526.9 242.5,527.9 243.8,527.5 245.1,527.6 246.4,528.0 247.7,527.7 249.0,527.9 250.3,528.0 251.6,527.9 252.9,528.0 254.2,527.6 255.5,528.0 256.8,527.0 258.1,528.0 259.4,527.6 260.7,527.9 262.0,527.6 263.3,528.0 264.6,528.0 265.9,528.0 267.2,527.8 268.5,528.0 269.8,527.4 271.1,527.9 272.4,527.4 273.7,526.9 275.0,527.6 276.3,527.7 277.6,527.2 278.9,527.8 280.2,527.4 281.5,527.5 282.8,527.5 284.1,528.0 285.4,526.0 286.7,527.6 288.0,527.0 289.3,527.5 290.6,527.0 291.9,527.6 293.2,527.9 294.5,527.4 295.8,528.0 297.1,528.0 298.4,528.0 299.7,527.8 301.0,527.8 302.3,527.1 303.6,527.4 304.9,527.8 306.2,527.7 307.5,528.0 308.8,527.5 310.1,527.4 311.4,527.8 312.7,527.3 314.0,528.0 315.3,527.4 316.6,527.9 317.9,527.7 319.2,527.2 320.5,527.5 321.8,527.6 323.1,527.7 324.4,527.7 325.7,527.4 327.0,527.5 328.3,527.3 329.6,527.5 330.9,527.9 332.2,527.5 333.5,527.3 334.8,528.0 336.1,527.3 337.4,527.6 338.7,526.7 340.0,528.0 341.3,527.6 342.6,527.3 343.9,527.3 345.2,527.7 346.5,527.7 347.8,527.9 349.1,527.8 350.4,527.7" fill="none" stroke="#000" stroke-width="1.05" stroke-linejoin="round"/>
<polyline points="418.0,526.9 419.3,527.5 420.6,527.7 421.9,527.1 423.2,527.5 424.5,528.0 425.8,527.9 427.1,527.2 428.4,527.8 429.7,528.0 431.0,528.0 432.3,527.5 433.6,527.7 434.9,527.6 436.2,528.0 437.5,528.0 438.8,527.2 440.1,527.6 441.4,527.7 442.7,527.9 444.0,527.5 445.3,527.5 446.6,526.7 447.9,527.3 449.2,527.6 450.5,527.9 451.8,527.4 453.1,527.6 454.4,528.0 455.7,527.3 457.0,528.0 458.3,527.5 459.6,527.5 460.9,527.8 462.2,526.9 463.5,527.9 464.8,528.0 466.1,528.0 467.4,527.1 468.7,527.6 470.0,527.4 471.3,527.9 472.6,527.9 473.9,527.4 475.2,526.7 476.5,527.9 477.8,527.2 479.1,527.1 480.4,528.0 481.7,527.9 483.0,528.0 484.3,527.4 485.6,528.0 486.9,528.0 488.2,527.6 489.5,527.4 490.8,527.8 492.1,528.0 493.4,526.1 494.7,527.6 496.0,527.7 497.3,527.8 498.6,527.5 499.9,527.3 501.2,528.0 502.5,528.0 503.8,527.2 505.1,526.0 506.4,527.2 507.7,527.5 509.0,528.0 510.3,528.0 511.6,527.5 512.9,526.9 514.2,528.0 515.5,527.0 516.8,527.4 518.1,528.0 519.4,528.0 520.7,528.0 522.0,527.3 523.3,527.3 524.6,527.7 525.9,527.5 527.2,527.8 528.5,527.9 529.8,527.8 531.1,528.0 532.4,527.5 533.7,527.8 535.0,527.5 536.3,528.0 537.6,527.5 538.9,527.7 540.2,527.6 541.5,528.0 542.8,527.4 544.1,527.3 545.4,527.9 546.7,526.6 548.0,527.8 549.3,528.0 550.6,527.4 551.9,528.0 553.2,527.7 554.5,527.8 555.8,527.5 557.1,527.4 558.4,527.1 559.7,527.4 561.0,527.6 562.3,527.6 563.6,527.7 564.9,526.4 566.2,527.8 567.5,527.9 568.8,528.0 570.1,526.6 571.4,527.9 572.7,527.4 574.0,527.6 575.3,525.9 576.6,527.5 577.9,527.1 579.2,527.8 580.5,527.8 581.8,527.7 583.1,528.0 584.4,527.5 585.7,526.8 587.0,528.0 588.3,528.0 589.6,528.0 590.9,527.4 592.2,527.9 593.5,526.7 594.8,527.2 596.1,527.3 597.4,527.0 598.7,526.9 600.0,527.6 601.3,527.6 602.6,528.0 603.9,527.8 605.2,527.0 606.5,527.0 607.8,527.0 609.1,527.7 610.4,527.9 611.7,527.4 613.0,528.0 614.3,527.9 615.6,527.5 616.9,528.0 618.2,527.6 619.5,528.0 620.8,528.0 622.1,528.0 623.4,527.6 624.7,527.1 626.0,527.7 627.3,528.0 628.6,527.9 629.9,527.6 631.2,528.0 632.5,527.2 633.8,527.6 635.1,527.4 636.4,527.4 637.7,527.5 639.0,527.8 640.3,527.4 641.6,527.2 642.9,527.2 644.2,527.7 645.5,528.0 646.8,527.8 648.1,528.0 649.4,527.7 650.7,527.9 652.0,527.7 653.3,527.5 654.6,526.5 655.9,526.9 657.2,526.9 658.5,527.6 659.8,527.9 661.1,527.7 662.4,526.7 663.7,528.0 665.0,527.6 666.3,528.0 667.6,527.6 668.9,527.4 670.2,527.1 671.5,527.8 672.8,527.6 674.1,527.9 675.4,527.5 676.7,527.0 678.0,527.2 679.3,527.9 680.6,527.7 681.9,528.0 683.2,527.7 684.5,528.0 685.8,527.6 687.1,527.8 688.4,528.0 689.7,526.7 691.0,527.1 692.3,528.0 693.6,527.1 694.9,527.7 696.2,527.2 697.5,527.5 698.8,527.6 700.1,526.8 701.4,527.2 702.7,527.6 704.0,528.0 705.3,528.0 706.6,527.7 707.9,527.5 709.2,527.9 710.5,527.4 711.8,527.7 713.1,527.8 714.4,527.2 715.7,526.7 717.0,527.1 718.3,527.6 719.6,528.0 720.9,527.7 722.2,527.5 723.5,527.9 724.8,527.5 726.1,527.0 727.4,528.0 728.7,527.3 730.0,527.6 731.3,527.9 732.6,527.9 733.9,527.8 735.2,527.0 736.5,527.8 737.8,527.4 739.1,527.4 740.4,527.2 741.7,527.6 743.0,528.0 744.3,527.8 745.6,527.3 746.9,528.0 748.2,527.3 749.5,528.0 750.8,528.0 752.1,528.0 753.4,526.5 754.7,528.0 756.0,527.1 757.3,526.8 758.6,527.4 759.9,527.7 761.2,527.6 762.5,527.7 763.8,527.3 765.1,527.6 766.4,528.0 767.7,527.9 769.0,527.3 770.3,527.2 771.6,527.3 772.9,527.8 774.2,527.3 775.5,526.9 776.8,527.8 778.1,527.9 779.4,527.6 780.7,527.4 782.0,527.7 783.3,528.0 784.6,527.9 785.9,527.5 787.2,528.0 788.5,527.9 789.8,527.6 791.1,527.8 792.4,527.5 793.7,528.0 795.0,526.8 796.3,527.5 797.6,526.9 798.9,528.0 800.2,526.8 801.5,527.6 802.8,527.6 804.1,528.0 805.4,528.0 806.7,527.3 808.0,527.5 809.3,527.4 810.6,527.9 811.9,526.6 813.2,528.0 814.5,528.0 815.8,527.3 817.1,528.0 818.4,527.9 819.7,527.2 821.0,527.2 822.3,527.4 823.6,527.6 824.9,528.0 826.2,527.4 827.5,527.5 828.8,527.5 830.1,527.8 831.4,527.4 832.7,527.7 834.0,526.9 835.3,528.0 836.6,527.6 837.9,528.0 839.2,527.7 840.5,527.5 841.8,527.7 843.1,527.5 844.4,527.4 845.7,528.0 847.0,527.5 848.3,527.9 849.6,527.9 850.9,527.7 852.2,527.4 853.5,527.4 854.8,527.7 856.1,527.8 857.4,527.1 858.7,527.8 860.0,527.6 861.3,526.5 862.6,527.6 863.9,527.6 865.2,527.3 866.5,527.9 867.8,528.0 869.1,527.5 870.4,527.9 871.7,528.0 873.0,527.7 874.3,527.8 875.6,528.0 876.9,527.6 878.2,527.4 879.5,528.0 880.8,527.9 882.1,527.9 883.4,527.5 884.7,527.5 886.0,528.0 887.3,527.3 888.6,527.4 889.9,528.0 891.2,527.4 892.5,527.7 893.8,527.7 895.1,527.3 896.4,527.4 897.7,527.1 899.0,527.7 900.3,527.2 901.6,527.7 902.9,527.9 904.2,527.9 905.5,527.6 906.8,527.9 908.1,527.9 909.4,527.6 910.7,527.3 912.0,527.5 913.3,527.3 914.6,528.0 915.9,528.0 917.2,527.7 918.5,527.4 919.8,527.9 921.1,527.3 922.4,528.0 923.7,526.9 925.0,527.4 926.3,527.2 927.6,527.6 928.9,526.9 930.2,527.4 931.5,527.9 932.8,528.0 934.1,527.6 935.4,527.9 936.7,528.0 938.0,527.6 939.3,527.6 940.6,528.0 941.9,528.0 943.2,526.8 944.5,527.8 945.8,528.0 947.1,528.0 948.4,527.5 949.7,526.9 951.0,527.7 952.3,527.5 953.6,528.0 954.9,528.0 956.2,527.4 957.5,527.4 958.8,526.8 960.1,527.0 961.4,527.4 962.7,528.0 964.0,527.4 965.3,527.1 966.6,527.9 967.9,527.8 969.2,527.4" fill="none" stroke="#000" stroke-width="1.05" stroke-linejoin="round"/>
<rect x="16.80" y="509.10" width="48.90" height="19.60" fill="#c8c8c8" />
<rect x="351.30" y="509.10" width="66.70" height="19.60" fill="#c8c8c8" />
<rect x="231.70" y="509.10" width="1.00" height="19.60" fill="#ff0000" />
<rect x="483.00" y="509.10" width="6.70" height="19.60" fill="#ff0000" />
<rect x="494.00" y="509.10" width="0.80" height="19.60" fill="#ff0000" />
<rect x="717.70" y="509.10" width="0.80" height="19.60" fill="#ff0000" />
<rect x="952.70" y="509.10" width="6.60" height="19.60" fill="#ff0000" />
<rect x="963.70" y="509.10" width="0.80" height="19.60" fill="#ff0000" />
<rect x="963.30" y="513.90" width="0.80" height="14.00" fill="#2a2a2a" />
<rect x="16.20" y="509.10" width="0.90" height="20.00" fill="#6e6e6e" />
<rect x="16.20" y="528.10" width="49.50" height="1.00" fill="#858585" />
<rect x="351.30" y="528.10" width="66.70" height="1.00" fill="#858585" />
<rect x="16.20" y="529.10" width="953.80" height="0.80" fill="#fcfcfc" />
<rect x="27.75" y="528.90" width="0.90" height="2.20" fill="#666" />
<text x="28.20" y="534.82" font-size="6.59" fill="#2f6a45" text-anchor="middle" textLength="13.60" lengthAdjust="spacingAndGlyphs" stroke="#2f6a45" stroke-width="0.18" >22:02</text>
<rect x="59.55" y="528.90" width="0.90" height="2.20" fill="#666" />
<text x="60.00" y="534.82" font-size="6.59" fill="#2f6a45" text-anchor="middle" textLength="13.60" lengthAdjust="spacingAndGlyphs" stroke="#2f6a45" stroke-width="0.18" >22:04</text>
<rect x="91.35" y="528.90" width="0.90" height="2.20" fill="#666" />
<text x="91.80" y="534.82" font-size="6.59" fill="#2f6a45" text-anchor="middle" textLength="13.60" lengthAdjust="spacingAndGlyphs" stroke="#2f6a45" stroke-width="0.18" >22:06</text>
<rect x="123.15" y="528.90" width="0.90" height="2.20" fill="#666" />
<text x="123.60" y="534.82" font-size="6.59" fill="#2f6a45" text-anchor="middle" textLength="13.60" lengthAdjust="spacingAndGlyphs" stroke="#2f6a45" stroke-width="0.18" >22:08</text>
<rect x="154.95" y="528.90" width="0.90" height="2.20" fill="#666" />
<text x="155.40" y="534.82" font-size="6.59" fill="#2f6a45" text-anchor="middle" textLength="13.60" lengthAdjust="spacingAndGlyphs" stroke="#2f6a45" stroke-width="0.18" >22:10</text>
<rect x="186.75" y="528.90" width="0.90" height="2.20" fill="#666" />
<text x="187.20" y="534.82" font-size="6.59" fill="#2f6a45" text-anchor="middle" textLength="13.60" lengthAdjust="spacingAndGlyphs" stroke="#2f6a45" stroke-width="0.18" >22:12</text>
<rect x="218.55" y="528.90" width="0.90" height="2.20" fill="#666" />
<text x="219.00" y="534.82" font-size="6.59" fill="#2f6a45" text-anchor="middle" textLength="13.60" lengthAdjust="spacingAndGlyphs" stroke="#2f6a45" stroke-width="0.18" >22:14</text>
<rect x="250.35" y="528.90" width="0.90" height="2.20" fill="#666" />
<text x="250.80" y="534.82" font-size="6.59" fill="#2f6a45" text-anchor="middle" textLength="13.60" lengthAdjust="spacingAndGlyphs" stroke="#2f6a45" stroke-width="0.18" >22:16</text>
<rect x="282.15" y="528.90" width="0.90" height="2.20" fill="#666" />
<text x="282.60" y="534.82" font-size="6.59" fill="#2f6a45" text-anchor="middle" textLength="13.60" lengthAdjust="spacingAndGlyphs" stroke="#2f6a45" stroke-width="0.18" >22:18</text>
<rect x="313.95" y="528.90" width="0.90" height="2.20" fill="#666" />
<text x="314.40" y="534.82" font-size="6.59" fill="#2f6a45" text-anchor="middle" textLength="13.60" lengthAdjust="spacingAndGlyphs" stroke="#2f6a45" stroke-width="0.18" >22:20</text>
<rect x="345.75" y="528.90" width="0.90" height="2.20" fill="#666" />
<text x="346.20" y="534.82" font-size="6.59" fill="#2f6a45" text-anchor="middle" textLength="13.60" lengthAdjust="spacingAndGlyphs" stroke="#2f6a45" stroke-width="0.18" >22:22</text>
<rect x="377.55" y="528.90" width="0.90" height="2.20" fill="#666" />
<text x="378.00" y="534.82" font-size="6.59" fill="#2f6a45" text-anchor="middle" textLength="13.60" lengthAdjust="spacingAndGlyphs" stroke="#2f6a45" stroke-width="0.18" >22:24</text>
<rect x="409.35" y="528.90" width="0.90" height="2.20" fill="#666" />
<text x="409.80" y="534.82" font-size="6.59" fill="#2f6a45" text-anchor="middle" textLength="13.60" lengthAdjust="spacingAndGlyphs" stroke="#2f6a45" stroke-width="0.18" >22:26</text>
<rect x="441.15" y="528.90" width="0.90" height="2.20" fill="#666" />
<text x="441.60" y="534.82" font-size="6.59" fill="#2f6a45" text-anchor="middle" textLength="13.60" lengthAdjust="spacingAndGlyphs" stroke="#2f6a45" stroke-width="0.18" >22:28</text>
<rect x="472.95" y="528.90" width="0.90" height="2.20" fill="#666" />
<text x="473.40" y="534.82" font-size="6.59" fill="#2f6a45" text-anchor="middle" textLength="13.60" lengthAdjust="spacingAndGlyphs" stroke="#2f6a45" stroke-width="0.18" >22:30</text>
<rect x="504.75" y="528.90" width="0.90" height="2.20" fill="#666" />
<text x="505.20" y="534.82" font-size="6.59" fill="#2f6a45" text-anchor="middle" textLength="13.60" lengthAdjust="spacingAndGlyphs" stroke="#2f6a45" stroke-width="0.18" >22:32</text>
<rect x="536.55" y="528.90" width="0.90" height="2.20" fill="#666" />
<text x="537.00" y="534.82" font-size="6.59" fill="#2f6a45" text-anchor="middle" textLength="13.60" lengthAdjust="spacingAndGlyphs" stroke="#2f6a45" stroke-width="0.18" >22:34</text>
<rect x="568.35" y="528.90" width="0.90" height="2.20" fill="#666" />
<text x="568.80" y="534.82" font-size="6.59" fill="#2f6a45" text-anchor="middle" textLength="13.60" lengthAdjust="spacingAndGlyphs" stroke="#2f6a45" stroke-width="0.18" >22:36</text>
<rect x="600.15" y="528.90" width="0.90" height="2.20" fill="#666" />
<text x="600.60" y="534.82" font-size="6.59" fill="#2f6a45" text-anchor="middle" textLength="13.60" lengthAdjust="spacingAndGlyphs" stroke="#2f6a45" stroke-width="0.18" >22:38</text>
<rect x="631.95" y="528.90" width="0.90" height="2.20" fill="#666" />
<text x="632.40" y="534.82" font-size="6.59" fill="#2f6a45" text-anchor="middle" textLength="13.60" lengthAdjust="spacingAndGlyphs" stroke="#2f6a45" stroke-width="0.18" >22:40</text>
<rect x="663.75" y="528.90" width="0.90" height="2.20" fill="#666" />
<text x="664.20" y="534.82" font-size="6.59" fill="#2f6a45" text-anchor="middle" textLength="13.60" lengthAdjust="spacingAndGlyphs" stroke="#2f6a45" stroke-width="0.18" >22:42</text>
<rect x="695.55" y="528.90" width="0.90" height="2.20" fill="#666" />
<text x="696.00" y="534.82" font-size="6.59" fill="#2f6a45" text-anchor="middle" textLength="13.60" lengthAdjust="spacingAndGlyphs" stroke="#2f6a45" stroke-width="0.18" >22:44</text>
<rect x="727.35" y="528.90" width="0.90" height="2.20" fill="#666" />
<text x="727.80" y="534.82" font-size="6.59" fill="#2f6a45" text-anchor="middle" textLength="13.60" lengthAdjust="spacingAndGlyphs" stroke="#2f6a45" stroke-width="0.18" >22:46</text>
<rect x="759.15" y="528.90" width="0.90" height="2.20" fill="#666" />
<text x="759.60" y="534.82" font-size="6.59" fill="#2f6a45" text-anchor="middle" textLength="13.60" lengthAdjust="spacingAndGlyphs" stroke="#2f6a45" stroke-width="0.18" >22:48</text>
<rect x="790.95" y="528.90" width="0.90" height="2.20" fill="#666" />
<text x="791.40" y="534.82" font-size="6.59" fill="#2f6a45" text-anchor="middle" textLength="13.60" lengthAdjust="spacingAndGlyphs" stroke="#2f6a45" stroke-width="0.18" >22:50</text>
<rect x="822.75" y="528.90" width="0.90" height="2.20" fill="#666" />
<text x="823.20" y="534.82" font-size="6.59" fill="#2f6a45" text-anchor="middle" textLength="13.60" lengthAdjust="spacingAndGlyphs" stroke="#2f6a45" stroke-width="0.18" >22:52</text>
<rect x="854.55" y="528.90" width="0.90" height="2.20" fill="#666" />
<text x="855.00" y="534.82" font-size="6.59" fill="#2f6a45" text-anchor="middle" textLength="13.60" lengthAdjust="spacingAndGlyphs" stroke="#2f6a45" stroke-width="0.18" >22:54</text>
<rect x="886.35" y="528.90" width="0.90" height="2.20" fill="#666" />
<text x="886.80" y="534.82" font-size="6.59" fill="#2f6a45" text-anchor="middle" textLength="13.60" lengthAdjust="spacingAndGlyphs" stroke="#2f6a45" stroke-width="0.18" >22:56</text>
<rect x="918.15" y="528.90" width="0.90" height="2.20" fill="#666" />
<text x="918.60" y="534.82" font-size="6.59" fill="#2f6a45" text-anchor="middle" textLength="13.60" lengthAdjust="spacingAndGlyphs" stroke="#2f6a45" stroke-width="0.18" >22:58</text>
<rect x="949.95" y="528.90" width="0.90" height="2.20" fill="#666" />
<text x="950.40" y="534.82" font-size="6.59" fill="#2f6a45" text-anchor="middle" textLength="13.60" lengthAdjust="spacingAndGlyphs" stroke="#2f6a45" stroke-width="0.18" >23:00</text>
<circle cx="488" cy="200.4" r="1.05" fill="#5a5a5a"/>
<circle cx="492.8" cy="200.4" r="1.05" fill="#5a5a5a"/>
<circle cx="497.6" cy="200.4" r="1.05" fill="#5a5a5a"/>
<rect x="0.00" y="541.00" width="999.00" height="21.00" fill="#1f2d37" />
<rect x="8.20" y="547.00" width="4.20" height="4.20" fill="#e8eef5" />
<rect x="13.00" y="547.00" width="4.20" height="4.20" fill="#e8eef5" />
<rect x="8.20" y="551.80" width="4.20" height="4.20" fill="#e8eef5" />
<rect x="13.00" y="551.80" width="4.20" height="4.20" fill="#e8eef5" />
<rect x="34" y="548" width="5.5" height="7" fill="none" stroke="#cfd6de" stroke-width="0.8"/>
<line x1="33.00" y1="547.30" x2="40.50" y2="547.30" stroke="#cfd6de" stroke-width="0.7" />
<line x1="33.00" y1="555.70" x2="40.50" y2="555.70" stroke="#cfd6de" stroke-width="0.7" />
<line x1="41.50" y1="548.00" x2="41.50" y2="550.50" stroke="#cfd6de" stroke-width="0.7" />
<line x1="41.50" y1="552.00" x2="41.50" y2="555.00" stroke="#cfd6de" stroke-width="0.7" />
<defs><linearGradient id="eg" x1="0" y1="0" x2="0.3" y2="1"><stop offset="0" stop-color="#39c6f2"/><stop offset="1" stop-color="#0d5fb8"/></linearGradient><linearGradient id="eg2" x1="0" y1="0" x2="0" y2="1"><stop offset="0" stop-color="#3dcfa0"/><stop offset="1" stop-color="#6bdc4a"/></linearGradient><radialGradient id="ff" cx="0.45" cy="0.6" r="0.6"><stop offset="0" stop-color="#ff9a1f"/><stop offset="0.7" stop-color="#ff5a2a"/><stop offset="1" stop-color="#e8245a"/></radialGradient></defs>
<circle cx="64" cy="551.5" r="6.2" fill="url(#eg)"/>
<path d="M64.2 545.4 A6.1 6.1 0 0 1 70.2 551.2 Q70 554.2 67.6 555.2 Q65 555.4 64.8 553.6 L66.3 553 Q68 551.2 66.8 549.5 Q65.2 547.8 62 548.4 Q60.3 548.9 59.2 550 Q60.5 545.6 64.2 545.4 Z" fill="url(#eg2)"/>
<circle cx="64.4" cy="551.9" r="1.7" fill="#1f2d37"/>
<circle cx="89.4" cy="552.2" r="5.9" fill="url(#ff)"/>
<path d="M90.8 545.4 Q95.8 547.8 95.2 552.5 Q94.2 549 91.5 548.6 Z" fill="#ffd43a"/>
<path d="M84 549 Q84.8 546.5 86.8 546 Q85.8 548 87 549.5 Z" fill="#ffb020"/>
<circle cx="89.9" cy="552.1" r="3.1" fill="#7b3fe0"/>
<path d="M87.5 550.3 Q89.5 549.5 90.5 551.3 Q88.8 551.4 87.5 550.3 Z" fill="#ff8a30"/>
<rect x="109.00" y="547.30" width="11.40" height="8.70" fill="#f6c844" />
<rect x="109.00" y="546.30" width="4.50" height="1.60" fill="#e2aa22" />
<rect x="111.6" y="551.2" width="6.6" height="4.8" rx="0.6" fill="#2f8fe0"/>
<rect x="113.40" y="553.60" width="3.00" height="2.40" fill="#f6c844" />
<rect x="134.2" y="545.5" width="12.6" height="12.4" rx="1.4" fill="#1e86e0"/>
<rect x="134.50" y="548.20" width="4.60" height="1.30" fill="#e84030" />
<rect x="134.50" y="549.50" width="4.60" height="1.30" fill="#f0b020" />
<rect x="134.50" y="550.80" width="4.60" height="1.30" fill="#40b040" />
<circle cx="142.6" cy="549.5" r="2.2" fill="#fff"/>
<path d="M141.6 551.3 Q139.5 553 139 554.2 L137.6 557 M139.2 553.8 L141.8 553.5" fill="none" stroke="#fff" stroke-width="1.3"/>
<ellipse cx="165.5" cy="552.3" rx="6" ry="4.6" fill="#cdd8e6"/>
<circle cx="163" cy="551" r="1" fill="#e53"/><circle cx="165.5" cy="550" r="1" fill="#3a3"/><circle cx="167.6" cy="553" r="1" fill="#36c"/>
<line x1="166.00" y1="556.00" x2="171.80" y2="545.60" stroke="#e8a050" stroke-width="1.2" />
<rect x="79.30" y="560.50" width="20.70" height="1.50" fill="#8fb6dd" />
<rect x="130.00" y="560.50" width="21.00" height="1.50" fill="#a8cdf0" />
<rect x="155.30" y="560.50" width="20.40" height="1.50" fill="#8fb6dd" />
<path d="M820 555 Q819 551.5 822.5 551.5 Q823.5 548.3 826.8 549 Q829.5 548.6 830 551.5 Q832.3 552 831.5 555 Z" fill="#cfe6f8"/>
<text x="836.50" y="554.88" font-size="7.17" fill="#f4f6f8" text-anchor="start" textLength="10.80" lengthAdjust="spacingAndGlyphs" stroke="#f4f6f8" stroke-width="0.18" >1°C</text>
<text x="852.00" y="554.88" font-size="7.17" fill="#f4f6f8" text-anchor="start" textLength="25.20" lengthAdjust="spacingAndGlyphs" stroke="#f4f6f8" stroke-width="0.18" >Bewölkt</text>
<path d="M887 553.7 L890 550.7 L893 553.7" fill="none" stroke="#e0e6ec" stroke-width="0.8"/>
<rect x="897.5" y="549" width="7" height="5" fill="none" stroke="#d0d8e0" stroke-width="0.7"/>
<line x1="899.00" y1="555.50" x2="903.00" y2="555.50" stroke="#d0d8e0" stroke-width="0.7" />
<path d="M910 550.5 L912 550.5 L914.5 548.5 L914.5 556 L912 554 L910 554 Z" fill="none" stroke="#d0d8e0" stroke-width="0.7"/>
<path d="M916 550 Q917.5 552.3 916 554.5" fill="none" stroke="#d0d8e0" stroke-width="0.6"/>
<rect x="922.3" y="549" width="12.5" height="6.5" fill="none" stroke="#aab3bc" stroke-width="0.7"/>
<rect x="923.80" y="550.60" width="1.10" height="0.80" fill="#8a949e" />
<rect x="925.90" y="550.60" width="1.10" height="0.80" fill="#8a949e" />
<rect x="928.00" y="550.60" width="1.10" height="0.80" fill="#8a949e" />
<rect x="930.10" y="550.60" width="1.10" height="0.80" fill="#8a949e" />
<rect x="932.20" y="550.60" width="1.10" height="0.80" fill="#8a949e" />
<rect x="925.50" y="553.20" width="6.00" height="0.80" fill="#8a949e" />
<text x="954.20" y="549.02" font-size="6.72" fill="#f4f6f8" text-anchor="middle" textLength="14.50" lengthAdjust="spacingAndGlyphs" stroke="#f4f6f8" stroke-width="0.18" >23:01</text>
<text x="954.00" y="558.42" font-size="6.72" fill="#f4f6f8" text-anchor="middle" textLength="28.00" lengthAdjust="spacingAndGlyphs" stroke="#f4f6f8" stroke-width="0.18" >25.11.2021</text>
<path d="M977.8 547.5 L986 547.5 L986 554.3 L983.5 554.3 L981.5 556.5 L981.5 554.3 L977.8 554.3 Z" fill="none" stroke="#dfe5eb" stroke-width="0.7"/></svg>
</body></html>
